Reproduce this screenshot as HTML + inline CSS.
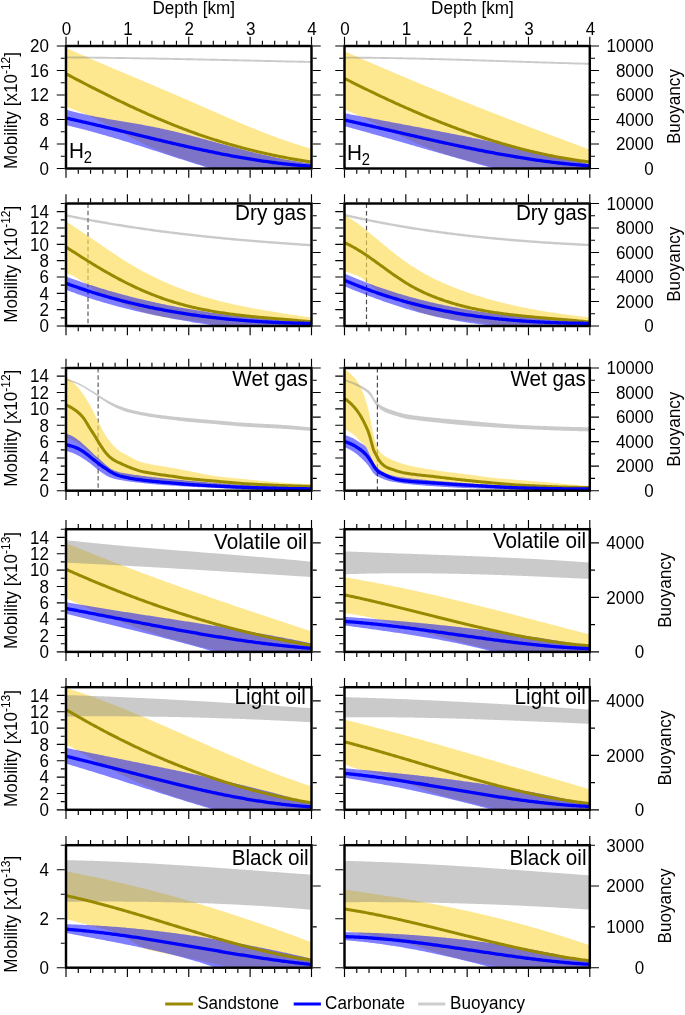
<!DOCTYPE html>
<html><head><meta charset="utf-8"><style>
html,body{margin:0;padding:0;background:#fff;width:685px;height:1015px;overflow:hidden}
svg text{font-family:"Liberation Sans", sans-serif}
svg{will-change:transform}
</style></head><body>
<svg width="685" height="1015" viewBox="0 0 685 1015" style="display:block"><rect width="685" height="1015" fill="#fff"/><defs><clipPath id="cR1L"><rect x="66.0" y="46.0" width="245.5" height="122.5"/></clipPath><clipPath id="cR1R"><rect x="344.5" y="46.0" width="245.29999999999995" height="122.5"/></clipPath><clipPath id="cR2L"><rect x="66.0" y="203.5" width="245.5" height="122.5"/></clipPath><clipPath id="cR2R"><rect x="344.5" y="203.5" width="245.29999999999995" height="122.5"/></clipPath><clipPath id="cR3L"><rect x="66.0" y="368.0" width="245.5" height="122.69999999999999"/></clipPath><clipPath id="cR3R"><rect x="344.5" y="368.0" width="245.29999999999995" height="122.69999999999999"/></clipPath><clipPath id="cR4L"><rect x="66.0" y="529.2" width="245.5" height="122.69999999999993"/></clipPath><clipPath id="cR4R"><rect x="344.5" y="529.2" width="245.29999999999995" height="122.69999999999993"/></clipPath><clipPath id="cR5L"><rect x="66.0" y="687.2" width="245.5" height="122.59999999999991"/></clipPath><clipPath id="cR5R"><rect x="344.5" y="687.2" width="245.29999999999995" height="122.59999999999991"/></clipPath><clipPath id="cR6L"><rect x="66.0" y="845.2" width="245.5" height="122.5"/></clipPath><clipPath id="cR6R"><rect x="344.5" y="845.2" width="245.29999999999995" height="122.5"/></clipPath></defs><g clip-path="url(#cR1L)"><polygon points="66.00,47.88 67.50,48.56 69.01,49.23 70.51,49.90 72.01,50.57 73.52,51.24 75.02,51.90 76.52,52.57 78.02,53.23 79.53,53.89 81.03,54.55 82.53,55.21 84.04,55.87 85.54,56.53 87.04,57.18 88.55,57.84 90.05,58.49 91.55,59.14 93.06,59.79 94.56,60.44 96.06,61.09 97.56,61.74 99.07,62.38 100.57,63.03 102.07,63.67 103.58,64.32 105.08,64.96 106.58,65.60 108.09,66.24 109.59,66.88 111.09,67.52 112.60,68.16 114.10,68.80 115.60,69.44 117.10,70.08 118.61,70.71 120.11,71.35 121.61,71.99 123.12,72.62 124.62,73.26 126.12,73.89 127.63,74.53 129.13,75.16 130.63,75.80 132.13,76.43 133.64,77.06 135.14,77.70 136.64,78.33 138.15,78.97 139.65,79.60 141.15,80.24 142.66,80.87 144.16,81.50 145.66,82.14 147.17,82.77 148.67,83.41 150.17,84.04 151.67,84.68 153.18,85.31 154.68,85.95 156.18,86.59 157.69,87.23 159.19,87.86 160.69,88.50 162.20,89.14 163.70,89.78 165.20,90.42 166.71,91.06 168.21,91.70 169.71,92.34 171.21,92.99 172.72,93.63 174.22,94.28 175.72,94.92 177.23,95.57 178.73,96.22 180.23,96.86 181.74,97.51 183.24,98.17 184.74,98.82 186.25,99.47 187.75,100.12 189.25,100.78 190.75,101.44 192.26,102.09 193.76,102.75 195.26,103.41 196.77,104.07 198.27,104.73 199.77,105.39 201.28,106.05 202.78,106.71 204.28,107.37 205.79,108.03 207.29,108.69 208.79,109.35 210.29,110.01 211.80,110.67 213.30,111.33 214.80,111.99 216.31,112.65 217.81,113.31 219.31,113.97 220.82,114.62 222.32,115.28 223.82,115.93 225.33,116.58 226.83,117.23 228.33,117.88 229.83,118.53 231.34,119.18 232.84,119.82 234.34,120.47 235.85,121.11 237.35,121.75 238.85,122.39 240.36,123.02 241.86,123.65 243.36,124.28 244.87,124.91 246.37,125.54 247.87,126.16 249.37,126.78 250.88,127.40 252.38,128.01 253.88,128.62 255.39,129.23 256.89,129.84 258.39,130.44 259.90,131.03 261.40,131.63 262.90,132.22 264.40,132.81 265.91,133.39 267.41,133.97 268.91,134.54 270.42,135.12 271.92,135.68 273.42,136.25 274.93,136.80 276.43,137.36 277.93,137.91 279.44,138.45 280.94,138.99 282.44,139.53 283.94,140.06 285.45,140.58 286.95,141.10 288.45,141.62 289.96,142.13 291.46,142.63 292.96,143.13 294.47,143.62 295.97,144.11 297.47,144.59 298.98,145.06 300.48,145.53 301.98,145.99 303.48,146.45 304.99,146.90 306.49,147.35 307.99,147.78 309.50,148.21 311.00,148.64 316.00,212.94 225.00,172.94 223.50,172.36 222.00,171.79 220.50,171.24 219.00,170.69 217.50,170.15 216.00,169.62 214.50,169.10 213.00,168.58 211.50,168.08 210.00,167.58 208.50,167.08 207.00,166.59 205.50,166.11 204.00,165.63 202.50,165.15 201.00,164.68 199.50,164.21 198.00,163.74 196.50,163.28 195.00,162.81 193.50,162.35 192.00,161.89 190.50,161.42 189.00,160.96 187.50,160.49 186.00,160.02 184.50,159.55 183.00,159.07 181.50,158.60 180.00,158.11 178.50,157.63 177.00,157.13 175.50,156.64 174.00,156.13 172.50,155.62 171.00,155.10 169.50,154.57 168.00,154.04 166.50,153.49 165.00,152.94 163.50,152.37 162.00,151.80 160.50,151.21 159.00,150.61 157.50,150.00 156.00,149.38 154.50,148.74 153.00,148.09 151.50,147.43 150.00,146.75 148.50,146.07 147.00,145.37 145.50,144.67 144.00,143.95 142.50,143.23 141.00,142.49 139.50,141.75 138.00,141.00 136.50,140.25 135.00,139.49 133.50,138.72 132.00,137.94 130.50,137.17 129.00,136.38 127.50,135.60 126.00,134.81 124.50,134.02 123.00,133.22 121.50,132.43 120.00,131.63 118.50,130.84 117.00,130.04 115.50,129.24 114.00,128.45 112.50,127.66 111.00,126.87 109.50,126.08 108.00,125.29 106.50,124.51 105.00,123.74 103.50,122.97 102.00,122.20 100.50,121.44 99.00,120.69 97.50,119.94 96.00,119.21 94.50,118.48 93.00,117.75 91.50,117.04 90.00,116.34 88.50,115.65 87.00,114.97 85.50,114.30 84.00,113.64 82.50,113.00 81.00,112.37 79.50,111.75 78.00,111.15 76.50,110.56 75.00,109.98 73.50,109.43 72.00,108.89 70.50,108.36 69.00,107.85 67.50,107.36 66.00,106.89" fill="rgba(251.9,219.6,82.7,0.65)"/><polygon points="66.00,56.43 67.50,56.44 69.01,56.45 70.51,56.46 72.01,56.48 73.52,56.49 75.02,56.50 76.52,56.52 78.02,56.53 79.53,56.55 81.03,56.56 82.53,56.58 84.04,56.59 85.54,56.61 87.04,56.62 88.55,56.64 90.05,56.66 91.55,56.67 93.06,56.69 94.56,56.71 96.06,56.73 97.56,56.74 99.07,56.76 100.57,56.78 102.07,56.80 103.58,56.82 105.08,56.84 106.58,56.86 108.09,56.88 109.59,56.90 111.09,56.92 112.60,56.94 114.10,56.96 115.60,56.98 117.10,57.00 118.61,57.03 120.11,57.05 121.61,57.07 123.12,57.09 124.62,57.12 126.12,57.14 127.63,57.16 129.13,57.19 130.63,57.21 132.13,57.23 133.64,57.26 135.14,57.28 136.64,57.31 138.15,57.33 139.65,57.36 141.15,57.38 142.66,57.41 144.16,57.43 145.66,57.46 147.17,57.49 148.67,57.51 150.17,57.54 151.67,57.57 153.18,57.59 154.68,57.62 156.18,57.65 157.69,57.67 159.19,57.70 160.69,57.73 162.20,57.76 163.70,57.79 165.20,57.82 166.71,57.84 168.21,57.87 169.71,57.90 171.21,57.93 172.72,57.96 174.22,57.99 175.72,58.02 177.23,58.05 178.73,58.08 180.23,58.11 181.74,58.14 183.24,58.17 184.74,58.20 186.25,58.23 187.75,58.26 189.25,58.29 190.75,58.32 192.26,58.36 193.76,58.39 195.26,58.42 196.77,58.45 198.27,58.48 199.77,58.51 201.28,58.55 202.78,58.58 204.28,58.61 205.79,58.64 207.29,58.67 208.79,58.71 210.29,58.74 211.80,58.77 213.30,58.81 214.80,58.84 216.31,58.87 217.81,58.90 219.31,58.94 220.82,58.97 222.32,59.00 223.82,59.04 225.33,59.07 226.83,59.10 228.33,59.14 229.83,59.17 231.34,59.21 232.84,59.24 234.34,59.27 235.85,59.31 237.35,59.34 238.85,59.38 240.36,59.41 241.86,59.44 243.36,59.48 244.87,59.51 246.37,59.55 247.87,59.58 249.37,59.62 250.88,59.65 252.38,59.68 253.88,59.72 255.39,59.75 256.89,59.79 258.39,59.82 259.90,59.86 261.40,59.89 262.90,59.93 264.40,59.96 265.91,60.00 267.41,60.03 268.91,60.07 270.42,60.10 271.92,60.14 273.42,60.17 274.93,60.20 276.43,60.24 277.93,60.27 279.44,60.31 280.94,60.34 282.44,60.38 283.94,60.41 285.45,60.45 286.95,60.48 288.45,60.52 289.96,60.55 291.46,60.59 292.96,60.62 294.47,60.65 295.97,60.69 297.47,60.72 298.98,60.76 300.48,60.79 301.98,60.83 303.48,60.86 304.99,60.89 306.49,60.93 307.99,60.96 309.50,61.00 311.00,61.03 311.00,62.93 309.50,62.90 307.99,62.86 306.49,62.83 304.99,62.79 303.48,62.76 301.98,62.73 300.48,62.69 298.98,62.66 297.47,62.62 295.97,62.59 294.47,62.55 292.96,62.52 291.46,62.49 289.96,62.45 288.45,62.42 286.95,62.38 285.45,62.35 283.94,62.31 282.44,62.28 280.94,62.24 279.44,62.21 277.93,62.17 276.43,62.14 274.93,62.10 273.42,62.07 271.92,62.04 270.42,62.00 268.91,61.97 267.41,61.93 265.91,61.90 264.40,61.86 262.90,61.83 261.40,61.79 259.90,61.76 258.39,61.72 256.89,61.69 255.39,61.65 253.88,61.62 252.38,61.58 250.88,61.55 249.37,61.52 247.87,61.48 246.37,61.45 244.87,61.41 243.36,61.38 241.86,61.34 240.36,61.31 238.85,61.28 237.35,61.24 235.85,61.21 234.34,61.17 232.84,61.14 231.34,61.11 229.83,61.07 228.33,61.04 226.83,61.00 225.33,60.97 223.82,60.94 222.32,60.90 220.82,60.87 219.31,60.84 217.81,60.80 216.31,60.77 214.80,60.74 213.30,60.71 211.80,60.67 210.29,60.64 208.79,60.61 207.29,60.57 205.79,60.54 204.28,60.51 202.78,60.48 201.28,60.45 199.77,60.41 198.27,60.38 196.77,60.35 195.26,60.32 193.76,60.29 192.26,60.26 190.75,60.22 189.25,60.19 187.75,60.16 186.25,60.13 184.74,60.10 183.24,60.07 181.74,60.04 180.23,60.01 178.73,59.98 177.23,59.95 175.72,59.92 174.22,59.89 172.72,59.86 171.21,59.83 169.71,59.80 168.21,59.77 166.71,59.74 165.20,59.72 163.70,59.69 162.20,59.66 160.69,59.63 159.19,59.60 157.69,59.57 156.18,59.55 154.68,59.52 153.18,59.49 151.67,59.47 150.17,59.44 148.67,59.41 147.17,59.39 145.66,59.36 144.16,59.33 142.66,59.31 141.15,59.28 139.65,59.26 138.15,59.23 136.64,59.21 135.14,59.18 133.64,59.16 132.13,59.13 130.63,59.11 129.13,59.09 127.63,59.06 126.12,59.04 124.62,59.02 123.12,58.99 121.61,58.97 120.11,58.95 118.61,58.93 117.10,58.90 115.60,58.88 114.10,58.86 112.60,58.84 111.09,58.82 109.59,58.80 108.09,58.78 106.58,58.76 105.08,58.74 103.58,58.72 102.07,58.70 100.57,58.68 99.07,58.66 97.56,58.64 96.06,58.63 94.56,58.61 93.06,58.59 91.55,58.57 90.05,58.56 88.55,58.54 87.04,58.52 85.54,58.51 84.04,58.49 82.53,58.48 81.03,58.46 79.53,58.45 78.02,58.43 76.52,58.42 75.02,58.40 73.52,58.39 72.01,58.38 70.51,58.36 69.01,58.35 67.50,58.34 66.00,58.33" fill="rgba(128,128,128,0.42)"/><polygon points="66.00,109.69 67.50,110.11 69.01,110.52 70.51,110.92 72.01,111.31 73.52,111.70 75.02,112.07 76.52,112.44 78.02,112.80 79.53,113.16 81.03,113.51 82.53,113.85 84.04,114.19 85.54,114.52 87.04,114.84 88.55,115.16 90.05,115.47 91.55,115.78 93.06,116.08 94.56,116.38 96.06,116.68 97.56,116.97 99.07,117.25 100.57,117.53 102.07,117.81 103.58,118.09 105.08,118.36 106.58,118.63 108.09,118.90 109.59,119.16 111.09,119.42 112.60,119.68 114.10,119.94 115.60,120.20 117.10,120.46 118.61,120.71 120.11,120.97 121.61,121.22 123.12,121.47 124.62,121.73 126.12,121.98 127.63,122.24 129.13,122.49 130.63,122.75 132.13,123.00 133.64,123.26 135.14,123.52 136.64,123.78 138.15,124.05 139.65,124.31 141.15,124.58 142.66,124.85 144.16,125.13 145.66,125.40 147.17,125.68 148.67,125.97 150.17,126.26 151.67,126.55 153.18,126.85 154.68,127.15 156.18,127.45 157.69,127.76 159.19,128.08 160.69,128.40 162.20,128.72 163.70,129.05 165.20,129.39 166.71,129.73 168.21,130.07 169.71,130.42 171.21,130.77 172.72,131.12 174.22,131.48 175.72,131.84 177.23,132.20 178.73,132.57 180.23,132.94 181.74,133.32 183.24,133.69 184.74,134.07 186.25,134.46 187.75,134.84 189.25,135.23 190.75,135.62 192.26,136.01 193.76,136.40 195.26,136.80 196.77,137.20 198.27,137.60 199.77,138.00 201.28,138.40 202.78,138.80 204.28,139.21 205.79,139.61 207.29,140.02 208.79,140.43 210.29,140.84 211.80,141.25 213.30,141.66 214.80,142.07 216.31,142.48 217.81,142.89 219.31,143.30 220.82,143.71 222.32,144.12 223.82,144.53 225.33,144.94 226.83,145.34 228.33,145.75 229.83,146.16 231.34,146.56 232.84,146.97 234.34,147.37 235.85,147.77 237.35,148.17 238.85,148.57 240.36,148.97 241.86,149.37 243.36,149.76 244.87,150.15 246.37,150.54 247.87,150.93 249.37,151.31 250.88,151.69 252.38,152.07 253.88,152.45 255.39,152.82 256.89,153.19 258.39,153.56 259.90,153.92 261.40,154.28 262.90,154.64 264.40,154.99 265.91,155.34 267.41,155.68 268.91,156.02 270.42,156.36 271.92,156.69 273.42,157.02 274.93,157.35 276.43,157.67 277.93,157.98 279.44,158.29 280.94,158.59 282.44,158.89 283.94,159.19 285.45,159.47 286.95,159.76 288.45,160.04 289.96,160.31 291.46,160.57 292.96,160.83 294.47,161.09 295.97,161.33 297.47,161.57 298.98,161.81 300.48,162.04 301.98,162.26 303.48,162.47 304.99,162.68 306.49,162.88 307.99,163.07 309.50,163.26 311.00,163.44 316.00,212.79 225.00,172.79 223.50,172.36 222.00,171.92 220.50,171.48 219.00,171.03 217.50,170.59 216.00,170.14 214.50,169.69 213.00,169.23 211.50,168.78 210.00,168.32 208.50,167.86 207.00,167.40 205.50,166.94 204.00,166.48 202.50,166.01 201.00,165.54 199.50,165.08 198.00,164.61 196.50,164.13 195.00,163.66 193.50,163.19 192.00,162.71 190.50,162.24 189.00,161.76 187.50,161.28 186.00,160.80 184.50,160.32 183.00,159.84 181.50,159.36 180.00,158.88 178.50,158.39 177.00,157.91 175.50,157.43 174.00,156.94 172.50,156.46 171.00,155.97 169.50,155.49 168.00,155.00 166.50,154.52 165.00,154.03 163.50,153.55 162.00,153.06 160.50,152.58 159.00,152.09 157.50,151.61 156.00,151.12 154.50,150.64 153.00,150.16 151.50,149.67 150.00,149.19 148.50,148.71 147.00,148.23 145.50,147.75 144.00,147.27 142.50,146.79 141.00,146.31 139.50,145.84 138.00,145.36 136.50,144.89 135.00,144.42 133.50,143.95 132.00,143.48 130.50,143.01 129.00,142.54 127.50,142.08 126.00,141.61 124.50,141.15 123.00,140.69 121.50,140.23 120.00,139.78 118.50,139.32 117.00,138.87 115.50,138.42 114.00,137.97 112.50,137.53 111.00,137.08 109.50,136.64 108.00,136.20 106.50,135.77 105.00,135.34 103.50,134.90 102.00,134.48 100.50,134.05 99.00,133.63 97.50,133.21 96.00,132.79 94.50,132.38 93.00,131.97 91.50,131.56 90.00,131.15 88.50,130.75 87.00,130.35 85.50,129.96 84.00,129.57 82.50,129.18 81.00,128.80 79.50,128.42 78.00,128.04 76.50,127.67 75.00,127.30 73.50,126.93 72.00,126.57 70.50,126.21 69.00,125.86 67.50,125.51 66.00,125.17" fill="rgba(0,0,255,0.5)"/><polyline points="66.00,73.83 67.50,74.62 69.01,75.41 70.51,76.20 72.01,76.99 73.52,77.77 75.02,78.55 76.52,79.34 78.02,80.12 79.53,80.90 81.03,81.68 82.53,82.45 84.04,83.23 85.54,84.00 87.04,84.78 88.55,85.55 90.05,86.32 91.55,87.08 93.06,87.85 94.56,88.61 96.06,89.37 97.56,90.13 99.07,90.89 100.57,91.65 102.07,92.40 103.58,93.15 105.08,93.90 106.58,94.65 108.09,95.40 109.59,96.14 111.09,96.88 112.60,97.62 114.10,98.35 115.60,99.09 117.10,99.82 118.61,100.55 120.11,101.27 121.61,102.00 123.12,102.72 124.62,103.43 126.12,104.15 127.63,104.86 129.13,105.57 130.63,106.28 132.13,106.98 133.64,107.68 135.14,108.38 136.64,109.07 138.15,109.76 139.65,110.45 141.15,111.13 142.66,111.81 144.16,112.49 145.66,113.17 147.17,113.84 148.67,114.51 150.17,115.17 151.67,115.83 153.18,116.49 154.68,117.14 156.18,117.79 157.69,118.44 159.19,119.08 160.69,119.72 162.20,120.35 163.70,120.98 165.20,121.61 166.71,122.23 168.21,122.85 169.71,123.46 171.21,124.07 172.72,124.68 174.22,125.28 175.72,125.88 177.23,126.47 178.73,127.06 180.23,127.64 181.74,128.22 183.24,128.79 184.74,129.37 186.25,129.93 187.75,130.49 189.25,131.05 190.75,131.60 192.26,132.15 193.76,132.69 195.26,133.23 196.77,133.76 198.27,134.29 199.77,134.81 201.28,135.33 202.78,135.85 204.28,136.36 205.79,136.87 207.29,137.37 208.79,137.87 210.29,138.36 211.80,138.85 213.30,139.33 214.80,139.81 216.31,140.28 217.81,140.76 219.31,141.22 220.82,141.68 222.32,142.14 223.82,142.59 225.33,143.04 226.83,143.49 228.33,143.93 229.83,144.36 231.34,144.79 232.84,145.22 234.34,145.64 235.85,146.06 237.35,146.48 238.85,146.89 240.36,147.29 241.86,147.70 243.36,148.09 244.87,148.49 246.37,148.88 247.87,149.26 249.37,149.64 250.88,150.02 252.38,150.39 253.88,150.76 255.39,151.13 256.89,151.49 258.39,151.84 259.90,152.19 261.40,152.54 262.90,152.89 264.40,153.23 265.91,153.56 267.41,153.90 268.91,154.22 270.42,154.55 271.92,154.87 273.42,155.19 274.93,155.50 276.43,155.81 277.93,156.11 279.44,156.41 280.94,156.71 282.44,157.00 283.94,157.29 285.45,157.58 286.95,157.86 288.45,158.14 289.96,158.41 291.46,158.68 292.96,158.95 294.47,159.21 295.97,159.47 297.47,159.73 298.98,159.98 300.48,160.23 301.98,160.47 303.48,160.71 304.99,160.95 306.49,161.18 307.99,161.41 309.50,161.64 311.00,161.86" fill="none" stroke="rgb(152,137,0)" stroke-width="3" stroke-linejoin="round"/><polyline points="66.00,118.06 67.50,118.39 69.01,118.72 70.51,119.05 72.01,119.39 73.52,119.72 75.02,120.06 76.52,120.40 78.02,120.74 79.53,121.08 81.03,121.42 82.53,121.77 84.04,122.11 85.54,122.46 87.04,122.81 88.55,123.16 90.05,123.51 91.55,123.86 93.06,124.21 94.56,124.56 96.06,124.92 97.56,125.27 99.07,125.63 100.57,125.98 102.07,126.34 103.58,126.70 105.08,127.06 106.58,127.42 108.09,127.77 109.59,128.14 111.09,128.50 112.60,128.86 114.10,129.22 115.60,129.58 117.10,129.94 118.61,130.31 120.11,130.67 121.61,131.03 123.12,131.40 124.62,131.76 126.12,132.13 127.63,132.49 129.13,132.86 130.63,133.22 132.13,133.58 133.64,133.95 135.14,134.31 136.64,134.68 138.15,135.04 139.65,135.41 141.15,135.77 142.66,136.13 144.16,136.50 145.66,136.86 147.17,137.22 148.67,137.58 150.17,137.95 151.67,138.31 153.18,138.67 154.68,139.03 156.18,139.39 157.69,139.75 159.19,140.11 160.69,140.46 162.20,140.82 163.70,141.18 165.20,141.53 166.71,141.89 168.21,142.24 169.71,142.59 171.21,142.94 172.72,143.29 174.22,143.64 175.72,143.99 177.23,144.34 178.73,144.69 180.23,145.03 181.74,145.37 183.24,145.72 184.74,146.06 186.25,146.40 187.75,146.74 189.25,147.07 190.75,147.41 192.26,147.74 193.76,148.08 195.26,148.41 196.77,148.74 198.27,149.06 199.77,149.39 201.28,149.71 202.78,150.04 204.28,150.36 205.79,150.68 207.29,150.99 208.79,151.31 210.29,151.62 211.80,151.93 213.30,152.24 214.80,152.55 216.31,152.85 217.81,153.16 219.31,153.46 220.82,153.76 222.32,154.05 223.82,154.35 225.33,154.64 226.83,154.93 228.33,155.21 229.83,155.50 231.34,155.78 232.84,156.06 234.34,156.34 235.85,156.61 237.35,156.88 238.85,157.15 240.36,157.42 241.86,157.68 243.36,157.94 244.87,158.20 246.37,158.45 247.87,158.71 249.37,158.96 250.88,159.20 252.38,159.45 253.88,159.69 255.39,159.92 256.89,160.16 258.39,160.39 259.90,160.62 261.40,160.84 262.90,161.06 264.40,161.28 265.91,161.49 267.41,161.70 268.91,161.91 270.42,162.12 271.92,162.32 273.42,162.51 274.93,162.71 276.43,162.90 277.93,163.08 279.44,163.27 280.94,163.45 282.44,163.62 283.94,163.79 285.45,163.96 286.95,164.12 288.45,164.28 289.96,164.44 291.46,164.59 292.96,164.74 294.47,164.88 295.97,165.02 297.47,165.16 298.98,165.29 300.48,165.42 301.98,165.54 303.48,165.66 304.99,165.77 306.49,165.88 307.99,165.99 309.50,166.09 311.00,166.18" fill="none" stroke="rgb(0,0,255)" stroke-width="3.3" stroke-linejoin="round"/></g><g clip-path="url(#cR1R)"><polygon points="344.60,51.28 346.11,51.95 347.62,52.62 349.13,53.28 350.63,53.95 352.14,54.62 353.65,55.28 355.16,55.95 356.67,56.61 358.18,57.28 359.69,57.94 361.20,58.60 362.70,59.26 364.21,59.92 365.72,60.57 367.23,61.23 368.74,61.89 370.25,62.54 371.76,63.20 373.26,63.85 374.77,64.50 376.28,65.15 377.79,65.80 379.30,66.45 380.81,67.10 382.32,67.75 383.82,68.39 385.33,69.04 386.84,69.69 388.35,70.33 389.86,70.97 391.37,71.61 392.88,72.26 394.39,72.90 395.89,73.53 397.40,74.17 398.91,74.81 400.42,75.45 401.93,76.08 403.44,76.72 404.95,77.35 406.45,77.99 407.96,78.62 409.47,79.25 410.98,79.88 412.49,80.51 414.00,81.14 415.51,81.77 417.01,82.39 418.52,83.02 420.03,83.65 421.54,84.27 423.05,84.89 424.56,85.52 426.07,86.14 427.58,86.76 429.08,87.38 430.59,88.00 432.10,88.62 433.61,89.24 435.12,89.86 436.63,90.47 438.14,91.09 439.64,91.70 441.15,92.32 442.66,92.93 444.17,93.55 445.68,94.16 447.19,94.77 448.70,95.38 450.20,95.99 451.71,96.60 453.22,97.21 454.73,97.81 456.24,98.42 457.75,99.03 459.26,99.63 460.77,100.23 462.27,100.84 463.78,101.44 465.29,102.04 466.80,102.65 468.31,103.25 469.82,103.85 471.33,104.45 472.83,105.04 474.34,105.64 475.85,106.24 477.36,106.84 478.87,107.43 480.38,108.03 481.89,108.62 483.40,109.22 484.90,109.81 486.41,110.40 487.92,110.99 489.43,111.58 490.94,112.17 492.45,112.76 493.96,113.35 495.46,113.94 496.97,114.53 498.48,115.12 499.99,115.70 501.50,116.29 503.01,116.87 504.52,117.46 506.02,118.04 507.53,118.63 509.04,119.21 510.55,119.79 512.06,120.37 513.57,120.95 515.08,121.53 516.59,122.11 518.09,122.69 519.60,123.27 521.11,123.85 522.62,124.43 524.13,125.00 525.64,125.58 527.15,126.16 528.65,126.73 530.16,127.30 531.67,127.88 533.18,128.45 534.69,129.02 536.20,129.60 537.71,130.17 539.21,130.74 540.72,131.31 542.23,131.88 543.74,132.45 545.25,133.02 546.76,133.59 548.27,134.15 549.78,134.72 551.28,135.29 552.79,135.86 554.30,136.42 555.81,136.99 557.32,137.55 558.83,138.12 560.34,138.68 561.84,139.24 563.35,139.81 564.86,140.37 566.37,140.93 567.88,141.49 569.39,142.05 570.90,142.61 572.40,143.17 573.91,143.73 575.42,144.29 576.93,144.85 578.44,145.41 579.95,145.96 581.46,146.52 582.97,147.08 584.47,147.63 585.98,148.19 587.49,148.75 589.00,149.30 594.00,212.10 510.00,172.10 508.50,171.61 506.99,171.13 505.49,170.65 503.99,170.19 502.48,169.73 500.98,169.28 499.47,168.84 497.97,168.41 496.47,167.98 494.96,167.56 493.46,167.14 491.96,166.73 490.45,166.32 488.95,165.92 487.45,165.52 485.94,165.13 484.44,164.74 482.93,164.35 481.43,163.96 479.93,163.58 478.42,163.19 476.92,162.81 475.42,162.43 473.91,162.05 472.41,161.66 470.91,161.28 469.40,160.89 467.90,160.51 466.39,160.12 464.89,159.73 463.39,159.33 461.88,158.93 460.38,158.53 458.88,158.12 457.37,157.71 455.87,157.30 454.37,156.87 452.86,156.45 451.36,156.01 449.85,155.57 448.35,155.12 446.85,154.66 445.34,154.20 443.84,153.72 442.34,153.24 440.83,152.75 439.33,152.24 437.83,151.73 436.32,151.21 434.82,150.67 433.31,150.12 431.81,149.56 430.31,149.00 428.80,148.41 427.30,147.82 425.80,147.22 424.29,146.61 422.79,145.99 421.29,145.37 419.78,144.73 418.28,144.08 416.77,143.43 415.27,142.77 413.77,142.10 412.26,141.43 410.76,140.75 409.26,140.06 407.75,139.37 406.25,138.67 404.75,137.96 403.24,137.26 401.74,136.54 400.23,135.82 398.73,135.10 397.23,134.38 395.72,133.65 394.22,132.92 392.72,132.19 391.21,131.45 389.71,130.72 388.21,129.98 386.70,129.24 385.20,128.50 383.69,127.76 382.19,127.02 380.69,126.28 379.18,125.54 377.68,124.81 376.18,124.07 374.67,123.33 373.17,122.60 371.67,121.87 370.16,121.14 368.66,120.42 367.15,119.70 365.65,118.98 364.15,118.27 362.64,117.56 361.14,116.86 359.64,116.16 358.13,115.46 356.63,114.78 355.13,114.10 353.62,113.42 352.12,112.75 350.61,112.09 349.11,111.44 347.61,110.80 346.10,110.16 344.60,109.53" fill="rgba(251.9,219.6,82.7,0.65)"/><polygon points="344.60,56.66 346.11,56.66 347.62,56.67 349.13,56.68 350.63,56.68 352.14,56.69 353.65,56.70 355.16,56.71 356.67,56.72 358.18,56.73 359.69,56.75 361.20,56.76 362.70,56.77 364.21,56.79 365.72,56.80 367.23,56.82 368.74,56.83 370.25,56.85 371.76,56.87 373.26,56.89 374.77,56.91 376.28,56.93 377.79,56.95 379.30,56.97 380.81,56.99 382.32,57.01 383.82,57.04 385.33,57.06 386.84,57.08 388.35,57.11 389.86,57.13 391.37,57.16 392.88,57.19 394.39,57.21 395.89,57.24 397.40,57.27 398.91,57.30 400.42,57.33 401.93,57.36 403.44,57.39 404.95,57.42 406.45,57.45 407.96,57.48 409.47,57.52 410.98,57.55 412.49,57.58 414.00,57.62 415.51,57.65 417.01,57.69 418.52,57.72 420.03,57.76 421.54,57.79 423.05,57.83 424.56,57.87 426.07,57.90 427.58,57.94 429.08,57.98 430.59,58.02 432.10,58.06 433.61,58.10 435.12,58.14 436.63,58.18 438.14,58.22 439.64,58.26 441.15,58.30 442.66,58.34 444.17,58.38 445.68,58.43 447.19,58.47 448.70,58.51 450.20,58.56 451.71,58.60 453.22,58.64 454.73,58.69 456.24,58.73 457.75,58.78 459.26,58.82 460.77,58.87 462.27,58.91 463.78,58.96 465.29,59.00 466.80,59.05 468.31,59.09 469.82,59.14 471.33,59.19 472.83,59.23 474.34,59.28 475.85,59.33 477.36,59.38 478.87,59.42 480.38,59.47 481.89,59.52 483.40,59.57 484.90,59.62 486.41,59.66 487.92,59.71 489.43,59.76 490.94,59.81 492.45,59.86 493.96,59.91 495.46,59.96 496.97,60.01 498.48,60.05 499.99,60.10 501.50,60.15 503.01,60.20 504.52,60.25 506.02,60.30 507.53,60.35 509.04,60.40 510.55,60.45 512.06,60.50 513.57,60.55 515.08,60.60 516.59,60.65 518.09,60.70 519.60,60.75 521.11,60.79 522.62,60.84 524.13,60.89 525.64,60.94 527.15,60.99 528.65,61.04 530.16,61.09 531.67,61.14 533.18,61.19 534.69,61.24 536.20,61.28 537.71,61.33 539.21,61.38 540.72,61.43 542.23,61.48 543.74,61.52 545.25,61.57 546.76,61.62 548.27,61.67 549.78,61.71 551.28,61.76 552.79,61.81 554.30,61.86 555.81,61.90 557.32,61.95 558.83,61.99 560.34,62.04 561.84,62.09 563.35,62.13 564.86,62.18 566.37,62.22 567.88,62.26 569.39,62.31 570.90,62.35 572.40,62.40 573.91,62.44 575.42,62.48 576.93,62.53 578.44,62.57 579.95,62.61 581.46,62.65 582.97,62.69 584.47,62.74 585.98,62.78 587.49,62.82 589.00,62.86 589.00,64.76 587.49,64.72 585.98,64.68 584.47,64.64 582.97,64.59 581.46,64.55 579.95,64.51 578.44,64.47 576.93,64.43 575.42,64.38 573.91,64.34 572.40,64.30 570.90,64.25 569.39,64.21 567.88,64.16 566.37,64.12 564.86,64.08 563.35,64.03 561.84,63.99 560.34,63.94 558.83,63.89 557.32,63.85 555.81,63.80 554.30,63.76 552.79,63.71 551.28,63.66 549.78,63.61 548.27,63.57 546.76,63.52 545.25,63.47 543.74,63.42 542.23,63.38 540.72,63.33 539.21,63.28 537.71,63.23 536.20,63.18 534.69,63.14 533.18,63.09 531.67,63.04 530.16,62.99 528.65,62.94 527.15,62.89 525.64,62.84 524.13,62.79 522.62,62.74 521.11,62.69 519.60,62.65 518.09,62.60 516.59,62.55 515.08,62.50 513.57,62.45 512.06,62.40 510.55,62.35 509.04,62.30 507.53,62.25 506.02,62.20 504.52,62.15 503.01,62.10 501.50,62.05 499.99,62.00 498.48,61.95 496.97,61.91 495.46,61.86 493.96,61.81 492.45,61.76 490.94,61.71 489.43,61.66 487.92,61.61 486.41,61.56 484.90,61.52 483.40,61.47 481.89,61.42 480.38,61.37 478.87,61.32 477.36,61.28 475.85,61.23 474.34,61.18 472.83,61.13 471.33,61.09 469.82,61.04 468.31,60.99 466.80,60.95 465.29,60.90 463.78,60.86 462.27,60.81 460.77,60.77 459.26,60.72 457.75,60.68 456.24,60.63 454.73,60.59 453.22,60.54 451.71,60.50 450.20,60.46 448.70,60.41 447.19,60.37 445.68,60.33 444.17,60.28 442.66,60.24 441.15,60.20 439.64,60.16 438.14,60.12 436.63,60.08 435.12,60.04 433.61,60.00 432.10,59.96 430.59,59.92 429.08,59.88 427.58,59.84 426.07,59.80 424.56,59.77 423.05,59.73 421.54,59.69 420.03,59.66 418.52,59.62 417.01,59.59 415.51,59.55 414.00,59.52 412.49,59.48 410.98,59.45 409.47,59.42 407.96,59.38 406.45,59.35 404.95,59.32 403.44,59.29 401.93,59.26 400.42,59.23 398.91,59.20 397.40,59.17 395.89,59.14 394.39,59.11 392.88,59.09 391.37,59.06 389.86,59.03 388.35,59.01 386.84,58.98 385.33,58.96 383.82,58.94 382.32,58.91 380.81,58.89 379.30,58.87 377.79,58.85 376.28,58.83 374.77,58.81 373.26,58.79 371.76,58.77 370.25,58.75 368.74,58.73 367.23,58.72 365.72,58.70 364.21,58.69 362.70,58.67 361.20,58.66 359.69,58.65 358.18,58.63 356.67,58.62 355.16,58.61 353.65,58.60 352.14,58.59 350.63,58.58 349.13,58.58 347.62,58.57 346.11,58.56 344.60,58.56" fill="rgba(128,128,128,0.42)"/><polygon points="344.60,113.22 346.11,113.51 347.62,113.80 349.13,114.09 350.63,114.38 352.14,114.67 353.65,114.96 355.16,115.25 356.67,115.53 358.18,115.82 359.69,116.11 361.20,116.40 362.70,116.69 364.21,116.98 365.72,117.26 367.23,117.55 368.74,117.84 370.25,118.12 371.76,118.41 373.26,118.70 374.77,118.98 376.28,119.27 377.79,119.56 379.30,119.84 380.81,120.13 382.32,120.41 383.82,120.70 385.33,120.99 386.84,121.27 388.35,121.56 389.86,121.84 391.37,122.13 392.88,122.42 394.39,122.70 395.89,122.99 397.40,123.27 398.91,123.56 400.42,123.85 401.93,124.13 403.44,124.42 404.95,124.70 406.45,124.99 407.96,125.28 409.47,125.56 410.98,125.85 412.49,126.14 414.00,126.42 415.51,126.71 417.01,127.00 418.52,127.29 420.03,127.58 421.54,127.86 423.05,128.15 424.56,128.44 426.07,128.73 427.58,129.02 429.08,129.31 430.59,129.60 432.10,129.89 433.61,130.18 435.12,130.47 436.63,130.76 438.14,131.05 439.64,131.34 441.15,131.64 442.66,131.93 444.17,132.22 445.68,132.52 447.19,132.81 448.70,133.10 450.20,133.40 451.71,133.69 453.22,133.99 454.73,134.29 456.24,134.58 457.75,134.88 459.26,135.18 460.77,135.48 462.27,135.77 463.78,136.07 465.29,136.37 466.80,136.67 468.31,136.98 469.82,137.28 471.33,137.58 472.83,137.88 474.34,138.19 475.85,138.49 477.36,138.80 478.87,139.10 480.38,139.41 481.89,139.71 483.40,140.02 484.90,140.33 486.41,140.64 487.92,140.95 489.43,141.26 490.94,141.57 492.45,141.88 493.96,142.20 495.46,142.51 496.97,142.83 498.48,143.14 499.99,143.46 501.50,143.77 503.01,144.09 504.52,144.41 506.02,144.73 507.53,145.05 509.04,145.37 510.55,145.69 512.06,146.02 513.57,146.34 515.08,146.67 516.59,146.99 518.09,147.32 519.60,147.65 521.11,147.98 522.62,148.31 524.13,148.64 525.64,148.97 527.15,149.30 528.65,149.64 530.16,149.97 531.67,150.31 533.18,150.65 534.69,150.99 536.20,151.33 537.71,151.67 539.21,152.01 540.72,152.35 542.23,152.70 543.74,153.04 545.25,153.39 546.76,153.74 548.27,154.09 549.78,154.44 551.28,154.79 552.79,155.14 554.30,155.49 555.81,155.85 557.32,156.21 558.83,156.56 560.34,156.92 561.84,157.28 563.35,157.64 564.86,158.01 566.37,158.37 567.88,158.74 569.39,159.10 570.90,159.47 572.40,159.84 573.91,160.21 575.42,160.59 576.93,160.96 578.44,161.34 579.95,161.71 581.46,162.09 582.97,162.47 584.47,162.85 585.98,163.24 587.49,163.62 589.00,164.01 594.00,211.56 505.00,171.56 503.49,171.14 501.97,170.73 500.46,170.31 498.95,169.89 497.43,169.48 495.92,169.06 494.41,168.64 492.89,168.22 491.38,167.80 489.87,167.37 488.35,166.95 486.84,166.53 485.33,166.11 483.82,165.68 482.30,165.26 480.79,164.83 479.28,164.40 477.76,163.98 476.25,163.55 474.74,163.12 473.22,162.69 471.71,162.27 470.20,161.84 468.68,161.41 467.17,160.98 465.66,160.55 464.14,160.12 462.63,159.68 461.12,159.25 459.60,158.82 458.09,158.39 456.58,157.95 455.06,157.52 453.55,157.09 452.04,156.65 450.52,156.22 449.01,155.79 447.50,155.35 445.98,154.92 444.47,154.48 442.96,154.05 441.45,153.61 439.93,153.18 438.42,152.74 436.91,152.31 435.39,151.87 433.88,151.44 432.37,151.00 430.85,150.56 429.34,150.13 427.83,149.69 426.31,149.26 424.80,148.82 423.29,148.38 421.77,147.95 420.26,147.51 418.75,147.08 417.23,146.64 415.72,146.21 414.21,145.77 412.69,145.34 411.18,144.90 409.67,144.47 408.15,144.03 406.64,143.60 405.13,143.17 403.62,142.73 402.10,142.30 400.59,141.87 399.08,141.43 397.56,141.00 396.05,140.57 394.54,140.14 393.02,139.70 391.51,139.27 390.00,138.84 388.48,138.41 386.97,137.98 385.46,137.55 383.94,137.13 382.43,136.70 380.92,136.27 379.40,135.84 377.89,135.42 376.38,134.99 374.86,134.56 373.35,134.14 371.84,133.71 370.32,133.29 368.81,132.87 367.30,132.45 365.78,132.02 364.27,131.60 362.76,131.18 361.25,130.76 359.73,130.34 358.22,129.93 356.71,129.51 355.19,129.09 353.68,128.68 352.17,128.26 350.65,127.85 349.14,127.44 347.63,127.02 346.11,126.61 344.60,126.20" fill="rgba(0,0,255,0.5)"/><polyline points="344.60,78.46 346.11,79.23 347.62,80.00 349.13,80.76 350.63,81.52 352.14,82.29 353.65,83.04 355.16,83.80 356.67,84.55 358.18,85.30 359.69,86.05 361.20,86.80 362.70,87.54 364.21,88.29 365.72,89.03 367.23,89.76 368.74,90.50 370.25,91.23 371.76,91.96 373.26,92.69 374.77,93.41 376.28,94.13 377.79,94.85 379.30,95.57 380.81,96.28 382.32,96.99 383.82,97.70 385.33,98.41 386.84,99.11 388.35,99.81 389.86,100.51 391.37,101.21 392.88,101.90 394.39,102.59 395.89,103.28 397.40,103.96 398.91,104.64 400.42,105.32 401.93,106.00 403.44,106.67 404.95,107.34 406.45,108.00 407.96,108.67 409.47,109.33 410.98,109.99 412.49,110.64 414.00,111.30 415.51,111.94 417.01,112.59 418.52,113.23 420.03,113.87 421.54,114.51 423.05,115.15 424.56,115.78 426.07,116.40 427.58,117.03 429.08,117.65 430.59,118.27 432.10,118.88 433.61,119.49 435.12,120.10 436.63,120.71 438.14,121.31 439.64,121.91 441.15,122.50 442.66,123.09 444.17,123.68 445.68,124.27 447.19,124.85 448.70,125.43 450.20,126.00 451.71,126.57 453.22,127.14 454.73,127.71 456.24,128.27 457.75,128.83 459.26,129.38 460.77,129.93 462.27,130.48 463.78,131.02 465.29,131.56 466.80,132.10 468.31,132.63 469.82,133.16 471.33,133.68 472.83,134.20 474.34,134.72 475.85,135.24 477.36,135.75 478.87,136.25 480.38,136.75 481.89,137.25 483.40,137.75 484.90,138.24 486.41,138.73 487.92,139.21 489.43,139.69 490.94,140.17 492.45,140.64 493.96,141.11 495.46,141.57 496.97,142.03 498.48,142.48 499.99,142.94 501.50,143.38 503.01,143.83 504.52,144.27 506.02,144.70 507.53,145.14 509.04,145.56 510.55,145.99 512.06,146.41 513.57,146.82 515.08,147.23 516.59,147.64 518.09,148.04 519.60,148.44 521.11,148.83 522.62,149.22 524.13,149.61 525.64,149.99 527.15,150.36 528.65,150.74 530.16,151.11 531.67,151.47 533.18,151.83 534.69,152.18 536.20,152.53 537.71,152.88 539.21,153.22 540.72,153.56 542.23,153.89 543.74,154.22 545.25,154.54 546.76,154.86 548.27,155.17 549.78,155.48 551.28,155.79 552.79,156.09 554.30,156.38 555.81,156.67 557.32,156.96 558.83,157.24 560.34,157.52 561.84,157.79 563.35,158.06 564.86,158.32 566.37,158.58 567.88,158.83 569.39,159.08 570.90,159.32 572.40,159.56 573.91,159.80 575.42,160.02 576.93,160.25 578.44,160.47 579.95,160.68 581.46,160.89 582.97,161.09 584.47,161.29 585.98,161.49 587.49,161.67 589.00,161.86" fill="none" stroke="rgb(152,137,0)" stroke-width="3" stroke-linejoin="round"/><polyline points="344.60,120.03 346.11,120.36 347.62,120.70 349.13,121.04 350.63,121.38 352.14,121.72 353.65,122.06 355.16,122.41 356.67,122.75 358.18,123.09 359.69,123.44 361.20,123.78 362.70,124.13 364.21,124.47 365.72,124.82 367.23,125.16 368.74,125.51 370.25,125.86 371.76,126.21 373.26,126.55 374.77,126.90 376.28,127.25 377.79,127.60 379.30,127.95 380.81,128.30 382.32,128.65 383.82,129.00 385.33,129.35 386.84,129.70 388.35,130.05 389.86,130.40 391.37,130.75 392.88,131.09 394.39,131.44 395.89,131.79 397.40,132.14 398.91,132.49 400.42,132.84 401.93,133.19 403.44,133.54 404.95,133.89 406.45,134.24 407.96,134.58 409.47,134.93 410.98,135.28 412.49,135.63 414.00,135.97 415.51,136.32 417.01,136.66 418.52,137.01 420.03,137.35 421.54,137.70 423.05,138.04 424.56,138.38 426.07,138.72 427.58,139.07 429.08,139.41 430.59,139.75 432.10,140.08 433.61,140.42 435.12,140.76 436.63,141.10 438.14,141.43 439.64,141.77 441.15,142.10 442.66,142.43 444.17,142.77 445.68,143.10 447.19,143.43 448.70,143.76 450.20,144.08 451.71,144.41 453.22,144.74 454.73,145.06 456.24,145.38 457.75,145.70 459.26,146.03 460.77,146.34 462.27,146.66 463.78,146.98 465.29,147.29 466.80,147.61 468.31,147.92 469.82,148.23 471.33,148.54 472.83,148.85 474.34,149.16 475.85,149.46 477.36,149.76 478.87,150.07 480.38,150.37 481.89,150.66 483.40,150.96 484.90,151.26 486.41,151.55 487.92,151.84 489.43,152.13 490.94,152.42 492.45,152.70 493.96,152.99 495.46,153.27 496.97,153.55 498.48,153.83 499.99,154.10 501.50,154.38 503.01,154.65 504.52,154.92 506.02,155.18 507.53,155.45 509.04,155.71 510.55,155.97 512.06,156.23 513.57,156.49 515.08,156.74 516.59,157.00 518.09,157.24 519.60,157.49 521.11,157.74 522.62,157.98 524.13,158.22 525.64,158.46 527.15,158.69 528.65,158.92 530.16,159.15 531.67,159.38 533.18,159.60 534.69,159.83 536.20,160.04 537.71,160.26 539.21,160.47 540.72,160.69 542.23,160.89 543.74,161.10 545.25,161.30 546.76,161.50 548.27,161.70 549.78,161.89 551.28,162.08 552.79,162.27 554.30,162.45 555.81,162.64 557.32,162.81 558.83,162.99 560.34,163.16 561.84,163.33 563.35,163.50 564.86,163.66 566.37,163.82 567.88,163.97 569.39,164.13 570.90,164.28 572.40,164.42 573.91,164.56 575.42,164.70 576.93,164.84 578.44,164.97 579.95,165.10 581.46,165.23 582.97,165.35 584.47,165.47 585.98,165.58 587.49,165.69 589.00,165.80" fill="none" stroke="rgb(0,0,255)" stroke-width="3.3" stroke-linejoin="round"/></g><g clip-path="url(#cR2L)"><line x1="88.0" y1="203.5" x2="88.0" y2="326.0" stroke="rgba(0,0,0,0.45)" stroke-width="1.7" stroke-dasharray="4.6 2.6"/><polygon points="66.00,221.37 67.50,222.31 69.01,223.26 70.51,224.22 72.01,225.19 73.52,226.17 75.02,227.15 76.52,228.14 78.02,229.14 79.53,230.15 81.03,231.16 82.53,232.18 84.04,233.20 85.54,234.23 87.04,235.26 88.55,236.29 90.05,237.33 91.55,238.37 93.06,239.41 94.56,240.45 96.06,241.49 97.56,242.53 99.07,243.57 100.57,244.61 102.07,245.65 103.58,246.68 105.08,247.71 106.58,248.74 108.09,249.77 109.59,250.79 111.09,251.81 112.60,252.82 114.10,253.82 115.60,254.82 117.10,255.81 118.61,256.79 120.11,257.77 121.61,258.73 123.12,259.69 124.62,260.63 126.12,261.57 127.63,262.49 129.13,263.41 130.63,264.31 132.13,265.20 133.64,266.08 135.14,266.95 136.64,267.81 138.15,268.66 139.65,269.50 141.15,270.33 142.66,271.15 144.16,271.96 145.66,272.75 147.17,273.54 148.67,274.32 150.17,275.09 151.67,275.84 153.18,276.59 154.68,277.33 156.18,278.06 157.69,278.78 159.19,279.49 160.69,280.19 162.20,280.88 163.70,281.56 165.20,282.23 166.71,282.89 168.21,283.55 169.71,284.19 171.21,284.83 172.72,285.45 174.22,286.07 175.72,286.68 177.23,287.28 178.73,287.87 180.23,288.46 181.74,289.03 183.24,289.60 184.74,290.15 186.25,290.70 187.75,291.24 189.25,291.78 190.75,292.30 192.26,292.82 193.76,293.33 195.26,293.83 196.77,294.32 198.27,294.81 199.77,295.29 201.28,295.76 202.78,296.22 204.28,296.68 205.79,297.13 207.29,297.57 208.79,298.01 210.29,298.44 211.80,298.86 213.30,299.28 214.80,299.69 216.31,300.10 217.81,300.49 219.31,300.89 220.82,301.27 222.32,301.65 223.82,302.03 225.33,302.40 226.83,302.76 228.33,303.12 229.83,303.47 231.34,303.82 232.84,304.16 234.34,304.50 235.85,304.83 237.35,305.16 238.85,305.48 240.36,305.80 241.86,306.12 243.36,306.42 244.87,306.73 246.37,307.03 247.87,307.33 249.37,307.62 250.88,307.91 252.38,308.20 253.88,308.48 255.39,308.76 256.89,309.03 258.39,309.30 259.90,309.57 261.40,309.84 262.90,310.10 264.40,310.36 265.91,310.62 267.41,310.87 268.91,311.12 270.42,311.37 271.92,311.62 273.42,311.86 274.93,312.10 276.43,312.34 277.93,312.58 279.44,312.82 280.94,313.05 282.44,313.28 283.94,313.52 285.45,313.75 286.95,313.97 288.45,314.20 289.96,314.43 291.46,314.65 292.96,314.88 294.47,315.10 295.97,315.32 297.47,315.54 298.98,315.77 300.48,315.99 301.98,316.21 303.48,316.43 304.99,316.65 306.49,316.87 307.99,317.09 309.50,317.31 311.00,317.53 316.00,368.04 225.00,328.04 223.50,327.53 222.00,327.05 220.50,326.59 219.00,326.15 217.50,325.74 216.00,325.34 214.50,324.96 213.00,324.59 211.50,324.24 210.00,323.91 208.50,323.60 207.00,323.30 205.50,323.01 204.00,322.73 202.50,322.47 201.00,322.21 199.50,321.97 198.00,321.73 196.50,321.51 195.00,321.29 193.50,321.08 192.00,320.87 190.50,320.67 189.00,320.47 187.50,320.28 186.00,320.09 184.50,319.90 183.00,319.71 181.50,319.52 180.00,319.33 178.50,319.14 177.00,318.95 175.50,318.75 174.00,318.55 172.50,318.34 171.00,318.13 169.50,317.91 168.00,317.69 166.50,317.45 165.00,317.21 163.50,316.96 162.00,316.69 160.50,316.42 159.00,316.13 157.50,315.83 156.00,315.51 154.50,315.18 153.00,314.83 151.50,314.47 150.00,314.09 148.50,313.69 147.00,313.27 145.50,312.84 144.00,312.38 142.50,311.90 141.00,311.39 139.50,310.87 138.00,310.32 136.50,309.75 135.00,309.16 133.50,308.56 132.00,307.94 130.50,307.31 129.00,306.66 127.50,306.00 126.00,305.34 124.50,304.66 123.00,303.98 121.50,303.29 120.00,302.60 118.50,301.91 117.00,301.21 115.50,300.52 114.00,299.83 112.50,299.15 111.00,298.47 109.50,297.79 108.00,297.12 106.50,296.44 105.00,295.75 103.50,295.05 102.00,294.32 100.50,293.56 99.00,292.77 97.50,291.94 96.00,291.06 94.50,290.14 93.00,289.16 91.50,288.16 90.00,287.12 88.50,286.06 87.00,284.99 85.50,283.91 84.00,282.83 82.50,281.76 81.00,280.70 79.50,279.68 78.00,278.68 76.50,277.74 75.00,276.85 73.50,276.04 72.00,275.31 70.50,274.67 69.00,274.14 67.50,273.73 66.00,273.45" fill="rgba(251.9,219.6,82.7,0.65)"/><polygon points="66.00,214.17 67.50,214.48 69.01,214.79 70.51,215.10 72.01,215.41 73.52,215.71 75.02,216.01 76.52,216.31 78.02,216.61 79.53,216.90 81.03,217.19 82.53,217.48 84.04,217.77 85.54,218.06 87.04,218.34 88.55,218.63 90.05,218.91 91.55,219.19 93.06,219.46 94.56,219.74 96.06,220.01 97.56,220.28 99.07,220.55 100.57,220.82 102.07,221.08 103.58,221.34 105.08,221.61 106.58,221.87 108.09,222.12 109.59,222.38 111.09,222.63 112.60,222.88 114.10,223.13 115.60,223.38 117.10,223.63 118.61,223.87 120.11,224.12 121.61,224.36 123.12,224.60 124.62,224.83 126.12,225.07 127.63,225.30 129.13,225.54 130.63,225.77 132.13,226.00 133.64,226.22 135.14,226.45 136.64,226.67 138.15,226.90 139.65,227.12 141.15,227.34 142.66,227.55 144.16,227.77 145.66,227.98 147.17,228.19 148.67,228.41 150.17,228.61 151.67,228.82 153.18,229.03 154.68,229.23 156.18,229.44 157.69,229.64 159.19,229.84 160.69,230.04 162.20,230.23 163.70,230.43 165.20,230.62 166.71,230.81 168.21,231.01 169.71,231.19 171.21,231.38 172.72,231.57 174.22,231.75 175.72,231.94 177.23,232.12 178.73,232.30 180.23,232.48 181.74,232.66 183.24,232.84 184.74,233.01 186.25,233.19 187.75,233.36 189.25,233.53 190.75,233.70 192.26,233.87 193.76,234.04 195.26,234.20 196.77,234.37 198.27,234.53 199.77,234.70 201.28,234.86 202.78,235.02 204.28,235.18 205.79,235.33 207.29,235.49 208.79,235.65 210.29,235.80 211.80,235.95 213.30,236.11 214.80,236.26 216.31,236.41 217.81,236.55 219.31,236.70 220.82,236.85 222.32,236.99 223.82,237.14 225.33,237.28 226.83,237.42 228.33,237.56 229.83,237.70 231.34,237.84 232.84,237.98 234.34,238.12 235.85,238.25 237.35,238.39 238.85,238.52 240.36,238.65 241.86,238.78 243.36,238.91 244.87,239.04 246.37,239.17 247.87,239.30 249.37,239.43 250.88,239.55 252.38,239.68 253.88,239.80 255.39,239.93 256.89,240.05 258.39,240.17 259.90,240.29 261.40,240.41 262.90,240.53 264.40,240.65 265.91,240.77 267.41,240.89 268.91,241.00 270.42,241.12 271.92,241.23 273.42,241.35 274.93,241.46 276.43,241.57 277.93,241.68 279.44,241.80 280.94,241.91 282.44,242.02 283.94,242.12 285.45,242.23 286.95,242.34 288.45,242.45 289.96,242.55 291.46,242.66 292.96,242.76 294.47,242.87 295.97,242.97 297.47,243.08 298.98,243.18 300.48,243.28 301.98,243.38 303.48,243.48 304.99,243.58 306.49,243.68 307.99,243.78 309.50,243.88 311.00,243.98 311.00,246.38 309.50,246.28 307.99,246.18 306.49,246.08 304.99,245.98 303.48,245.88 301.98,245.78 300.48,245.68 298.98,245.58 297.47,245.48 295.97,245.37 294.47,245.27 292.96,245.16 291.46,245.06 289.96,244.95 288.45,244.85 286.95,244.74 285.45,244.63 283.94,244.52 282.44,244.42 280.94,244.31 279.44,244.20 277.93,244.08 276.43,243.97 274.93,243.86 273.42,243.75 271.92,243.63 270.42,243.52 268.91,243.40 267.41,243.29 265.91,243.17 264.40,243.05 262.90,242.93 261.40,242.81 259.90,242.69 258.39,242.57 256.89,242.45 255.39,242.33 253.88,242.20 252.38,242.08 250.88,241.95 249.37,241.83 247.87,241.70 246.37,241.57 244.87,241.44 243.36,241.31 241.86,241.18 240.36,241.05 238.85,240.92 237.35,240.79 235.85,240.65 234.34,240.52 232.84,240.38 231.34,240.24 229.83,240.10 228.33,239.96 226.83,239.82 225.33,239.68 223.82,239.54 222.32,239.39 220.82,239.25 219.31,239.10 217.81,238.95 216.31,238.81 214.80,238.66 213.30,238.51 211.80,238.35 210.29,238.20 208.79,238.05 207.29,237.89 205.79,237.73 204.28,237.58 202.78,237.42 201.28,237.26 199.77,237.10 198.27,236.93 196.77,236.77 195.26,236.60 193.76,236.44 192.26,236.27 190.75,236.10 189.25,235.93 187.75,235.76 186.25,235.59 184.74,235.41 183.24,235.24 181.74,235.06 180.23,234.88 178.73,234.70 177.23,234.52 175.72,234.34 174.22,234.15 172.72,233.97 171.21,233.78 169.71,233.59 168.21,233.41 166.71,233.21 165.20,233.02 163.70,232.83 162.20,232.63 160.69,232.44 159.19,232.24 157.69,232.04 156.18,231.84 154.68,231.63 153.18,231.43 151.67,231.22 150.17,231.01 148.67,230.81 147.17,230.59 145.66,230.38 144.16,230.17 142.66,229.95 141.15,229.74 139.65,229.52 138.15,229.30 136.64,229.07 135.14,228.85 133.64,228.62 132.13,228.40 130.63,228.17 129.13,227.94 127.63,227.70 126.12,227.47 124.62,227.23 123.12,227.00 121.61,226.76 120.11,226.52 118.61,226.27 117.10,226.03 115.60,225.78 114.10,225.53 112.60,225.28 111.09,225.03 109.59,224.78 108.09,224.52 106.58,224.27 105.08,224.01 103.58,223.74 102.07,223.48 100.57,223.22 99.07,222.95 97.56,222.68 96.06,222.41 94.56,222.14 93.06,221.86 91.55,221.59 90.05,221.31 88.55,221.03 87.04,220.74 85.54,220.46 84.04,220.17 82.53,219.88 81.03,219.59 79.53,219.30 78.02,219.01 76.52,218.71 75.02,218.41 73.52,218.11 72.01,217.81 70.51,217.50 69.01,217.19 67.50,216.88 66.00,216.57" fill="rgba(128,128,128,0.42)"/><polygon points="66.00,276.54 67.50,277.09 69.01,277.64 70.51,278.19 72.01,278.73 73.52,279.26 75.02,279.79 76.52,280.32 78.02,280.85 79.53,281.37 81.03,281.88 82.53,282.39 84.04,282.90 85.54,283.40 87.04,283.90 88.55,284.40 90.05,284.89 91.55,285.37 93.06,285.85 94.56,286.33 96.06,286.81 97.56,287.28 99.07,287.74 100.57,288.21 102.07,288.66 103.58,289.12 105.08,289.57 106.58,290.02 108.09,290.46 109.59,290.90 111.09,291.33 112.60,291.76 114.10,292.19 115.60,292.61 117.10,293.03 118.61,293.45 120.11,293.86 121.61,294.27 123.12,294.68 124.62,295.08 126.12,295.48 127.63,295.87 129.13,296.26 130.63,296.65 132.13,297.03 133.64,297.41 135.14,297.78 136.64,298.16 138.15,298.53 139.65,298.89 141.15,299.25 142.66,299.61 144.16,299.97 145.66,300.32 147.17,300.67 148.67,301.01 150.17,301.35 151.67,301.69 153.18,302.02 154.68,302.35 156.18,302.68 157.69,303.01 159.19,303.33 160.69,303.65 162.20,303.96 163.70,304.27 165.20,304.58 166.71,304.89 168.21,305.19 169.71,305.49 171.21,305.78 172.72,306.08 174.22,306.36 175.72,306.65 177.23,306.93 178.73,307.21 180.23,307.49 181.74,307.77 183.24,308.04 184.74,308.31 186.25,308.57 187.75,308.83 189.25,309.09 190.75,309.35 192.26,309.60 193.76,309.85 195.26,310.10 196.77,310.35 198.27,310.59 199.77,310.83 201.28,311.06 202.78,311.30 204.28,311.53 205.79,311.76 207.29,311.98 208.79,312.21 210.29,312.43 211.80,312.64 213.30,312.86 214.80,313.07 216.31,313.28 217.81,313.49 219.31,313.69 220.82,313.89 222.32,314.09 223.82,314.29 225.33,314.48 226.83,314.68 228.33,314.87 229.83,315.05 231.34,315.24 232.84,315.42 234.34,315.60 235.85,315.78 237.35,315.95 238.85,316.12 240.36,316.29 241.86,316.46 243.36,316.63 244.87,316.79 246.37,316.95 247.87,317.11 249.37,317.27 250.88,317.42 252.38,317.57 253.88,317.73 255.39,317.87 256.89,318.02 258.39,318.16 259.90,318.30 261.40,318.44 262.90,318.58 264.40,318.72 265.91,318.85 267.41,318.98 268.91,319.11 270.42,319.24 271.92,319.36 273.42,319.49 274.93,319.61 276.43,319.73 277.93,319.85 279.44,319.96 280.94,320.08 282.44,320.19 283.94,320.30 285.45,320.41 286.95,320.51 288.45,320.62 289.96,320.72 291.46,320.82 292.96,320.92 294.47,321.02 295.97,321.12 297.47,321.21 298.98,321.31 300.48,321.40 301.98,321.49 303.48,321.58 304.99,321.66 306.49,321.75 307.99,321.83 309.50,321.91 311.00,322.00 316.00,367.33 225.00,327.33 223.50,327.11 222.00,326.88 220.50,326.66 219.00,326.43 217.50,326.20 216.00,325.97 214.50,325.74 213.00,325.51 211.50,325.27 210.00,325.04 208.50,324.81 207.00,324.57 205.50,324.33 204.00,324.09 202.50,323.85 201.00,323.61 199.50,323.37 198.00,323.12 196.50,322.88 195.00,322.63 193.50,322.38 192.00,322.13 190.50,321.87 189.00,321.62 187.50,321.36 186.00,321.10 184.50,320.84 183.00,320.58 181.50,320.31 180.00,320.05 178.50,319.78 177.00,319.50 175.50,319.23 174.00,318.95 172.50,318.68 171.00,318.39 169.50,318.11 168.00,317.82 166.50,317.54 165.00,317.24 163.50,316.95 162.00,316.65 160.50,316.35 159.00,316.05 157.50,315.75 156.00,315.44 154.50,315.13 153.00,314.81 151.50,314.50 150.00,314.18 148.50,313.85 147.00,313.53 145.50,313.20 144.00,312.86 142.50,312.53 141.00,312.19 139.50,311.84 138.00,311.50 136.50,311.15 135.00,310.79 133.50,310.43 132.00,310.07 130.50,309.71 129.00,309.34 127.50,308.97 126.00,308.59 124.50,308.21 123.00,307.82 121.50,307.43 120.00,307.04 118.50,306.65 117.00,306.24 115.50,305.84 114.00,305.43 112.50,305.01 111.00,304.60 109.50,304.17 108.00,303.75 106.50,303.31 105.00,302.88 103.50,302.44 102.00,301.99 100.50,301.54 99.00,301.09 97.50,300.63 96.00,300.16 94.50,299.69 93.00,299.22 91.50,298.74 90.00,298.25 88.50,297.76 87.00,297.27 85.50,296.76 84.00,296.26 82.50,295.75 81.00,295.23 79.50,294.71 78.00,294.18 76.50,293.65 75.00,293.11 73.50,292.57 72.00,292.02 70.50,291.46 69.00,290.90 67.50,290.33 66.00,289.76" fill="rgba(0,0,255,0.5)"/><polyline points="66.00,246.95 67.50,247.94 69.01,248.93 70.51,249.91 72.01,250.89 73.52,251.87 75.02,252.84 76.52,253.81 78.02,254.78 79.53,255.74 81.03,256.70 82.53,257.65 84.04,258.60 85.54,259.54 87.04,260.48 88.55,261.42 90.05,262.35 91.55,263.27 93.06,264.19 94.56,265.11 96.06,266.01 97.56,266.92 99.07,267.81 100.57,268.70 102.07,269.59 103.58,270.46 105.08,271.33 106.58,272.20 108.09,273.06 109.59,273.91 111.09,274.75 112.60,275.58 114.10,276.41 115.60,277.23 117.10,278.04 118.61,278.85 120.11,279.64 121.61,280.43 123.12,281.21 124.62,281.98 126.12,282.74 127.63,283.49 129.13,284.23 130.63,284.97 132.13,285.69 133.64,286.41 135.14,287.11 136.64,287.81 138.15,288.50 139.65,289.18 141.15,289.85 142.66,290.51 144.16,291.16 145.66,291.81 147.17,292.44 148.67,293.06 150.17,293.68 151.67,294.28 153.18,294.88 154.68,295.46 156.18,296.04 157.69,296.61 159.19,297.17 160.69,297.72 162.20,298.26 163.70,298.79 165.20,299.31 166.71,299.82 168.21,300.32 169.71,300.81 171.21,301.29 172.72,301.77 174.22,302.23 175.72,302.68 177.23,303.13 178.73,303.56 180.23,303.99 181.74,304.41 183.24,304.82 184.74,305.22 186.25,305.61 187.75,306.00 189.25,306.37 190.75,306.74 192.26,307.10 193.76,307.45 195.26,307.80 196.77,308.14 198.27,308.47 199.77,308.79 201.28,309.10 202.78,309.41 204.28,309.72 205.79,310.01 207.29,310.30 208.79,310.58 210.29,310.86 211.80,311.13 213.30,311.39 214.80,311.65 216.31,311.90 217.81,312.15 219.31,312.39 220.82,312.62 222.32,312.85 223.82,313.08 225.33,313.30 226.83,313.51 228.33,313.72 229.83,313.93 231.34,314.13 232.84,314.33 234.34,314.52 235.85,314.71 237.35,314.89 238.85,315.07 240.36,315.25 241.86,315.42 243.36,315.59 244.87,315.76 246.37,315.92 247.87,316.08 249.37,316.24 250.88,316.39 252.38,316.54 253.88,316.69 255.39,316.84 256.89,316.98 258.39,317.13 259.90,317.27 261.40,317.40 262.90,317.54 264.40,317.67 265.91,317.81 267.41,317.94 268.91,318.07 270.42,318.20 271.92,318.33 273.42,318.46 274.93,318.58 276.43,318.71 277.93,318.83 279.44,318.96 280.94,319.09 282.44,319.21 283.94,319.34 285.45,319.46 286.95,319.59 288.45,319.71 289.96,319.84 291.46,319.97 292.96,320.09 294.47,320.22 295.97,320.35 297.47,320.48 298.98,320.62 300.48,320.75 301.98,320.89 303.48,321.02 304.99,321.16 306.49,321.30 307.99,321.45 309.50,321.59 311.00,321.74" fill="none" stroke="rgb(152,137,0)" stroke-width="3" stroke-linejoin="round"/><polyline points="66.00,283.30 67.50,283.85 69.01,284.39 70.51,284.93 72.01,285.47 73.52,286.00 75.02,286.53 76.52,287.05 78.02,287.56 79.53,288.08 81.03,288.58 82.53,289.09 84.04,289.59 85.54,290.08 87.04,290.57 88.55,291.06 90.05,291.54 91.55,292.01 93.06,292.48 94.56,292.95 96.06,293.42 97.56,293.87 99.07,294.33 100.57,294.78 102.07,295.23 103.58,295.67 105.08,296.10 106.58,296.54 108.09,296.97 109.59,297.39 111.09,297.81 112.60,298.23 114.10,298.64 115.60,299.05 117.10,299.45 118.61,299.85 120.11,300.25 121.61,300.64 123.12,301.03 124.62,301.41 126.12,301.79 127.63,302.17 129.13,302.54 130.63,302.91 132.13,303.27 133.64,303.63 135.14,303.99 136.64,304.34 138.15,304.69 139.65,305.03 141.15,305.37 142.66,305.71 144.16,306.04 145.66,306.37 147.17,306.70 148.67,307.02 150.17,307.33 151.67,307.65 153.18,307.96 154.68,308.27 156.18,308.57 157.69,308.87 159.19,309.16 160.69,309.46 162.20,309.74 163.70,310.03 165.20,310.31 166.71,310.59 168.21,310.86 169.71,311.13 171.21,311.40 172.72,311.66 174.22,311.92 175.72,312.18 177.23,312.43 178.73,312.68 180.23,312.93 181.74,313.17 183.24,313.41 184.74,313.65 186.25,313.88 187.75,314.11 189.25,314.34 190.75,314.56 192.26,314.78 193.76,315.00 195.26,315.21 196.77,315.43 198.27,315.63 199.77,315.84 201.28,316.04 202.78,316.24 204.28,316.43 205.79,316.62 207.29,316.81 208.79,317.00 210.29,317.18 211.80,317.36 213.30,317.53 214.80,317.71 216.31,317.88 217.81,318.05 219.31,318.21 220.82,318.37 222.32,318.53 223.82,318.69 225.33,318.84 226.83,318.99 228.33,319.14 229.83,319.28 231.34,319.42 232.84,319.56 234.34,319.70 235.85,319.83 237.35,319.96 238.85,320.09 240.36,320.21 241.86,320.34 243.36,320.46 244.87,320.57 246.37,320.69 247.87,320.80 249.37,320.91 250.88,321.02 252.38,321.12 253.88,321.22 255.39,321.32 256.89,321.42 258.39,321.51 259.90,321.60 261.40,321.69 262.90,321.78 264.40,321.86 265.91,321.94 267.41,322.02 268.91,322.10 270.42,322.18 271.92,322.25 273.42,322.32 274.93,322.39 276.43,322.45 277.93,322.52 279.44,322.58 280.94,322.64 282.44,322.69 283.94,322.75 285.45,322.80 286.95,322.85 288.45,322.90 289.96,322.94 291.46,322.99 292.96,323.03 294.47,323.07 295.97,323.11 297.47,323.14 298.98,323.17 300.48,323.21 301.98,323.23 303.48,323.26 304.99,323.29 306.49,323.31 307.99,323.33 309.50,323.35 311.00,323.37" fill="none" stroke="rgb(0,0,255)" stroke-width="3.3" stroke-linejoin="round"/></g><g clip-path="url(#cR2R)"><line x1="366.5" y1="203.5" x2="366.5" y2="326.0" stroke="rgba(0,0,0,0.7)" stroke-width="1.2" stroke-dasharray="4.6 2.8"/><polygon points="344.60,215.36 346.11,216.14 347.62,216.96 349.13,217.83 350.63,218.74 352.14,219.70 353.65,220.69 355.16,221.72 356.67,222.77 358.18,223.87 359.69,224.98 361.20,226.13 362.70,227.29 364.21,228.48 365.72,229.69 367.23,230.91 368.74,232.15 370.25,233.39 371.76,234.65 373.26,235.91 374.77,237.17 376.28,238.44 377.79,239.70 379.30,240.97 380.81,242.23 382.32,243.49 383.82,244.74 385.33,245.99 386.84,247.23 388.35,248.47 389.86,249.70 391.37,250.91 392.88,252.12 394.39,253.31 395.89,254.50 397.40,255.67 398.91,256.82 400.42,257.96 401.93,259.08 403.44,260.18 404.95,261.27 406.45,262.33 407.96,263.37 409.47,264.40 410.98,265.41 412.49,266.39 414.00,267.36 415.51,268.31 417.01,269.25 418.52,270.16 420.03,271.06 421.54,271.94 423.05,272.81 424.56,273.66 426.07,274.49 427.58,275.31 429.08,276.11 430.59,276.90 432.10,277.67 433.61,278.43 435.12,279.17 436.63,279.90 438.14,280.62 439.64,281.33 441.15,282.02 442.66,282.70 444.17,283.37 445.68,284.02 447.19,284.67 448.70,285.30 450.20,285.93 451.71,286.54 453.22,287.14 454.73,287.74 456.24,288.32 457.75,288.89 459.26,289.46 460.77,290.02 462.27,290.57 463.78,291.11 465.29,291.64 466.80,292.17 468.31,292.69 469.82,293.21 471.33,293.71 472.83,294.21 474.34,294.70 475.85,295.19 477.36,295.67 478.87,296.14 480.38,296.61 481.89,297.06 483.40,297.52 484.90,297.96 486.41,298.40 487.92,298.84 489.43,299.27 490.94,299.69 492.45,300.10 493.96,300.51 495.46,300.92 496.97,301.32 498.48,301.71 499.99,302.10 501.50,302.48 503.01,302.85 504.52,303.22 506.02,303.59 507.53,303.95 509.04,304.30 510.55,304.65 512.06,305.00 513.57,305.33 515.08,305.67 516.59,306.00 518.09,306.32 519.60,306.64 521.11,306.96 522.62,307.27 524.13,307.57 525.64,307.87 527.15,308.17 528.65,308.46 530.16,308.75 531.67,309.04 533.18,309.32 534.69,309.59 536.20,309.86 537.71,310.13 539.21,310.40 540.72,310.66 542.23,310.91 543.74,311.17 545.25,311.41 546.76,311.66 548.27,311.90 549.78,312.14 551.28,312.38 552.79,312.61 554.30,312.84 555.81,313.07 557.32,313.29 558.83,313.51 560.34,313.73 561.84,313.94 563.35,314.15 564.86,314.36 566.37,314.57 567.88,314.77 569.39,314.97 570.90,315.17 572.40,315.37 573.91,315.56 575.42,315.75 576.93,315.94 578.44,316.13 579.95,316.32 581.46,316.50 582.97,316.69 584.47,316.87 585.98,317.04 587.49,317.22 589.00,317.40 594.00,368.02 505.00,328.02 503.49,327.52 501.97,327.05 500.46,326.61 498.95,326.18 497.43,325.78 495.92,325.40 494.41,325.04 492.89,324.70 491.38,324.37 489.87,324.06 488.35,323.77 486.84,323.50 485.33,323.23 483.82,322.98 482.30,322.75 480.79,322.52 479.28,322.31 477.76,322.10 476.25,321.91 474.74,321.72 473.22,321.53 471.71,321.36 470.20,321.19 468.68,321.02 467.17,320.85 465.66,320.69 464.14,320.53 462.63,320.37 461.12,320.21 459.60,320.05 458.09,319.88 456.58,319.71 455.06,319.54 453.55,319.36 452.04,319.18 450.52,318.99 449.01,318.79 447.50,318.58 445.98,318.36 444.47,318.13 442.96,317.89 441.45,317.64 439.93,317.37 438.42,317.09 436.91,316.79 435.39,316.48 433.88,316.15 432.37,315.80 430.85,315.43 429.34,315.04 427.83,314.64 426.31,314.21 424.80,313.75 423.29,313.27 421.77,312.77 420.26,312.25 418.75,311.69 417.23,311.10 415.72,310.45 414.21,309.73 412.69,308.93 411.18,308.03 409.67,307.06 408.15,306.05 406.64,305.02 405.13,304.02 403.62,303.06 402.10,302.17 400.59,301.36 399.08,300.60 397.56,299.89 396.05,299.23 394.54,298.60 393.02,298.00 391.51,297.43 390.00,296.86 388.48,296.30 386.97,295.73 385.46,295.14 383.94,294.51 382.43,293.83 380.92,293.08 379.40,292.25 377.89,291.32 376.38,290.29 374.86,289.13 373.35,287.85 371.84,286.48 370.32,285.08 368.81,283.68 367.30,282.33 365.78,281.07 364.27,279.89 362.76,278.80 361.25,277.80 359.73,276.90 358.22,276.10 356.71,275.40 355.19,274.79 353.68,274.24 352.17,273.74 350.65,273.26 349.14,272.78 347.63,272.29 346.11,271.75 344.60,271.16" fill="rgba(251.9,219.6,82.7,0.65)"/><polygon points="345.00,213.95 346.51,214.30 348.01,214.64 349.52,214.97 351.02,215.31 352.53,215.64 354.04,215.97 355.54,216.30 357.05,216.62 358.56,216.94 360.06,217.26 361.57,217.58 363.07,217.90 364.58,218.21 366.09,218.52 367.59,218.83 369.10,219.13 370.60,219.44 372.11,219.74 373.62,220.03 375.12,220.33 376.63,220.62 378.14,220.92 379.64,221.21 381.15,221.49 382.65,221.78 384.16,222.06 385.67,222.34 387.17,222.62 388.68,222.89 390.19,223.17 391.69,223.44 393.20,223.70 394.70,223.97 396.21,224.24 397.72,224.50 399.22,224.76 400.73,225.02 402.23,225.27 403.74,225.53 405.25,225.78 406.75,226.03 408.26,226.27 409.77,226.52 411.27,226.76 412.78,227.00 414.28,227.24 415.79,227.48 417.30,227.71 418.80,227.95 420.31,228.18 421.81,228.41 423.32,228.63 424.83,228.86 426.33,229.08 427.84,229.30 429.35,229.52 430.85,229.74 432.36,229.95 433.86,230.17 435.37,230.38 436.88,230.59 438.38,230.79 439.89,231.00 441.40,231.20 442.90,231.40 444.41,231.60 445.91,231.80 447.42,232.00 448.93,232.19 450.43,232.39 451.94,232.58 453.44,232.76 454.95,232.95 456.46,233.14 457.96,233.32 459.47,233.50 460.98,233.68 462.48,233.86 463.99,234.04 465.49,234.21 467.00,234.39 468.51,234.56 470.01,234.73 471.52,234.90 473.02,235.06 474.53,235.23 476.04,235.39 477.54,235.55 479.05,235.71 480.56,235.87 482.06,236.03 483.57,236.19 485.07,236.34 486.58,236.49 488.09,236.64 489.59,236.79 491.10,236.94 492.60,237.09 494.11,237.23 495.62,237.37 497.12,237.52 498.63,237.66 500.14,237.79 501.64,237.93 503.15,238.07 504.65,238.20 506.16,238.34 507.67,238.47 509.17,238.60 510.68,238.73 512.19,238.85 513.69,238.98 515.20,239.10 516.70,239.23 518.21,239.35 519.72,239.47 521.22,239.59 522.73,239.71 524.23,239.83 525.74,239.94 527.25,240.05 528.75,240.17 530.26,240.28 531.77,240.39 533.27,240.50 534.78,240.61 536.28,240.71 537.79,240.82 539.30,240.92 540.80,241.03 542.31,241.13 543.81,241.23 545.32,241.33 546.83,241.43 548.33,241.53 549.84,241.62 551.35,241.72 552.85,241.81 554.36,241.91 555.86,242.00 557.37,242.09 558.88,242.18 560.38,242.27 561.89,242.36 563.40,242.44 564.90,242.53 566.41,242.61 567.91,242.70 569.42,242.78 570.93,242.86 572.43,242.94 573.94,243.02 575.44,243.10 576.95,243.18 578.46,243.26 579.96,243.34 581.47,243.41 582.98,243.49 584.48,243.56 585.99,243.63 587.49,243.70 589.00,243.78 589.00,246.18 587.49,246.10 585.99,246.03 584.48,245.96 582.98,245.89 581.47,245.81 579.96,245.74 578.46,245.66 576.95,245.58 575.44,245.50 573.94,245.42 572.43,245.34 570.93,245.26 569.42,245.18 567.91,245.10 566.41,245.01 564.90,244.93 563.40,244.84 561.89,244.76 560.38,244.67 558.88,244.58 557.37,244.49 555.86,244.40 554.36,244.31 552.85,244.21 551.35,244.12 549.84,244.02 548.33,243.93 546.83,243.83 545.32,243.73 543.81,243.63 542.31,243.53 540.80,243.43 539.30,243.32 537.79,243.22 536.28,243.11 534.78,243.01 533.27,242.90 531.77,242.79 530.26,242.68 528.75,242.57 527.25,242.45 525.74,242.34 524.23,242.23 522.73,242.11 521.22,241.99 519.72,241.87 518.21,241.75 516.70,241.63 515.20,241.50 513.69,241.38 512.19,241.25 510.68,241.13 509.17,241.00 507.67,240.87 506.16,240.74 504.65,240.60 503.15,240.47 501.64,240.33 500.14,240.19 498.63,240.06 497.12,239.92 495.62,239.77 494.11,239.63 492.60,239.49 491.10,239.34 489.59,239.19 488.09,239.04 486.58,238.89 485.07,238.74 483.57,238.59 482.06,238.43 480.56,238.27 479.05,238.11 477.54,237.95 476.04,237.79 474.53,237.63 473.02,237.46 471.52,237.30 470.01,237.13 468.51,236.96 467.00,236.79 465.49,236.61 463.99,236.44 462.48,236.26 460.98,236.08 459.47,235.90 457.96,235.72 456.46,235.54 454.95,235.35 453.44,235.16 451.94,234.98 450.43,234.79 448.93,234.59 447.42,234.40 445.91,234.20 444.41,234.00 442.90,233.80 441.40,233.60 439.89,233.40 438.38,233.19 436.88,232.99 435.37,232.78 433.86,232.57 432.36,232.35 430.85,232.14 429.35,231.92 427.84,231.70 426.33,231.48 424.83,231.26 423.32,231.03 421.81,230.81 420.31,230.58 418.80,230.35 417.30,230.11 415.79,229.88 414.28,229.64 412.78,229.40 411.27,229.16 409.77,228.92 408.26,228.67 406.75,228.43 405.25,228.18 403.74,227.93 402.23,227.67 400.73,227.42 399.22,227.16 397.72,226.90 396.21,226.64 394.70,226.37 393.20,226.10 391.69,225.84 390.19,225.57 388.68,225.29 387.17,225.02 385.67,224.74 384.16,224.46 382.65,224.18 381.15,223.89 379.64,223.61 378.14,223.32 376.63,223.02 375.12,222.73 373.62,222.43 372.11,222.14 370.60,221.84 369.10,221.53 367.59,221.23 366.09,220.92 364.58,220.61 363.07,220.30 361.57,219.98 360.06,219.66 358.56,219.34 357.05,219.02 355.54,218.70 354.04,218.37 352.53,218.04 351.02,217.71 349.52,217.37 348.01,217.04 346.51,216.70 345.00,216.35" fill="rgba(128,128,128,0.42)"/><polygon points="344.60,273.65 346.11,274.30 347.62,274.95 349.13,275.59 350.63,276.23 352.14,276.86 353.65,277.48 355.16,278.10 356.67,278.71 358.18,279.32 359.69,279.92 361.20,280.52 362.70,281.11 364.21,281.69 365.72,282.27 367.23,282.84 368.74,283.41 370.25,283.97 371.76,284.53 373.26,285.08 374.77,285.63 376.28,286.17 377.79,286.70 379.30,287.23 380.81,287.75 382.32,288.27 383.82,288.79 385.33,289.29 386.84,289.80 388.35,290.29 389.86,290.79 391.37,291.27 392.88,291.76 394.39,292.23 395.89,292.70 397.40,293.17 398.91,293.63 400.42,294.09 401.93,294.54 403.44,294.98 404.95,295.42 406.45,295.86 407.96,296.29 409.47,296.72 410.98,297.14 412.49,297.55 414.00,297.97 415.51,298.37 417.01,298.77 418.52,299.17 420.03,299.56 421.54,299.95 423.05,300.33 424.56,300.71 426.07,301.08 427.58,301.45 429.08,301.81 430.59,302.17 432.10,302.52 433.61,302.87 435.12,303.22 436.63,303.56 438.14,303.89 439.64,304.22 441.15,304.55 442.66,304.87 444.17,305.19 445.68,305.50 447.19,305.81 448.70,306.12 450.20,306.42 451.71,306.72 453.22,307.01 454.73,307.30 456.24,307.58 457.75,307.86 459.26,308.14 460.77,308.41 462.27,308.68 463.78,308.94 465.29,309.20 466.80,309.46 468.31,309.71 469.82,309.96 471.33,310.21 472.83,310.45 474.34,310.69 475.85,310.93 477.36,311.16 478.87,311.39 480.38,311.61 481.89,311.84 483.40,312.05 484.90,312.27 486.41,312.48 487.92,312.69 489.43,312.90 490.94,313.10 492.45,313.30 493.96,313.50 495.46,313.69 496.97,313.88 498.48,314.07 499.99,314.25 501.50,314.44 503.01,314.62 504.52,314.79 506.02,314.97 507.53,315.14 509.04,315.31 510.55,315.47 512.06,315.64 513.57,315.80 515.08,315.96 516.59,316.12 518.09,316.27 519.60,316.42 521.11,316.57 522.62,316.72 524.13,316.87 525.64,317.01 527.15,317.15 528.65,317.29 530.16,317.43 531.67,317.56 533.18,317.70 534.69,317.83 536.20,317.96 537.71,318.09 539.21,318.21 540.72,318.34 542.23,318.46 543.74,318.58 545.25,318.70 546.76,318.82 548.27,318.93 549.78,319.05 551.28,319.16 552.79,319.28 554.30,319.39 555.81,319.50 557.32,319.61 558.83,319.71 560.34,319.82 561.84,319.92 563.35,320.03 564.86,320.13 566.37,320.23 567.88,320.33 569.39,320.43 570.90,320.53 572.40,320.63 573.91,320.73 575.42,320.83 576.93,320.92 578.44,321.02 579.95,321.11 581.46,321.21 582.97,321.30 584.47,321.39 585.98,321.49 587.49,321.58 589.00,321.67 594.00,367.20 505.00,327.20 503.49,327.04 501.97,326.88 500.46,326.71 498.95,326.54 497.43,326.37 495.92,326.20 494.41,326.03 492.89,325.85 491.38,325.67 489.87,325.50 488.35,325.31 486.84,325.13 485.33,324.94 483.82,324.75 482.30,324.56 480.79,324.37 479.28,324.17 477.76,323.97 476.25,323.76 474.74,323.56 473.22,323.34 471.71,323.13 470.20,322.91 468.68,322.69 467.17,322.46 465.66,322.23 464.14,322.00 462.63,321.76 461.12,321.51 459.60,321.26 458.09,321.01 456.58,320.75 455.06,320.49 453.55,320.22 452.04,319.95 450.52,319.67 449.01,319.38 447.50,319.09 445.98,318.80 444.47,318.49 442.96,318.19 441.45,317.87 439.93,317.55 438.42,317.22 436.91,316.89 435.39,316.55 433.88,316.20 432.37,315.85 430.85,315.49 429.34,315.12 427.83,314.75 426.31,314.37 424.80,313.99 423.29,313.59 421.77,313.20 420.26,312.79 418.75,312.38 417.23,311.96 415.72,311.54 414.21,311.11 412.69,310.68 411.18,310.24 409.67,309.79 408.15,309.34 406.64,308.89 405.13,308.42 403.62,307.96 402.10,307.49 400.59,307.01 399.08,306.53 397.56,306.04 396.05,305.54 394.54,305.05 393.02,304.54 391.51,304.04 390.00,303.53 388.48,303.01 386.97,302.49 385.46,301.96 383.94,301.43 382.43,300.90 380.92,300.36 379.40,299.82 377.89,299.27 376.38,298.72 374.86,298.17 373.35,297.61 371.84,297.05 370.32,296.48 368.81,295.91 367.30,295.34 365.78,294.77 364.27,294.19 362.76,293.60 361.25,293.02 359.73,292.43 358.22,291.84 356.71,291.24 355.19,290.64 353.68,290.04 352.17,289.44 350.65,288.83 349.14,288.22 347.63,287.61 346.11,286.99 344.60,286.38" fill="rgba(0,0,255,0.5)"/><polyline points="344.60,242.79 346.11,243.46 347.62,244.17 349.13,244.91 350.63,245.67 352.14,246.47 353.65,247.30 355.16,248.15 356.67,249.04 358.18,249.94 359.69,250.87 361.20,251.82 362.70,252.78 364.21,253.77 365.72,254.78 367.23,255.80 368.74,256.83 370.25,257.88 371.76,258.94 373.26,260.01 374.77,261.09 376.28,262.17 377.79,263.26 379.30,264.36 380.81,265.46 382.32,266.55 383.82,267.65 385.33,268.75 386.84,269.85 388.35,270.94 389.86,272.02 391.37,273.10 392.88,274.17 394.39,275.23 395.89,276.28 397.40,277.32 398.91,278.34 400.42,279.34 401.93,280.33 403.44,281.30 404.95,282.25 406.45,283.18 407.96,284.09 409.47,284.98 410.98,285.85 412.49,286.69 414.00,287.52 415.51,288.33 417.01,289.12 418.52,289.89 420.03,290.64 421.54,291.38 423.05,292.10 424.56,292.80 426.07,293.49 427.58,294.15 429.08,294.81 430.59,295.45 432.10,296.07 433.61,296.68 435.12,297.27 436.63,297.85 438.14,298.42 439.64,298.97 441.15,299.51 442.66,300.04 444.17,300.55 445.68,301.06 447.19,301.55 448.70,302.03 450.20,302.51 451.71,302.97 453.22,303.42 454.73,303.86 456.24,304.29 457.75,304.71 459.26,305.13 460.77,305.53 462.27,305.93 463.78,306.31 465.29,306.69 466.80,307.06 468.31,307.42 469.82,307.77 471.33,308.11 472.83,308.45 474.34,308.78 475.85,309.09 477.36,309.41 478.87,309.71 480.38,310.01 481.89,310.30 483.40,310.58 484.90,310.86 486.41,311.13 487.92,311.39 489.43,311.65 490.94,311.90 492.45,312.14 493.96,312.38 495.46,312.61 496.97,312.84 498.48,313.06 499.99,313.28 501.50,313.49 503.01,313.69 504.52,313.89 506.02,314.09 507.53,314.28 509.04,314.47 510.55,314.65 512.06,314.83 513.57,315.01 515.08,315.18 516.59,315.34 518.09,315.51 519.60,315.67 521.11,315.82 522.62,315.98 524.13,316.13 525.64,316.28 527.15,316.42 528.65,316.57 530.16,316.71 531.67,316.84 533.18,316.98 534.69,317.12 536.20,317.25 537.71,317.38 539.21,317.51 540.72,317.64 542.23,317.76 543.74,317.89 545.25,318.02 546.76,318.14 548.27,318.27 549.78,318.39 551.28,318.51 552.79,318.64 554.30,318.76 555.81,318.88 557.32,319.01 558.83,319.13 560.34,319.26 561.84,319.38 563.35,319.51 564.86,319.64 566.37,319.77 567.88,319.90 569.39,320.03 570.90,320.17 572.40,320.30 573.91,320.44 575.42,320.58 576.93,320.72 578.44,320.87 579.95,321.01 581.46,321.16 582.97,321.32 584.47,321.47 585.98,321.63 587.49,321.80 589.00,321.96" fill="none" stroke="rgb(152,137,0)" stroke-width="3" stroke-linejoin="round"/><polyline points="344.60,280.27 346.11,280.92 347.62,281.56 349.13,282.19 350.63,282.82 352.14,283.44 353.65,284.05 355.16,284.66 356.67,285.27 358.18,285.86 359.69,286.45 361.20,287.04 362.70,287.61 364.21,288.19 365.72,288.75 367.23,289.31 368.74,289.87 370.25,290.42 371.76,290.96 373.26,291.50 374.77,292.03 376.28,292.56 377.79,293.08 379.30,293.59 380.81,294.10 382.32,294.61 383.82,295.10 385.33,295.60 386.84,296.08 388.35,296.57 389.86,297.04 391.37,297.51 392.88,297.98 394.39,298.44 395.89,298.89 397.40,299.34 398.91,299.79 400.42,300.22 401.93,300.66 403.44,301.09 404.95,301.51 406.45,301.93 407.96,302.34 409.47,302.75 410.98,303.15 412.49,303.55 414.00,303.94 415.51,304.33 417.01,304.71 418.52,305.09 420.03,305.47 421.54,305.83 423.05,306.20 424.56,306.56 426.07,306.91 427.58,307.26 429.08,307.61 430.59,307.95 432.10,308.28 433.61,308.61 435.12,308.94 436.63,309.26 438.14,309.58 439.64,309.89 441.15,310.20 442.66,310.50 444.17,310.80 445.68,311.09 447.19,311.39 448.70,311.67 450.20,311.95 451.71,312.23 453.22,312.50 454.73,312.77 456.24,313.04 457.75,313.30 459.26,313.56 460.77,313.81 462.27,314.06 463.78,314.30 465.29,314.54 466.80,314.78 468.31,315.01 469.82,315.24 471.33,315.46 472.83,315.68 474.34,315.90 475.85,316.11 477.36,316.32 478.87,316.53 480.38,316.73 481.89,316.93 483.40,317.12 484.90,317.32 486.41,317.50 487.92,317.69 489.43,317.87 490.94,318.04 492.45,318.22 493.96,318.39 495.46,318.55 496.97,318.71 498.48,318.87 499.99,319.03 501.50,319.18 503.01,319.33 504.52,319.48 506.02,319.62 507.53,319.76 509.04,319.90 510.55,320.03 512.06,320.16 513.57,320.29 515.08,320.41 516.59,320.53 518.09,320.65 519.60,320.76 521.11,320.88 522.62,320.98 524.13,321.09 525.64,321.19 527.15,321.29 528.65,321.39 530.16,321.49 531.67,321.58 533.18,321.67 534.69,321.75 536.20,321.84 537.71,321.92 539.21,322.00 540.72,322.07 542.23,322.15 543.74,322.22 545.25,322.29 546.76,322.35 548.27,322.42 549.78,322.48 551.28,322.54 552.79,322.59 554.30,322.65 555.81,322.70 557.32,322.75 558.83,322.79 560.34,322.84 561.84,322.88 563.35,322.92 564.86,322.96 566.37,323.00 567.88,323.03 569.39,323.06 570.90,323.09 572.40,323.12 573.91,323.15 575.42,323.17 576.93,323.19 578.44,323.21 579.95,323.23 581.46,323.25 582.97,323.26 584.47,323.28 585.98,323.29 587.49,323.30 589.00,323.31" fill="none" stroke="rgb(0,0,255)" stroke-width="3.3" stroke-linejoin="round"/></g><g clip-path="url(#cR3L)"><line x1="98.2" y1="368.0" x2="98.2" y2="490.7" stroke="rgba(0,0,0,0.45)" stroke-width="1.7" stroke-dasharray="4.6 2.6"/><polygon points="66.00,376.50 67.50,377.62 69.01,378.82 70.51,380.07 72.01,381.39 73.52,382.75 75.02,384.19 76.52,385.72 78.02,387.37 79.53,389.18 81.03,391.14 82.53,393.21 84.04,395.39 85.54,397.71 87.04,400.16 88.55,402.71 90.05,405.35 91.55,408.13 93.06,411.02 94.56,413.95 96.06,416.90 97.56,419.93 99.07,422.99 100.57,425.97 102.07,428.88 103.58,431.78 105.08,434.50 106.58,436.89 108.09,439.05 109.59,441.05 111.09,442.90 112.60,444.63 114.10,446.28 115.60,447.82 117.10,449.20 118.61,450.37 120.11,451.39 121.61,452.31 123.12,453.15 124.62,453.96 126.12,454.77 127.63,455.59 129.13,456.43 130.63,457.26 132.13,458.08 133.64,458.88 135.14,459.64 136.64,460.35 138.15,460.99 139.65,461.56 141.15,462.05 142.66,462.47 144.16,462.85 145.66,463.21 147.17,463.53 148.67,463.84 150.17,464.13 151.67,464.41 153.18,464.68 154.68,464.96 156.18,465.23 157.69,465.51 159.19,465.77 160.69,466.02 162.20,466.26 163.70,466.50 165.20,466.74 166.71,466.98 168.21,467.23 169.71,467.48 171.21,467.74 172.72,468.01 174.22,468.28 175.72,468.56 177.23,468.84 178.73,469.12 180.23,469.41 181.74,469.69 183.24,469.98 184.74,470.26 186.25,470.55 187.75,470.83 189.25,471.12 190.75,471.42 192.26,471.72 193.76,472.02 195.26,472.33 196.77,472.64 198.27,472.94 199.77,473.25 201.28,473.55 202.78,473.84 204.28,474.13 205.79,474.42 207.29,474.70 208.79,474.97 210.29,475.23 211.80,475.47 213.30,475.71 214.80,475.93 216.31,476.14 217.81,476.34 219.31,476.53 220.82,476.72 222.32,476.90 223.82,477.07 225.33,477.24 226.83,477.40 228.33,477.56 229.83,477.72 231.34,477.87 232.84,478.02 234.34,478.17 235.85,478.32 237.35,478.46 238.85,478.61 240.36,478.75 241.86,478.90 243.36,479.04 244.87,479.19 246.37,479.34 247.87,479.48 249.37,479.63 250.88,479.78 252.38,479.93 253.88,480.08 255.39,480.23 256.89,480.37 258.39,480.52 259.90,480.66 261.40,480.81 262.90,480.95 264.40,481.09 265.91,481.23 267.41,481.37 268.91,481.50 270.42,481.64 271.92,481.77 273.42,481.90 274.93,482.02 276.43,482.14 277.93,482.26 279.44,482.38 280.94,482.50 282.44,482.61 283.94,482.72 285.45,482.82 286.95,482.93 288.45,483.04 289.96,483.14 291.46,483.24 292.96,483.34 294.47,483.44 295.97,483.54 297.47,483.63 298.98,483.73 300.48,483.82 301.98,483.91 303.48,483.99 304.99,484.08 306.49,484.16 307.99,484.24 309.50,484.32 311.00,484.40 311.00,488.00 309.50,487.99 307.99,487.97 306.49,487.95 304.99,487.93 303.48,487.92 301.98,487.89 300.48,487.87 298.98,487.85 297.47,487.83 295.97,487.80 294.47,487.77 292.96,487.75 291.46,487.72 289.96,487.69 288.45,487.66 286.95,487.63 285.45,487.59 283.94,487.56 282.44,487.53 280.94,487.49 279.44,487.46 277.93,487.42 276.43,487.38 274.93,487.34 273.42,487.31 271.92,487.27 270.42,487.23 268.91,487.19 267.41,487.14 265.91,487.10 264.40,487.06 262.90,487.02 261.40,486.97 259.90,486.93 258.39,486.88 256.89,486.84 255.39,486.79 253.88,486.75 252.38,486.70 250.88,486.65 249.37,486.61 247.87,486.56 246.37,486.51 244.87,486.46 243.36,486.41 241.86,486.36 240.36,486.31 238.85,486.25 237.35,486.20 235.85,486.14 234.34,486.08 232.84,486.02 231.34,485.96 229.83,485.89 228.33,485.83 226.83,485.76 225.33,485.70 223.82,485.63 222.32,485.56 220.82,485.48 219.31,485.41 217.81,485.34 216.31,485.26 214.80,485.18 213.30,485.10 211.80,485.03 210.29,484.94 208.79,484.86 207.29,484.78 205.79,484.70 204.28,484.61 202.78,484.53 201.28,484.44 199.77,484.35 198.27,484.26 196.77,484.17 195.26,484.08 193.76,483.99 192.26,483.90 190.75,483.80 189.25,483.71 187.75,483.61 186.25,483.52 184.74,483.42 183.24,483.32 181.74,483.22 180.23,483.11 178.73,483.01 177.23,482.90 175.72,482.78 174.22,482.67 172.72,482.55 171.21,482.43 169.71,482.30 168.21,482.18 166.71,482.04 165.20,481.91 163.70,481.77 162.20,481.63 160.69,481.48 159.19,481.33 157.69,481.18 156.18,481.02 154.68,480.86 153.18,480.70 151.67,480.53 150.17,480.36 148.67,480.19 147.17,480.01 145.66,479.83 144.16,479.64 142.66,479.44 141.15,479.23 139.65,479.02 138.15,478.79 136.64,478.55 135.14,478.31 133.64,478.05 132.13,477.77 130.63,477.48 129.13,477.18 127.63,476.86 126.12,476.53 124.62,476.16 123.12,475.73 121.61,475.24 120.11,474.70 118.61,474.11 117.10,473.48 115.60,472.80 114.10,472.08 112.60,471.33 111.09,470.55 109.59,469.68 108.09,468.67 106.58,467.56 105.08,466.37 103.58,465.14 102.07,463.89 100.57,462.65 99.07,461.35 97.56,460.00 96.06,458.61 94.56,457.20 93.06,455.79 91.55,454.41 90.05,453.06 88.55,451.76 87.04,450.44 85.54,449.10 84.04,447.78 82.53,446.50 81.03,445.29 79.53,444.18 78.02,443.19 76.52,442.32 75.02,441.48 73.52,440.68 72.01,439.94 70.51,439.25 69.01,438.62 67.50,438.07 66.00,437.60" fill="rgba(251.9,219.6,82.7,0.65)"/><polygon points="66.00,378.90 67.50,379.22 69.01,379.59 70.51,380.01 72.01,380.47 73.52,380.98 75.02,381.56 76.52,382.19 78.02,382.84 79.53,383.54 81.03,384.29 82.53,385.08 84.04,385.90 85.54,386.80 87.04,387.74 88.55,388.68 90.05,389.58 91.55,390.45 93.06,391.31 94.56,392.20 96.06,393.16 97.56,394.21 99.07,395.29 100.57,396.32 102.07,397.28 103.58,398.19 105.08,399.07 106.58,399.93 108.09,400.77 109.59,401.58 111.09,402.34 112.60,403.06 114.10,403.75 115.60,404.41 117.10,405.04 118.61,405.64 120.11,406.23 121.61,406.81 123.12,407.36 124.62,407.87 126.12,408.34 127.63,408.77 129.13,409.18 130.63,409.58 132.13,409.95 133.64,410.32 135.14,410.66 136.64,411.00 138.15,411.32 139.65,411.63 141.15,411.93 142.66,412.22 144.16,412.50 145.66,412.77 147.17,413.03 148.67,413.28 150.17,413.52 151.67,413.76 153.18,413.98 154.68,414.21 156.18,414.43 157.69,414.64 159.19,414.85 160.69,415.05 162.20,415.24 163.70,415.44 165.20,415.62 166.71,415.80 168.21,415.98 169.71,416.15 171.21,416.32 172.72,416.49 174.22,416.65 175.72,416.80 177.23,416.96 178.73,417.11 180.23,417.25 181.74,417.40 183.24,417.54 184.74,417.68 186.25,417.82 187.75,417.96 189.25,418.10 190.75,418.24 192.26,418.37 193.76,418.50 195.26,418.64 196.77,418.77 198.27,418.90 199.77,419.03 201.28,419.16 202.78,419.28 204.28,419.41 205.79,419.54 207.29,419.66 208.79,419.79 210.29,419.92 211.80,420.04 213.30,420.17 214.80,420.30 216.31,420.43 217.81,420.56 219.31,420.69 220.82,420.82 222.32,420.95 223.82,421.08 225.33,421.22 226.83,421.35 228.33,421.49 229.83,421.62 231.34,421.75 232.84,421.88 234.34,422.01 235.85,422.13 237.35,422.26 238.85,422.38 240.36,422.50 241.86,422.61 243.36,422.72 244.87,422.82 246.37,422.92 247.87,423.02 249.37,423.11 250.88,423.20 252.38,423.28 253.88,423.37 255.39,423.45 256.89,423.52 258.39,423.60 259.90,423.67 261.40,423.74 262.90,423.82 264.40,423.89 265.91,423.96 267.41,424.04 268.91,424.11 270.42,424.19 271.92,424.26 273.42,424.34 274.93,424.43 276.43,424.51 277.93,424.60 279.44,424.70 280.94,424.80 282.44,424.90 283.94,425.00 285.45,425.11 286.95,425.23 288.45,425.34 289.96,425.46 291.46,425.58 292.96,425.71 294.47,425.84 295.97,425.97 297.47,426.10 298.98,426.24 300.48,426.38 301.98,426.52 303.48,426.66 304.99,426.80 306.49,426.95 307.99,427.10 309.50,427.25 311.00,427.40 311.00,430.90 309.50,430.78 307.99,430.66 306.49,430.53 304.99,430.41 303.48,430.30 301.98,430.18 300.48,430.06 298.98,429.95 297.47,429.84 295.97,429.72 294.47,429.61 292.96,429.51 291.46,429.40 289.96,429.29 288.45,429.19 286.95,429.09 285.45,428.99 283.94,428.89 282.44,428.79 280.94,428.70 279.44,428.60 277.93,428.52 276.43,428.43 274.93,428.35 273.42,428.27 271.92,428.19 270.42,428.11 268.91,428.04 267.41,427.96 265.91,427.89 264.40,427.81 262.90,427.74 261.40,427.67 259.90,427.59 258.39,427.52 256.89,427.44 255.39,427.36 253.88,427.28 252.38,427.19 250.88,427.11 249.37,427.02 247.87,426.92 246.37,426.82 244.87,426.72 243.36,426.61 241.86,426.50 240.36,426.38 238.85,426.26 237.35,426.14 235.85,426.01 234.34,425.87 232.84,425.74 231.34,425.60 229.83,425.47 228.33,425.33 226.83,425.19 225.33,425.05 223.82,424.91 222.32,424.77 220.82,424.63 219.31,424.49 217.81,424.36 216.31,424.23 214.80,424.10 213.30,423.97 211.80,423.85 210.29,423.72 208.79,423.60 207.29,423.48 205.79,423.36 204.28,423.24 202.78,423.11 201.28,422.99 199.77,422.87 198.27,422.74 196.77,422.61 195.26,422.48 193.76,422.35 192.26,422.21 190.75,422.07 189.25,421.93 187.75,421.78 186.25,421.63 184.74,421.46 183.24,421.29 181.74,421.11 180.23,420.92 178.73,420.72 177.23,420.52 175.72,420.32 174.22,420.12 172.72,419.92 171.21,419.73 169.71,419.54 168.21,419.35 166.71,419.17 165.20,418.99 163.70,418.81 162.20,418.63 160.69,418.44 159.19,418.24 157.69,418.04 156.18,417.83 154.68,417.60 153.18,417.37 151.67,417.13 150.17,416.88 148.67,416.63 147.17,416.36 145.66,416.09 144.16,415.81 142.66,415.53 141.15,415.23 139.65,414.93 138.15,414.63 136.64,414.32 135.14,414.00 133.64,413.67 132.13,413.32 130.63,412.96 129.13,412.58 127.63,412.17 126.12,411.74 124.62,411.26 123.12,410.71 121.61,410.12 120.11,409.49 118.61,408.85 117.10,408.18 115.60,407.46 114.10,406.72 112.60,405.95 111.09,405.15 109.59,404.33 108.09,403.46 106.58,402.56 105.08,401.61 103.58,400.60 102.07,399.55 100.57,398.50 99.07,397.40 97.56,396.28 96.06,395.19 94.56,394.18 93.06,393.23 91.55,392.31 90.05,391.40 88.55,390.46 87.04,389.48 85.54,388.52 84.04,387.61 82.53,386.77 81.03,385.99 79.53,385.25 78.02,384.55 76.52,383.87 75.02,383.22 73.52,382.60 72.01,382.07 70.51,381.60 69.01,381.18 67.50,380.81 66.00,380.50" fill="rgba(128,128,128,0.42)"/><polygon points="66.00,433.60 67.50,434.07 69.01,434.64 70.51,435.29 72.01,436.01 73.52,436.84 75.02,437.81 76.52,438.85 78.02,439.94 79.53,441.11 81.03,442.37 82.53,443.66 84.04,444.96 85.54,446.28 87.04,447.63 88.55,449.00 90.05,450.42 91.55,451.91 93.06,453.42 94.56,454.90 96.06,456.28 97.56,457.57 99.07,458.84 100.57,460.12 102.07,461.46 103.58,462.84 105.08,464.20 106.58,465.50 108.09,466.83 109.59,468.07 111.09,469.05 112.60,469.82 114.10,470.49 115.60,471.09 117.10,471.60 118.61,472.03 120.11,472.40 121.61,472.72 123.12,473.01 124.62,473.27 126.12,473.52 127.63,473.77 129.13,474.01 130.63,474.24 132.13,474.47 133.64,474.69 135.14,474.90 136.64,475.11 138.15,475.32 139.65,475.52 141.15,475.72 142.66,475.91 144.16,476.10 145.66,476.28 147.17,476.47 148.67,476.65 150.17,476.83 151.67,477.00 153.18,477.18 154.68,477.35 156.18,477.52 157.69,477.69 159.19,477.86 160.69,478.03 162.20,478.19 163.70,478.35 165.20,478.51 166.71,478.67 168.21,478.82 169.71,478.97 171.21,479.12 172.72,479.27 174.22,479.42 175.72,479.56 177.23,479.71 178.73,479.85 180.23,479.98 181.74,480.12 183.24,480.26 184.74,480.39 186.25,480.52 187.75,480.65 189.25,480.78 190.75,480.91 192.26,481.04 193.76,481.17 195.26,481.30 196.77,481.43 198.27,481.56 199.77,481.69 201.28,481.82 202.78,481.94 204.28,482.07 205.79,482.20 207.29,482.32 208.79,482.44 210.29,482.57 211.80,482.69 213.30,482.81 214.80,482.93 216.31,483.04 217.81,483.16 219.31,483.28 220.82,483.39 222.32,483.50 223.82,483.61 225.33,483.72 226.83,483.83 228.33,483.93 229.83,484.03 231.34,484.13 232.84,484.23 234.34,484.33 235.85,484.42 237.35,484.52 238.85,484.61 240.36,484.69 241.86,484.78 243.36,484.86 244.87,484.94 246.37,485.02 247.87,485.10 249.37,485.17 250.88,485.25 252.38,485.32 253.88,485.40 255.39,485.47 256.89,485.54 258.39,485.62 259.90,485.69 261.40,485.76 262.90,485.83 264.40,485.90 265.91,485.97 267.41,486.03 268.91,486.10 270.42,486.17 271.92,486.23 273.42,486.30 274.93,486.36 276.43,486.42 277.93,486.48 279.44,486.54 280.94,486.60 282.44,486.66 283.94,486.72 285.45,486.77 286.95,486.83 288.45,486.88 289.96,486.93 291.46,486.98 292.96,487.03 294.47,487.08 295.97,487.12 297.47,487.17 298.98,487.21 300.48,487.25 301.98,487.29 303.48,487.33 304.99,487.37 306.49,487.40 307.99,487.44 309.50,487.47 311.00,487.50 311.00,490.50 309.50,490.50 307.99,490.50 306.49,490.49 304.99,490.49 303.48,490.48 301.98,490.47 300.48,490.47 298.98,490.46 297.47,490.44 295.97,490.43 294.47,490.42 292.96,490.40 291.46,490.39 289.96,490.37 288.45,490.35 286.95,490.33 285.45,490.31 283.94,490.29 282.44,490.27 280.94,490.24 279.44,490.22 277.93,490.19 276.43,490.17 274.93,490.14 273.42,490.11 271.92,490.09 270.42,490.06 268.91,490.03 267.41,490.00 265.91,489.97 264.40,489.93 262.90,489.90 261.40,489.87 259.90,489.83 258.39,489.80 256.89,489.76 255.39,489.73 253.88,489.69 252.38,489.66 250.88,489.62 249.37,489.58 247.87,489.55 246.37,489.51 244.87,489.47 243.36,489.42 241.86,489.37 240.36,489.31 238.85,489.25 237.35,489.18 235.85,489.10 234.34,489.03 232.84,488.95 231.34,488.86 229.83,488.78 228.33,488.69 226.83,488.60 225.33,488.52 223.82,488.43 222.32,488.34 220.82,488.26 219.31,488.17 217.81,488.09 216.31,488.02 214.80,487.94 213.30,487.87 211.80,487.79 210.29,487.72 208.79,487.65 207.29,487.58 205.79,487.51 204.28,487.44 202.78,487.37 201.28,487.29 199.77,487.22 198.27,487.15 196.77,487.08 195.26,487.00 193.76,486.92 192.26,486.85 190.75,486.77 189.25,486.68 187.75,486.60 186.25,486.51 184.74,486.43 183.24,486.34 181.74,486.25 180.23,486.16 178.73,486.06 177.23,485.97 175.72,485.87 174.22,485.77 172.72,485.67 171.21,485.57 169.71,485.47 168.21,485.36 166.71,485.25 165.20,485.14 163.70,485.03 162.20,484.91 160.69,484.79 159.19,484.67 157.69,484.54 156.18,484.42 154.68,484.28 153.18,484.15 151.67,484.01 150.17,483.87 148.67,483.72 147.17,483.57 145.66,483.42 144.16,483.26 142.66,483.10 141.15,482.93 139.65,482.76 138.15,482.58 136.64,482.40 135.14,482.22 133.64,482.03 132.13,481.84 130.63,481.64 129.13,481.44 127.63,481.23 126.12,481.02 124.62,480.80 123.12,480.56 121.61,480.30 120.11,480.02 118.61,479.72 117.10,479.41 115.60,479.08 114.10,478.72 112.60,478.31 111.09,477.83 109.59,477.23 108.09,476.47 106.58,475.63 105.08,474.76 103.58,473.79 102.07,472.76 100.57,471.69 99.07,470.56 97.56,469.39 96.06,468.19 94.56,466.98 93.06,465.74 91.55,464.49 90.05,463.29 88.55,462.18 87.04,461.13 85.54,460.12 84.04,459.14 82.53,458.18 81.03,457.23 79.53,456.32 78.02,455.47 76.52,454.70 75.02,453.96 73.52,453.29 72.01,452.68 70.51,452.14 69.01,451.64 67.50,451.19 66.00,450.80" fill="rgba(0,0,255,0.5)"/><polyline points="66.00,405.00 67.50,405.64 69.01,406.36 70.51,407.15 72.01,408.01 73.52,408.93 75.02,409.94 76.52,411.05 78.02,412.27 79.53,413.63 81.03,415.14 82.53,416.82 84.04,418.71 85.54,420.99 87.04,423.53 88.55,426.11 90.05,428.52 91.55,430.84 93.06,433.15 94.56,435.48 96.06,437.90 97.56,440.41 99.07,442.93 100.57,445.34 102.07,447.62 103.58,449.82 105.08,451.87 106.58,453.67 108.09,455.32 109.59,456.80 111.09,458.07 112.60,459.16 114.10,460.11 115.60,460.98 117.10,461.78 118.61,462.51 120.11,463.20 121.61,463.88 123.12,464.57 124.62,465.25 126.12,465.91 127.63,466.55 129.13,467.16 130.63,467.74 132.13,468.31 133.64,468.87 135.14,469.41 136.64,469.93 138.15,470.41 139.65,470.85 141.15,471.24 142.66,471.59 144.16,471.92 145.66,472.22 147.17,472.51 148.67,472.79 150.17,473.05 151.67,473.30 153.18,473.55 154.68,473.79 156.18,474.03 157.69,474.26 159.19,474.48 160.69,474.70 162.20,474.91 163.70,475.11 165.20,475.31 166.71,475.51 168.21,475.71 169.71,475.92 171.21,476.13 172.72,476.35 174.22,476.58 175.72,476.81 177.23,477.05 178.73,477.28 180.23,477.51 181.74,477.73 183.24,477.94 184.74,478.14 186.25,478.33 187.75,478.50 189.25,478.67 190.75,478.84 192.26,479.00 193.76,479.16 195.26,479.31 196.77,479.46 198.27,479.60 199.77,479.75 201.28,479.89 202.78,480.03 204.28,480.16 205.79,480.30 207.29,480.43 208.79,480.56 210.29,480.70 211.80,480.83 213.30,480.96 214.80,481.09 216.31,481.23 217.81,481.36 219.31,481.50 220.82,481.64 222.32,481.78 223.82,481.92 225.33,482.06 226.83,482.20 228.33,482.33 229.83,482.47 231.34,482.60 232.84,482.73 234.34,482.86 235.85,482.99 237.35,483.11 238.85,483.22 240.36,483.33 241.86,483.44 243.36,483.54 244.87,483.63 246.37,483.72 247.87,483.81 249.37,483.89 250.88,483.97 252.38,484.06 253.88,484.14 255.39,484.22 256.89,484.31 258.39,484.39 259.90,484.47 261.40,484.55 262.90,484.63 264.40,484.70 265.91,484.78 267.41,484.86 268.91,484.93 270.42,485.00 271.92,485.08 273.42,485.15 274.93,485.22 276.43,485.28 277.93,485.35 279.44,485.42 280.94,485.48 282.44,485.54 283.94,485.60 285.45,485.66 286.95,485.71 288.45,485.77 289.96,485.82 291.46,485.87 292.96,485.92 294.47,485.96 295.97,486.01 297.47,486.05 298.98,486.09 300.48,486.12 301.98,486.16 303.48,486.19 304.99,486.21 306.49,486.24 307.99,486.26 309.50,486.28 311.00,486.30" fill="none" stroke="rgb(152,137,0)" stroke-width="3" stroke-linejoin="round"/><polyline points="66.00,444.70 67.50,445.03 69.01,445.40 70.51,445.82 72.01,446.27 73.52,446.75 75.02,447.29 76.52,447.88 78.02,448.55 79.53,449.33 81.03,450.22 82.53,451.17 84.04,452.16 85.54,453.23 87.04,454.37 88.55,455.53 90.05,456.71 91.55,457.93 93.06,459.17 94.56,460.39 96.06,461.57 97.56,462.75 99.07,463.89 100.57,464.99 102.07,466.04 103.58,467.02 105.08,467.99 106.58,469.00 108.09,470.07 109.59,471.12 111.09,472.05 112.60,472.87 114.10,473.65 115.60,474.36 117.10,475.00 118.61,475.54 120.11,476.00 121.61,476.40 123.12,476.77 124.62,477.11 126.12,477.43 127.63,477.73 129.13,478.01 130.63,478.29 132.13,478.55 133.64,478.81 135.14,479.05 136.64,479.28 138.15,479.50 139.65,479.71 141.15,479.92 142.66,480.12 144.16,480.31 145.66,480.49 147.17,480.67 148.67,480.84 150.17,481.00 151.67,481.16 153.18,481.32 154.68,481.47 156.18,481.62 157.69,481.76 159.19,481.90 160.69,482.03 162.20,482.16 163.70,482.29 165.20,482.41 166.71,482.54 168.21,482.66 169.71,482.79 171.21,482.92 172.72,483.05 174.22,483.19 175.72,483.32 177.23,483.46 178.73,483.60 180.23,483.73 181.74,483.86 183.24,483.99 184.74,484.11 186.25,484.22 187.75,484.32 189.25,484.43 190.75,484.53 192.26,484.63 193.76,484.73 195.26,484.83 196.77,484.92 198.27,485.01 199.77,485.10 201.28,485.19 202.78,485.28 204.28,485.36 205.79,485.45 207.29,485.53 208.79,485.61 210.29,485.70 211.80,485.78 213.30,485.86 214.80,485.94 216.31,486.02 217.81,486.10 219.31,486.18 220.82,486.25 222.32,486.33 223.82,486.41 225.33,486.49 226.83,486.57 228.33,486.65 229.83,486.72 231.34,486.80 232.84,486.87 234.34,486.94 235.85,487.01 237.35,487.08 238.85,487.14 240.36,487.20 241.86,487.26 243.36,487.31 244.87,487.36 246.37,487.41 247.87,487.46 249.37,487.50 250.88,487.55 252.38,487.60 253.88,487.64 255.39,487.69 256.89,487.73 258.39,487.78 259.90,487.82 261.40,487.86 262.90,487.91 264.40,487.95 265.91,487.99 267.41,488.03 268.91,488.07 270.42,488.11 271.92,488.15 273.42,488.19 274.93,488.23 276.43,488.27 277.93,488.30 279.44,488.34 280.94,488.37 282.44,488.40 283.94,488.44 285.45,488.47 286.95,488.50 288.45,488.53 289.96,488.56 291.46,488.58 292.96,488.61 294.47,488.63 295.97,488.65 297.47,488.68 298.98,488.70 300.48,488.71 301.98,488.73 303.48,488.75 304.99,488.76 306.49,488.77 307.99,488.78 309.50,488.79 311.00,488.80" fill="none" stroke="rgb(0,0,255)" stroke-width="3.3" stroke-linejoin="round"/></g><g clip-path="url(#cR3R)"><line x1="377.4" y1="368.0" x2="377.4" y2="490.7" stroke="rgba(0,0,0,0.7)" stroke-width="1.2" stroke-dasharray="4.6 2.8"/><polygon points="344.60,369.80 346.11,370.51 347.62,371.43 349.13,372.54 350.63,373.79 352.14,375.16 353.65,376.66 355.16,378.41 356.67,380.41 358.18,382.68 359.69,385.23 361.20,388.19 362.70,391.76 364.21,395.86 365.72,400.43 367.23,405.38 368.74,411.19 370.25,418.41 371.76,426.20 373.26,433.69 374.77,440.00 376.28,444.99 377.79,448.66 379.30,450.96 380.81,452.74 382.32,454.15 383.82,455.31 385.33,456.31 386.84,457.18 388.35,457.97 389.86,458.73 391.37,459.46 392.88,460.14 394.39,460.78 395.89,461.39 397.40,461.96 398.91,462.52 400.42,463.07 401.93,463.59 403.44,464.06 404.95,464.49 406.45,464.87 407.96,465.24 409.47,465.60 410.98,465.94 412.49,466.28 414.00,466.60 415.51,466.92 417.01,467.22 418.52,467.52 420.03,467.80 421.54,468.08 423.05,468.35 424.56,468.61 426.07,468.87 427.58,469.12 429.08,469.37 430.59,469.61 432.10,469.85 433.61,470.09 435.12,470.32 436.63,470.54 438.14,470.76 439.64,470.97 441.15,471.18 442.66,471.38 444.17,471.58 445.68,471.77 447.19,471.95 448.70,472.14 450.20,472.32 451.71,472.50 453.22,472.68 454.73,472.85 456.24,473.03 457.75,473.21 459.26,473.39 460.77,473.57 462.27,473.76 463.78,473.95 465.29,474.14 466.80,474.33 468.31,474.53 469.82,474.74 471.33,474.95 472.83,475.15 474.34,475.36 475.85,475.57 477.36,475.78 478.87,475.99 480.38,476.20 481.89,476.41 483.40,476.61 484.90,476.81 486.41,477.01 487.92,477.20 489.43,477.38 490.94,477.56 492.45,477.73 493.96,477.89 495.46,478.05 496.97,478.20 498.48,478.34 499.99,478.48 501.50,478.61 503.01,478.74 504.52,478.87 506.02,479.00 507.53,479.12 509.04,479.24 510.55,479.36 512.06,479.47 513.57,479.59 515.08,479.71 516.59,479.82 518.09,479.94 519.60,480.06 521.11,480.18 522.62,480.30 524.13,480.43 525.64,480.55 527.15,480.68 528.65,480.81 530.16,480.94 531.67,481.06 533.18,481.19 534.69,481.32 536.20,481.45 537.71,481.58 539.21,481.70 540.72,481.83 542.23,481.96 543.74,482.09 545.25,482.22 546.76,482.35 548.27,482.48 549.78,482.60 551.28,482.73 552.79,482.86 554.30,482.99 555.81,483.12 557.32,483.25 558.83,483.38 560.34,483.51 561.84,483.64 563.35,483.77 564.86,483.90 566.37,484.03 567.88,484.16 569.39,484.29 570.90,484.42 572.40,484.55 573.91,484.68 575.42,484.81 576.93,484.95 578.44,485.08 579.95,485.21 581.46,485.34 582.97,485.47 584.47,485.60 585.98,485.74 587.49,485.87 589.00,486.00 589.00,489.00 587.49,489.00 585.98,489.00 584.47,488.99 582.97,488.99 581.46,488.98 579.95,488.97 578.44,488.96 576.93,488.95 575.42,488.94 573.91,488.92 572.40,488.91 570.90,488.89 569.39,488.88 567.88,488.86 566.37,488.84 564.86,488.82 563.35,488.79 561.84,488.77 560.34,488.75 558.83,488.72 557.32,488.70 555.81,488.67 554.30,488.64 552.79,488.61 551.28,488.59 549.78,488.56 548.27,488.53 546.76,488.50 545.25,488.46 543.74,488.43 542.23,488.40 540.72,488.37 539.21,488.33 537.71,488.30 536.20,488.26 534.69,488.23 533.18,488.19 531.67,488.16 530.16,488.12 528.65,488.09 527.15,488.05 525.64,488.02 524.13,487.98 522.62,487.94 521.11,487.90 519.60,487.85 518.09,487.80 516.59,487.75 515.08,487.69 513.57,487.64 512.06,487.57 510.55,487.51 509.04,487.45 507.53,487.38 506.02,487.31 504.52,487.24 503.01,487.16 501.50,487.09 499.99,487.01 498.48,486.93 496.97,486.85 495.46,486.77 493.96,486.69 492.45,486.60 490.94,486.52 489.43,486.43 487.92,486.35 486.41,486.26 484.90,486.17 483.40,486.08 481.89,485.99 480.38,485.90 478.87,485.81 477.36,485.72 475.85,485.63 474.34,485.54 472.83,485.45 471.33,485.37 469.82,485.28 468.31,485.19 466.80,485.10 465.29,485.02 463.78,484.93 462.27,484.84 460.77,484.76 459.26,484.67 457.75,484.58 456.24,484.49 454.73,484.40 453.22,484.31 451.71,484.22 450.20,484.12 448.70,484.03 447.19,483.93 445.68,483.84 444.17,483.74 442.66,483.64 441.15,483.53 439.64,483.43 438.14,483.33 436.63,483.22 435.12,483.11 433.61,483.00 432.10,482.89 430.59,482.78 429.08,482.67 427.58,482.56 426.07,482.44 424.56,482.33 423.05,482.21 421.54,482.09 420.03,481.97 418.52,481.85 417.01,481.72 415.51,481.58 414.00,481.44 412.49,481.30 410.98,481.15 409.47,481.00 407.96,480.84 406.45,480.67 404.95,480.49 403.44,480.31 401.93,480.12 400.42,479.91 398.91,479.69 397.40,479.45 395.89,479.20 394.39,478.92 392.88,478.63 391.37,478.31 389.86,477.97 388.35,477.57 386.84,477.11 385.33,476.58 383.82,475.98 382.32,475.32 380.81,474.60 379.30,473.80 377.79,472.83 376.28,471.60 374.77,470.01 373.26,466.68 371.76,461.78 370.25,456.59 368.74,452.36 367.23,449.12 365.72,446.59 364.21,444.85 362.70,443.45 361.20,442.15 359.69,440.67 358.18,438.96 356.67,437.37 355.16,436.01 353.65,434.74 352.14,433.60 350.63,432.60 349.13,431.69 347.62,430.86 346.11,430.12 344.60,429.50" fill="rgba(251.9,219.6,82.7,0.65)"/><polygon points="344.60,379.40 346.11,379.81 347.62,380.26 349.13,380.73 350.63,381.24 352.14,381.77 353.65,382.33 355.16,382.92 356.67,383.55 358.18,384.23 359.69,384.94 361.20,385.71 362.70,386.51 364.21,387.38 365.72,388.33 367.23,389.40 368.74,390.62 370.25,392.12 371.76,394.12 373.26,397.00 374.77,399.61 376.28,401.34 377.79,402.83 379.30,404.13 380.81,405.24 382.32,406.19 383.82,407.00 385.33,407.70 386.84,408.32 388.35,408.89 389.86,409.45 391.37,410.00 392.88,410.53 394.39,411.03 395.89,411.51 397.40,411.97 398.91,412.42 400.42,412.87 401.93,413.29 403.44,413.67 404.95,413.99 406.45,414.26 407.96,414.52 409.47,414.77 410.98,415.00 412.49,415.23 414.00,415.44 415.51,415.65 417.01,415.84 418.52,416.03 420.03,416.21 421.54,416.39 423.05,416.56 424.56,416.72 426.07,416.88 427.58,417.04 429.08,417.20 430.59,417.35 432.10,417.50 433.61,417.66 435.12,417.81 436.63,417.96 438.14,418.11 439.64,418.25 441.15,418.39 442.66,418.53 444.17,418.66 445.68,418.79 447.19,418.92 448.70,419.04 450.20,419.17 451.71,419.29 453.22,419.41 454.73,419.53 456.24,419.66 457.75,419.78 459.26,419.90 460.77,420.03 462.27,420.16 463.78,420.29 465.29,420.43 466.80,420.56 468.31,420.70 469.82,420.85 471.33,420.99 472.83,421.14 474.34,421.29 475.85,421.44 477.36,421.59 478.87,421.73 480.38,421.88 481.89,422.03 483.40,422.18 484.90,422.32 486.41,422.46 487.92,422.60 489.43,422.73 490.94,422.87 492.45,422.99 493.96,423.12 495.46,423.24 496.97,423.35 498.48,423.47 499.99,423.59 501.50,423.70 503.01,423.82 504.52,423.93 506.02,424.04 507.53,424.15 509.04,424.26 510.55,424.36 512.06,424.47 513.57,424.56 515.08,424.66 516.59,424.75 518.09,424.84 519.60,424.93 521.11,425.01 522.62,425.09 524.13,425.16 525.64,425.23 527.15,425.30 528.65,425.36 530.16,425.43 531.67,425.49 533.18,425.56 534.69,425.63 536.20,425.69 537.71,425.75 539.21,425.82 540.72,425.88 542.23,425.94 543.74,426.00 545.25,426.06 546.76,426.12 548.27,426.18 549.78,426.24 551.28,426.30 552.79,426.35 554.30,426.41 555.81,426.46 557.32,426.51 558.83,426.56 560.34,426.61 561.84,426.66 563.35,426.70 564.86,426.75 566.37,426.79 567.88,426.83 569.39,426.87 570.90,426.91 572.40,426.94 573.91,426.98 575.42,427.01 576.93,427.04 578.44,427.07 579.95,427.09 581.46,427.12 582.97,427.14 584.47,427.16 585.98,427.17 587.49,427.19 589.00,427.20 589.00,431.40 587.49,431.37 585.98,431.33 584.47,431.30 582.97,431.26 581.46,431.22 579.95,431.18 578.44,431.14 576.93,431.10 575.42,431.05 573.91,431.01 572.40,430.96 570.90,430.91 569.39,430.87 567.88,430.82 566.37,430.77 564.86,430.72 563.35,430.67 561.84,430.61 560.34,430.56 558.83,430.50 557.32,430.45 555.81,430.39 554.30,430.34 552.79,430.28 551.28,430.22 549.78,430.16 548.27,430.10 546.76,430.04 545.25,429.98 543.74,429.92 542.23,429.85 540.72,429.79 539.21,429.73 537.71,429.66 536.20,429.60 534.69,429.53 533.18,429.46 531.67,429.40 530.16,429.33 528.65,429.26 527.15,429.20 525.64,429.13 524.13,429.06 522.62,428.99 521.11,428.92 519.60,428.84 518.09,428.76 516.59,428.68 515.08,428.60 513.57,428.52 512.06,428.43 510.55,428.35 509.04,428.26 507.53,428.17 506.02,428.08 504.52,427.99 503.01,427.90 501.50,427.80 499.99,427.71 498.48,427.62 496.97,427.52 495.46,427.43 493.96,427.33 492.45,427.24 490.94,427.14 489.43,427.05 487.92,426.95 486.41,426.85 484.90,426.75 483.40,426.65 481.89,426.55 480.38,426.45 478.87,426.35 477.36,426.24 475.85,426.13 474.34,426.02 472.83,425.91 471.33,425.80 469.82,425.68 468.31,425.57 466.80,425.45 465.29,425.32 463.78,425.20 462.27,425.07 460.77,424.94 459.26,424.80 457.75,424.67 456.24,424.53 454.73,424.38 453.22,424.24 451.71,424.09 450.20,423.94 448.70,423.78 447.19,423.63 445.68,423.47 444.17,423.31 442.66,423.15 441.15,422.98 439.64,422.82 438.14,422.65 436.63,422.48 435.12,422.31 433.61,422.14 432.10,421.98 430.59,421.82 429.08,421.65 427.58,421.49 426.07,421.33 424.56,421.16 423.05,421.00 421.54,420.82 420.03,420.65 418.52,420.47 417.01,420.28 415.51,420.08 414.00,419.87 412.49,419.66 410.98,419.43 409.47,419.19 407.96,418.94 406.45,418.67 404.95,418.39 403.44,418.05 401.93,417.64 400.42,417.19 398.91,416.73 397.40,416.27 395.89,415.84 394.39,415.40 392.88,414.95 391.37,414.47 389.86,413.95 388.35,413.40 386.84,412.82 385.33,412.17 383.82,411.44 382.32,410.59 380.81,409.55 379.30,408.30 377.79,406.85 376.28,405.22 374.77,403.41 373.26,400.92 371.76,398.18 370.25,395.97 368.74,394.08 367.23,392.56 365.72,391.32 364.21,390.22 362.70,389.24 361.20,388.35 359.69,387.53 358.18,386.75 356.67,385.98 355.16,385.24 353.65,384.54 352.14,383.87 350.63,383.25 349.13,382.67 347.62,382.15 346.11,381.69 344.60,381.30" fill="rgba(128,128,128,0.42)"/><polygon points="344.60,435.10 346.11,435.51 347.62,436.00 349.13,436.55 350.63,437.17 352.14,437.84 353.65,438.57 355.16,439.43 356.67,440.38 358.18,441.38 359.69,442.39 361.20,443.33 362.70,444.22 364.21,445.24 365.72,446.61 367.23,449.12 368.74,452.38 370.25,455.62 371.76,459.11 373.26,462.37 374.77,464.91 376.28,466.67 377.79,468.17 379.30,469.46 380.81,470.55 382.32,471.49 383.82,472.31 385.33,473.04 386.84,473.68 388.35,474.25 389.86,474.76 391.37,475.22 392.88,475.65 394.39,476.03 395.89,476.38 397.40,476.68 398.91,476.95 400.42,477.19 401.93,477.41 403.44,477.61 404.95,477.79 406.45,477.97 407.96,478.14 409.47,478.31 410.98,478.47 412.49,478.64 414.00,478.79 415.51,478.95 417.01,479.10 418.52,479.26 420.03,479.40 421.54,479.55 423.05,479.69 424.56,479.83 426.07,479.97 427.58,480.11 429.08,480.24 430.59,480.38 432.10,480.51 433.61,480.64 435.12,480.76 436.63,480.89 438.14,481.01 439.64,481.13 441.15,481.25 442.66,481.37 444.17,481.49 445.68,481.60 447.19,481.72 448.70,481.83 450.20,481.94 451.71,482.05 453.22,482.16 454.73,482.27 456.24,482.38 457.75,482.49 459.26,482.60 460.77,482.70 462.27,482.81 463.78,482.92 465.29,483.02 466.80,483.13 468.31,483.23 469.82,483.33 471.33,483.44 472.83,483.54 474.34,483.64 475.85,483.74 477.36,483.85 478.87,483.95 480.38,484.05 481.89,484.14 483.40,484.24 484.90,484.34 486.41,484.44 487.92,484.53 489.43,484.63 490.94,484.72 492.45,484.81 493.96,484.90 495.46,484.99 496.97,485.08 498.48,485.17 499.99,485.26 501.50,485.35 503.01,485.43 504.52,485.51 506.02,485.60 507.53,485.68 509.04,485.76 510.55,485.83 512.06,485.91 513.57,485.98 515.08,486.06 516.59,486.13 518.09,486.20 519.60,486.27 521.11,486.34 522.62,486.40 524.13,486.46 525.64,486.53 527.15,486.59 528.65,486.65 530.16,486.71 531.67,486.77 533.18,486.83 534.69,486.89 536.20,486.95 537.71,487.00 539.21,487.06 540.72,487.12 542.23,487.17 543.74,487.23 545.25,487.28 546.76,487.34 548.27,487.39 549.78,487.45 551.28,487.50 552.79,487.55 554.30,487.60 555.81,487.65 557.32,487.70 558.83,487.75 560.34,487.79 561.84,487.84 563.35,487.89 564.86,487.93 566.37,487.97 567.88,488.02 569.39,488.06 570.90,488.10 572.40,488.14 573.91,488.18 575.42,488.22 576.93,488.25 578.44,488.29 579.95,488.32 581.46,488.35 582.97,488.39 584.47,488.42 585.98,488.45 587.49,488.47 589.00,488.50 589.00,490.50 587.49,490.48 585.98,490.47 584.47,490.45 582.97,490.43 581.46,490.41 579.95,490.39 578.44,490.38 576.93,490.36 575.42,490.34 573.91,490.32 572.40,490.30 570.90,490.28 569.39,490.25 567.88,490.23 566.37,490.21 564.86,490.19 563.35,490.17 561.84,490.14 560.34,490.12 558.83,490.10 557.32,490.07 555.81,490.05 554.30,490.02 552.79,490.00 551.28,489.97 549.78,489.95 548.27,489.92 546.76,489.90 545.25,489.87 543.74,489.85 542.23,489.82 540.72,489.79 539.21,489.77 537.71,489.74 536.20,489.71 534.69,489.68 533.18,489.65 531.67,489.63 530.16,489.60 528.65,489.57 527.15,489.54 525.64,489.51 524.13,489.48 522.62,489.45 521.11,489.42 519.60,489.40 518.09,489.37 516.59,489.34 515.08,489.31 513.57,489.28 512.06,489.25 510.55,489.22 509.04,489.19 507.53,489.15 506.02,489.12 504.52,489.09 503.01,489.06 501.50,489.03 499.99,488.99 498.48,488.96 496.97,488.92 495.46,488.89 493.96,488.85 492.45,488.82 490.94,488.78 489.43,488.74 487.92,488.70 486.41,488.66 484.90,488.62 483.40,488.58 481.89,488.54 480.38,488.50 478.87,488.45 477.36,488.41 475.85,488.36 474.34,488.32 472.83,488.27 471.33,488.22 469.82,488.17 468.31,488.12 466.80,488.06 465.29,488.01 463.78,487.95 462.27,487.89 460.77,487.83 459.26,487.76 457.75,487.69 456.24,487.61 454.73,487.54 453.22,487.45 451.71,487.37 450.20,487.28 448.70,487.19 447.19,487.10 445.68,487.01 444.17,486.91 442.66,486.81 441.15,486.72 439.64,486.61 438.14,486.51 436.63,486.41 435.12,486.31 433.61,486.20 432.10,486.10 430.59,485.99 429.08,485.89 427.58,485.78 426.07,485.67 424.56,485.55 423.05,485.44 421.54,485.32 420.03,485.19 418.52,485.07 417.01,484.94 415.51,484.80 414.00,484.66 412.49,484.51 410.98,484.36 409.47,484.20 407.96,484.04 406.45,483.87 404.95,483.69 403.44,483.49 401.93,483.26 400.42,483.00 398.91,482.74 397.40,482.48 395.89,482.24 394.39,482.01 392.88,481.77 391.37,481.49 389.86,481.17 388.35,480.76 386.84,480.28 385.33,479.73 383.82,479.14 382.32,478.52 380.81,477.91 379.30,477.26 377.79,476.53 376.28,475.67 374.77,474.62 373.26,473.00 371.76,470.84 370.25,468.45 368.74,466.13 367.23,464.19 365.72,462.50 364.21,460.90 362.70,459.39 361.20,457.97 359.69,456.63 358.18,455.33 356.67,454.08 355.16,452.91 353.65,451.84 352.14,450.89 350.63,450.01 349.13,449.19 347.62,448.45 346.11,447.78 344.60,447.20" fill="rgba(0,0,255,0.5)"/><polyline points="344.60,398.60 346.11,399.64 347.62,400.81 349.13,402.08 350.63,403.45 352.14,404.91 353.65,406.52 355.16,408.27 356.67,410.16 358.18,412.24 359.69,414.54 361.20,417.03 362.70,419.67 364.21,422.60 365.72,425.78 367.23,429.08 368.74,432.96 370.25,437.92 371.76,443.64 373.26,449.23 374.77,452.55 376.28,455.19 377.79,458.01 379.30,460.68 380.81,462.66 382.32,464.19 383.82,465.48 385.33,466.54 386.84,467.37 388.35,468.00 389.86,468.55 391.37,469.11 392.88,469.67 394.39,470.21 395.89,470.71 397.40,471.17 398.91,471.59 400.42,471.99 401.93,472.37 403.44,472.70 404.95,472.99 406.45,473.25 407.96,473.49 409.47,473.72 410.98,473.94 412.49,474.14 414.00,474.34 415.51,474.53 417.01,474.71 418.52,474.89 420.03,475.06 421.54,475.22 423.05,475.39 424.56,475.55 426.07,475.71 427.58,475.87 429.08,476.03 430.59,476.20 432.10,476.36 433.61,476.54 435.12,476.71 436.63,476.90 438.14,477.08 439.64,477.26 441.15,477.44 442.66,477.62 444.17,477.81 445.68,477.99 447.19,478.17 448.70,478.35 450.20,478.53 451.71,478.71 453.22,478.88 454.73,479.06 456.24,479.23 457.75,479.40 459.26,479.57 460.77,479.74 462.27,479.91 463.78,480.07 465.29,480.23 466.80,480.39 468.31,480.55 469.82,480.70 471.33,480.86 472.83,481.01 474.34,481.17 475.85,481.32 477.36,481.47 478.87,481.62 480.38,481.76 481.89,481.91 483.40,482.05 484.90,482.19 486.41,482.33 487.92,482.47 489.43,482.61 490.94,482.75 492.45,482.88 493.96,483.01 495.46,483.14 496.97,483.27 498.48,483.40 499.99,483.53 501.50,483.66 503.01,483.80 504.52,483.93 506.02,484.06 507.53,484.18 509.04,484.31 510.55,484.43 512.06,484.55 513.57,484.67 515.08,484.78 516.59,484.89 518.09,485.00 519.60,485.10 521.11,485.19 522.62,485.28 524.13,485.36 525.64,485.43 527.15,485.50 528.65,485.58 530.16,485.65 531.67,485.72 533.18,485.79 534.69,485.86 536.20,485.93 537.71,486.00 539.21,486.07 540.72,486.14 542.23,486.21 543.74,486.28 545.25,486.34 546.76,486.41 548.27,486.47 549.78,486.53 551.28,486.59 552.79,486.65 554.30,486.71 555.81,486.77 557.32,486.82 558.83,486.88 560.34,486.93 561.84,486.98 563.35,487.03 564.86,487.08 566.37,487.12 567.88,487.16 569.39,487.20 570.90,487.24 572.40,487.28 573.91,487.31 575.42,487.34 576.93,487.37 578.44,487.40 579.95,487.42 581.46,487.44 582.97,487.46 584.47,487.47 585.98,487.48 587.49,487.49 589.00,487.50" fill="none" stroke="rgb(152,137,0)" stroke-width="3" stroke-linejoin="round"/><polyline points="344.60,441.50 346.11,441.99 347.62,442.54 349.13,443.15 350.63,443.82 352.14,444.53 353.65,445.29 355.16,446.13 356.67,447.04 358.18,448.03 359.69,449.07 361.20,450.19 362.70,451.39 364.21,452.72 365.72,454.22 367.23,455.97 368.74,458.01 370.25,460.21 371.76,462.48 373.26,465.03 374.77,467.52 376.28,469.39 377.79,470.97 379.30,472.20 380.81,473.08 382.32,473.80 383.82,474.51 385.33,475.24 386.84,475.96 388.35,476.64 389.86,477.25 391.37,477.80 392.88,478.31 394.39,478.79 395.89,479.22 397.40,479.58 398.91,479.88 400.42,480.16 401.93,480.40 403.44,480.61 404.95,480.79 406.45,480.96 407.96,481.11 409.47,481.26 410.98,481.40 412.49,481.53 414.00,481.66 415.51,481.78 417.01,481.89 418.52,482.00 420.03,482.11 421.54,482.21 423.05,482.32 424.56,482.41 426.07,482.51 427.58,482.61 429.08,482.71 430.59,482.80 432.10,482.90 433.61,483.00 435.12,483.11 436.63,483.21 438.14,483.32 439.64,483.42 441.15,483.52 442.66,483.62 444.17,483.72 445.68,483.82 447.19,483.92 448.70,484.01 450.20,484.11 451.71,484.21 453.22,484.30 454.73,484.39 456.24,484.49 457.75,484.58 459.26,484.67 460.77,484.76 462.27,484.84 463.78,484.93 465.29,485.02 466.80,485.10 468.31,485.19 469.82,485.28 471.33,485.37 472.83,485.45 474.34,485.54 475.85,485.63 477.36,485.72 478.87,485.81 480.38,485.90 481.89,485.99 483.40,486.08 484.90,486.17 486.41,486.26 487.92,486.35 489.43,486.43 490.94,486.52 492.45,486.60 493.96,486.69 495.46,486.77 496.97,486.85 498.48,486.93 499.99,487.01 501.50,487.09 503.01,487.16 504.52,487.24 506.02,487.31 507.53,487.38 509.04,487.45 510.55,487.51 512.06,487.57 513.57,487.64 515.08,487.69 516.59,487.75 518.09,487.80 519.60,487.85 521.11,487.90 522.62,487.94 524.13,487.98 525.64,488.02 527.15,488.05 528.65,488.09 530.16,488.12 531.67,488.16 533.18,488.19 534.69,488.23 536.20,488.26 537.71,488.30 539.21,488.33 540.72,488.37 542.23,488.40 543.74,488.43 545.25,488.46 546.76,488.50 548.27,488.53 549.78,488.56 551.28,488.59 552.79,488.61 554.30,488.64 555.81,488.67 557.32,488.70 558.83,488.72 560.34,488.75 561.84,488.77 563.35,488.79 564.86,488.82 566.37,488.84 567.88,488.86 569.39,488.88 570.90,488.89 572.40,488.91 573.91,488.92 575.42,488.94 576.93,488.95 578.44,488.96 579.95,488.97 581.46,488.98 582.97,488.99 584.47,488.99 585.98,489.00 587.49,489.00 589.00,489.00" fill="none" stroke="rgb(0,0,255)" stroke-width="3.3" stroke-linejoin="round"/></g><g clip-path="url(#cR4L)"><polygon points="66.00,543.02 67.50,543.65 69.01,544.27 70.51,544.89 72.01,545.51 73.52,546.13 75.02,546.74 76.52,547.36 78.02,547.97 79.53,548.58 81.03,549.20 82.53,549.80 84.04,550.41 85.54,551.02 87.04,551.62 88.55,552.23 90.05,552.83 91.55,553.43 93.06,554.03 94.56,554.63 96.06,555.23 97.56,555.82 99.07,556.42 100.57,557.01 102.07,557.61 103.58,558.20 105.08,558.79 106.58,559.37 108.09,559.96 109.59,560.55 111.09,561.13 112.60,561.72 114.10,562.30 115.60,562.88 117.10,563.46 118.61,564.04 120.11,564.61 121.61,565.19 123.12,565.77 124.62,566.34 126.12,566.91 127.63,567.49 129.13,568.06 130.63,568.63 132.13,569.19 133.64,569.76 135.14,570.33 136.64,570.89 138.15,571.46 139.65,572.02 141.15,572.58 142.66,573.14 144.16,573.70 145.66,574.26 147.17,574.82 148.67,575.37 150.17,575.93 151.67,576.48 153.18,577.04 154.68,577.59 156.18,578.14 157.69,578.69 159.19,579.24 160.69,579.79 162.20,580.34 163.70,580.89 165.20,581.43 166.71,581.98 168.21,582.52 169.71,583.06 171.21,583.61 172.72,584.15 174.22,584.69 175.72,585.23 177.23,585.76 178.73,586.30 180.23,586.84 181.74,587.38 183.24,587.91 184.74,588.44 186.25,588.98 187.75,589.51 189.25,590.04 190.75,590.57 192.26,591.10 193.76,591.63 195.26,592.16 196.77,592.69 198.27,593.22 199.77,593.74 201.28,594.27 202.78,594.79 204.28,595.32 205.79,595.84 207.29,596.36 208.79,596.89 210.29,597.41 211.80,597.93 213.30,598.45 214.80,598.97 216.31,599.48 217.81,600.00 219.31,600.52 220.82,601.04 222.32,601.55 223.82,602.07 225.33,602.58 226.83,603.10 228.33,603.61 229.83,604.12 231.34,604.63 232.84,605.15 234.34,605.66 235.85,606.17 237.35,606.68 238.85,607.19 240.36,607.70 241.86,608.20 243.36,608.71 244.87,609.22 246.37,609.73 247.87,610.23 249.37,610.74 250.88,611.24 252.38,611.75 253.88,612.25 255.39,612.76 256.89,613.26 258.39,613.76 259.90,614.26 261.40,614.77 262.90,615.27 264.40,615.77 265.91,616.27 267.41,616.77 268.91,617.27 270.42,617.77 271.92,618.27 273.42,618.77 274.93,619.27 276.43,619.76 277.93,620.26 279.44,620.76 280.94,621.26 282.44,621.75 283.94,622.25 285.45,622.75 286.95,623.24 288.45,623.74 289.96,624.23 291.46,624.73 292.96,625.22 294.47,625.72 295.97,626.21 297.47,626.70 298.98,627.20 300.48,627.69 301.98,628.18 303.48,628.68 304.99,629.17 306.49,629.66 307.99,630.16 309.50,630.65 311.00,631.14 316.00,695.67 246.00,655.67 244.50,655.43 243.00,655.20 241.50,654.96 240.00,654.71 238.50,654.46 237.00,654.21 235.50,653.95 234.00,653.69 232.50,653.42 231.00,653.15 229.50,652.88 228.00,652.60 226.50,652.32 225.00,652.03 223.50,651.74 222.00,651.44 220.50,651.14 219.00,650.84 217.50,650.53 216.00,650.22 214.50,649.90 213.00,649.58 211.50,649.26 210.00,648.93 208.50,648.59 207.00,648.25 205.50,647.91 204.00,647.57 202.50,647.22 201.00,646.86 199.50,646.50 198.00,646.14 196.50,645.77 195.00,645.40 193.50,645.03 192.00,644.65 190.50,644.26 189.00,643.87 187.50,643.48 186.00,643.09 184.50,642.68 183.00,642.28 181.50,641.87 180.00,641.46 178.50,641.04 177.00,640.62 175.50,640.19 174.00,639.76 172.50,639.33 171.00,638.89 169.50,638.45 168.00,638.00 166.50,637.55 165.00,637.10 163.50,636.64 162.00,636.18 160.50,635.71 159.00,635.24 157.50,634.76 156.00,634.29 154.50,633.80 153.00,633.31 151.50,632.82 150.00,632.33 148.50,631.83 147.00,631.32 145.50,630.81 144.00,630.30 142.50,629.79 141.00,629.27 139.50,628.74 138.00,628.21 136.50,627.68 135.00,627.14 133.50,626.60 132.00,626.06 130.50,625.51 129.00,624.96 127.50,624.40 126.00,623.84 124.50,623.27 123.00,622.70 121.50,622.13 120.00,621.55 118.50,620.97 117.00,620.38 115.50,619.79 114.00,619.20 112.50,618.60 111.00,618.00 109.50,617.39 108.00,616.78 106.50,616.17 105.00,615.55 103.50,614.93 102.00,614.30 100.50,613.67 99.00,613.04 97.50,612.40 96.00,611.76 94.50,611.11 93.00,610.46 91.50,609.81 90.00,609.15 88.50,608.49 87.00,607.82 85.50,607.15 84.00,606.47 82.50,605.79 81.00,605.11 79.50,604.43 78.00,603.74 76.50,603.04 75.00,602.34 73.50,601.64 72.00,600.93 70.50,600.22 69.00,599.51 67.50,598.79 66.00,598.07" fill="rgba(251.9,219.6,82.7,0.65)"/><polygon points="66.00,540.13 67.50,540.30 69.01,540.46 70.51,540.63 72.01,540.80 73.52,540.96 75.02,541.12 76.52,541.29 78.02,541.45 79.53,541.61 81.03,541.77 82.53,541.93 84.04,542.08 85.54,542.24 87.04,542.39 88.55,542.55 90.05,542.70 91.55,542.85 93.06,543.01 94.56,543.16 96.06,543.31 97.56,543.46 99.07,543.60 100.57,543.75 102.07,543.90 103.58,544.04 105.08,544.19 106.58,544.33 108.09,544.47 109.59,544.62 111.09,544.76 112.60,544.90 114.10,545.04 115.60,545.18 117.10,545.32 118.61,545.45 120.11,545.59 121.61,545.73 123.12,545.86 124.62,546.00 126.12,546.13 127.63,546.27 129.13,546.40 130.63,546.53 132.13,546.66 133.64,546.80 135.14,546.93 136.64,547.06 138.15,547.19 139.65,547.32 141.15,547.44 142.66,547.57 144.16,547.70 145.66,547.83 147.17,547.95 148.67,548.08 150.17,548.21 151.67,548.33 153.18,548.46 154.68,548.58 156.18,548.71 157.69,548.83 159.19,548.95 160.69,549.08 162.20,549.20 163.70,549.32 165.20,549.44 166.71,549.56 168.21,549.69 169.71,549.81 171.21,549.93 172.72,550.05 174.22,550.17 175.72,550.29 177.23,550.41 178.73,550.53 180.23,550.65 181.74,550.77 183.24,550.89 184.74,551.00 186.25,551.12 187.75,551.24 189.25,551.36 190.75,551.48 192.26,551.60 193.76,551.72 195.26,551.83 196.77,551.95 198.27,552.07 199.77,552.19 201.28,552.31 202.78,552.42 204.28,552.54 205.79,552.66 207.29,552.78 208.79,552.90 210.29,553.01 211.80,553.13 213.30,553.25 214.80,553.37 216.31,553.49 217.81,553.60 219.31,553.72 220.82,553.84 222.32,553.96 223.82,554.08 225.33,554.20 226.83,554.32 228.33,554.44 229.83,554.56 231.34,554.68 232.84,554.80 234.34,554.92 235.85,555.04 237.35,555.16 238.85,555.28 240.36,555.40 241.86,555.53 243.36,555.65 244.87,555.77 246.37,555.89 247.87,556.02 249.37,556.14 250.88,556.26 252.38,556.39 253.88,556.51 255.39,556.64 256.89,556.76 258.39,556.89 259.90,557.02 261.40,557.14 262.90,557.27 264.40,557.40 265.91,557.53 267.41,557.66 268.91,557.79 270.42,557.92 271.92,558.05 273.42,558.18 274.93,558.31 276.43,558.44 277.93,558.58 279.44,558.71 280.94,558.84 282.44,558.98 283.94,559.11 285.45,559.25 286.95,559.39 288.45,559.53 289.96,559.66 291.46,559.80 292.96,559.94 294.47,560.08 295.97,560.22 297.47,560.37 298.98,560.51 300.48,560.65 301.98,560.80 303.48,560.94 304.99,561.09 306.49,561.23 307.99,561.38 309.50,561.53 311.00,561.68 311.00,576.98 309.50,576.88 307.99,576.79 306.49,576.69 304.99,576.60 303.48,576.51 301.98,576.41 300.48,576.32 298.98,576.22 297.47,576.13 295.97,576.03 294.47,575.94 292.96,575.84 291.46,575.75 289.96,575.65 288.45,575.55 286.95,575.46 285.45,575.36 283.94,575.27 282.44,575.17 280.94,575.08 279.44,574.98 277.93,574.89 276.43,574.79 274.93,574.70 273.42,574.60 271.92,574.51 270.42,574.41 268.91,574.32 267.41,574.22 265.91,574.13 264.40,574.03 262.90,573.94 261.40,573.84 259.90,573.74 258.39,573.65 256.89,573.55 255.39,573.46 253.88,573.36 252.38,573.27 250.88,573.17 249.37,573.08 247.87,572.98 246.37,572.89 244.87,572.80 243.36,572.70 241.86,572.61 240.36,572.51 238.85,572.42 237.35,572.32 235.85,572.23 234.34,572.13 232.84,572.04 231.34,571.95 229.83,571.85 228.33,571.76 226.83,571.66 225.33,571.57 223.82,571.48 222.32,571.38 220.82,571.29 219.31,571.20 217.81,571.10 216.31,571.01 214.80,570.92 213.30,570.82 211.80,570.73 210.29,570.64 208.79,570.54 207.29,570.45 205.79,570.36 204.28,570.27 202.78,570.17 201.28,570.08 199.77,569.99 198.27,569.90 196.77,569.81 195.26,569.72 193.76,569.62 192.26,569.53 190.75,569.44 189.25,569.35 187.75,569.26 186.25,569.17 184.74,569.08 183.24,568.99 181.74,568.90 180.23,568.81 178.73,568.72 177.23,568.63 175.72,568.54 174.22,568.45 172.72,568.36 171.21,568.27 169.71,568.19 168.21,568.10 166.71,568.01 165.20,567.92 163.70,567.83 162.20,567.75 160.69,567.66 159.19,567.57 157.69,567.48 156.18,567.40 154.68,567.31 153.18,567.23 151.67,567.14 150.17,567.05 148.67,566.97 147.17,566.88 145.66,566.80 144.16,566.71 142.66,566.63 141.15,566.54 139.65,566.46 138.15,566.38 136.64,566.29 135.14,566.21 133.64,566.13 132.13,566.04 130.63,565.96 129.13,565.88 127.63,565.80 126.12,565.71 124.62,565.63 123.12,565.55 121.61,565.47 120.11,565.39 118.61,565.31 117.10,565.23 115.60,565.15 114.10,565.07 112.60,564.99 111.09,564.91 109.59,564.83 108.09,564.75 106.58,564.68 105.08,564.60 103.58,564.52 102.07,564.44 100.57,564.37 99.07,564.29 97.56,564.21 96.06,564.14 94.56,564.06 93.06,563.99 91.55,563.91 90.05,563.84 88.55,563.77 87.04,563.69 85.54,563.62 84.04,563.54 82.53,563.47 81.03,563.40 79.53,563.33 78.02,563.26 76.52,563.19 75.02,563.11 73.52,563.04 72.01,562.97 70.51,562.90 69.01,562.83 67.50,562.77 66.00,562.70" fill="rgba(128,128,128,0.42)"/><polygon points="66.00,602.13 67.50,602.40 69.01,602.67 70.51,602.93 72.01,603.20 73.52,603.46 75.02,603.72 76.52,603.98 78.02,604.24 79.53,604.50 81.03,604.76 82.53,605.02 84.04,605.27 85.54,605.53 87.04,605.78 88.55,606.04 90.05,606.29 91.55,606.54 93.06,606.79 94.56,607.04 96.06,607.29 97.56,607.54 99.07,607.78 100.57,608.03 102.07,608.28 103.58,608.52 105.08,608.77 106.58,609.01 108.09,609.25 109.59,609.50 111.09,609.74 112.60,609.98 114.10,610.22 115.60,610.46 117.10,610.70 118.61,610.94 120.11,611.17 121.61,611.41 123.12,611.65 124.62,611.89 126.12,612.12 127.63,612.36 129.13,612.59 130.63,612.83 132.13,613.06 133.64,613.30 135.14,613.53 136.64,613.76 138.15,614.00 139.65,614.23 141.15,614.46 142.66,614.69 144.16,614.93 145.66,615.16 147.17,615.39 148.67,615.62 150.17,615.85 151.67,616.08 153.18,616.31 154.68,616.54 156.18,616.77 157.69,617.00 159.19,617.24 160.69,617.47 162.20,617.70 163.70,617.93 165.20,618.16 166.71,618.39 168.21,618.62 169.71,618.85 171.21,619.08 172.72,619.31 174.22,619.54 175.72,619.77 177.23,620.00 178.73,620.23 180.23,620.46 181.74,620.69 183.24,620.92 184.74,621.16 186.25,621.39 187.75,621.62 189.25,621.85 190.75,622.09 192.26,622.32 193.76,622.55 195.26,622.79 196.77,623.02 198.27,623.26 199.77,623.49 201.28,623.73 202.78,623.96 204.28,624.20 205.79,624.44 207.29,624.67 208.79,624.91 210.29,625.15 211.80,625.39 213.30,625.63 214.80,625.87 216.31,626.11 217.81,626.35 219.31,626.59 220.82,626.83 222.32,627.08 223.82,627.32 225.33,627.57 226.83,627.81 228.33,628.06 229.83,628.30 231.34,628.55 232.84,628.80 234.34,629.05 235.85,629.30 237.35,629.55 238.85,629.80 240.36,630.05 241.86,630.31 243.36,630.56 244.87,630.82 246.37,631.07 247.87,631.33 249.37,631.59 250.88,631.85 252.38,632.11 253.88,632.37 255.39,632.63 256.89,632.90 258.39,633.16 259.90,633.43 261.40,633.69 262.90,633.96 264.40,634.23 265.91,634.50 267.41,634.77 268.91,635.05 270.42,635.32 271.92,635.60 273.42,635.87 274.93,636.15 276.43,636.43 277.93,636.71 279.44,636.99 280.94,637.28 282.44,637.56 283.94,637.85 285.45,638.13 286.95,638.42 288.45,638.71 289.96,639.00 291.46,639.30 292.96,639.59 294.47,639.89 295.97,640.19 297.47,640.49 298.98,640.79 300.48,641.09 301.98,641.39 303.48,641.70 304.99,642.01 306.49,642.32 307.99,642.63 309.50,642.94 311.00,643.26 316.00,694.98 225.00,654.98 223.50,654.53 222.00,654.07 220.50,653.62 219.00,653.17 217.50,652.72 216.00,652.27 214.50,651.83 213.00,651.39 211.50,650.95 210.00,650.51 208.50,650.08 207.00,649.65 205.50,649.22 204.00,648.79 202.50,648.36 201.00,647.94 199.50,647.51 198.00,647.09 196.50,646.68 195.00,646.26 193.50,645.84 192.00,645.43 190.50,645.02 189.00,644.61 187.50,644.20 186.00,643.80 184.50,643.39 183.00,642.99 181.50,642.59 180.00,642.19 178.50,641.79 177.00,641.39 175.50,640.99 174.00,640.60 172.50,640.21 171.00,639.82 169.50,639.43 168.00,639.04 166.50,638.65 165.00,638.26 163.50,637.88 162.00,637.49 160.50,637.11 159.00,636.73 157.50,636.34 156.00,635.96 154.50,635.58 153.00,635.21 151.50,634.83 150.00,634.45 148.50,634.08 147.00,633.70 145.50,633.33 144.00,632.95 142.50,632.58 141.00,632.21 139.50,631.83 138.00,631.46 136.50,631.09 135.00,630.72 133.50,630.35 132.00,629.98 130.50,629.61 129.00,629.24 127.50,628.88 126.00,628.51 124.50,628.14 123.00,627.77 121.50,627.41 120.00,627.04 118.50,626.67 117.00,626.31 115.50,625.94 114.00,625.57 112.50,625.20 111.00,624.84 109.50,624.47 108.00,624.10 106.50,623.74 105.00,623.37 103.50,623.00 102.00,622.63 100.50,622.27 99.00,621.90 97.50,621.53 96.00,621.16 94.50,620.79 93.00,620.42 91.50,620.05 90.00,619.68 88.50,619.31 87.00,618.94 85.50,618.56 84.00,618.19 82.50,617.82 81.00,617.44 79.50,617.07 78.00,616.69 76.50,616.31 75.00,615.93 73.50,615.56 72.00,615.18 70.50,614.79 69.00,614.41 67.50,614.03 66.00,613.65" fill="rgba(0,0,255,0.5)"/><polyline points="66.00,569.30 67.50,569.97 69.01,570.64 70.51,571.30 72.01,571.97 73.52,572.63 75.02,573.29 76.52,573.95 78.02,574.60 79.53,575.26 81.03,575.91 82.53,576.55 84.04,577.20 85.54,577.84 87.04,578.48 88.55,579.12 90.05,579.76 91.55,580.39 93.06,581.02 94.56,581.65 96.06,582.28 97.56,582.90 99.07,583.52 100.57,584.14 102.07,584.76 103.58,585.37 105.08,585.98 106.58,586.59 108.09,587.20 109.59,587.80 111.09,588.40 112.60,589.00 114.10,589.60 115.60,590.19 117.10,590.78 118.61,591.37 120.11,591.96 121.61,592.54 123.12,593.12 124.62,593.70 126.12,594.28 127.63,594.85 129.13,595.42 130.63,595.99 132.13,596.56 133.64,597.12 135.14,597.68 136.64,598.24 138.15,598.80 139.65,599.35 141.15,599.90 142.66,600.45 144.16,601.00 145.66,601.54 147.17,602.08 148.67,602.62 150.17,603.16 151.67,603.69 153.18,604.22 154.68,604.75 156.18,605.28 157.69,605.80 159.19,606.32 160.69,606.84 162.20,607.36 163.70,607.87 165.20,608.38 166.71,608.89 168.21,609.39 169.71,609.90 171.21,610.40 172.72,610.89 174.22,611.39 175.72,611.88 177.23,612.37 178.73,612.86 180.23,613.34 181.74,613.82 183.24,614.30 184.74,614.78 186.25,615.25 187.75,615.73 189.25,616.19 190.75,616.66 192.26,617.12 193.76,617.58 195.26,618.04 196.77,618.50 198.27,618.95 199.77,619.40 201.28,619.85 202.78,620.30 204.28,620.74 205.79,621.18 207.29,621.61 208.79,622.05 210.29,622.48 211.80,622.91 213.30,623.34 214.80,623.76 216.31,624.18 217.81,624.60 219.31,625.02 220.82,625.43 222.32,625.84 223.82,626.25 225.33,626.65 226.83,627.06 228.33,627.45 229.83,627.85 231.34,628.25 232.84,628.64 234.34,629.03 235.85,629.41 237.35,629.80 238.85,630.18 240.36,630.55 241.86,630.93 243.36,631.30 244.87,631.67 246.37,632.04 247.87,632.40 249.37,632.77 250.88,633.12 252.38,633.48 253.88,633.83 255.39,634.19 256.89,634.53 258.39,634.88 259.90,635.22 261.40,635.56 262.90,635.90 264.40,636.23 265.91,636.56 267.41,636.89 268.91,637.22 270.42,637.54 271.92,637.86 273.42,638.18 274.93,638.49 276.43,638.80 277.93,639.11 279.44,639.42 280.94,639.72 282.44,640.02 283.94,640.32 285.45,640.62 286.95,640.91 288.45,641.20 289.96,641.49 291.46,641.77 292.96,642.05 294.47,642.33 295.97,642.60 297.47,642.88 298.98,643.15 300.48,643.41 301.98,643.68 303.48,643.94 304.99,644.20 306.49,644.45 307.99,644.71 309.50,644.96 311.00,645.20" fill="none" stroke="rgb(152,137,0)" stroke-width="3" stroke-linejoin="round"/><polyline points="66.00,608.45 67.50,608.74 69.01,609.02 70.51,609.31 72.01,609.60 73.52,609.88 75.02,610.17 76.52,610.46 78.02,610.75 79.53,611.04 81.03,611.33 82.53,611.62 84.04,611.91 85.54,612.20 87.04,612.49 88.55,612.78 90.05,613.07 91.55,613.37 93.06,613.66 94.56,613.95 96.06,614.24 97.56,614.53 99.07,614.83 100.57,615.12 102.07,615.41 103.58,615.71 105.08,616.00 106.58,616.29 108.09,616.59 109.59,616.88 111.09,617.17 112.60,617.47 114.10,617.76 115.60,618.05 117.10,618.34 118.61,618.64 120.11,618.93 121.61,619.22 123.12,619.52 124.62,619.81 126.12,620.10 127.63,620.39 129.13,620.68 130.63,620.97 132.13,621.27 133.64,621.56 135.14,621.85 136.64,622.14 138.15,622.43 139.65,622.72 141.15,623.00 142.66,623.29 144.16,623.58 145.66,623.87 147.17,624.16 148.67,624.44 150.17,624.73 151.67,625.01 153.18,625.30 154.68,625.58 156.18,625.87 157.69,626.15 159.19,626.43 160.69,626.72 162.20,627.00 163.70,627.28 165.20,627.56 166.71,627.84 168.21,628.12 169.71,628.39 171.21,628.67 172.72,628.95 174.22,629.22 175.72,629.50 177.23,629.77 178.73,630.04 180.23,630.32 181.74,630.59 183.24,630.86 184.74,631.13 186.25,631.39 187.75,631.66 189.25,631.93 190.75,632.19 192.26,632.46 193.76,632.72 195.26,632.98 196.77,633.24 198.27,633.50 199.77,633.76 201.28,634.02 202.78,634.27 204.28,634.53 205.79,634.78 207.29,635.03 208.79,635.28 210.29,635.53 211.80,635.78 213.30,636.03 214.80,636.27 216.31,636.52 217.81,636.76 219.31,637.00 220.82,637.24 222.32,637.48 223.82,637.72 225.33,637.96 226.83,638.19 228.33,638.42 229.83,638.65 231.34,638.88 232.84,639.11 234.34,639.34 235.85,639.56 237.35,639.79 238.85,640.01 240.36,640.23 241.86,640.44 243.36,640.66 244.87,640.88 246.37,641.09 247.87,641.30 249.37,641.51 250.88,641.72 252.38,641.92 253.88,642.13 255.39,642.33 256.89,642.53 258.39,642.73 259.90,642.92 261.40,643.12 262.90,643.31 264.40,643.50 265.91,643.69 267.41,643.87 268.91,644.06 270.42,644.24 271.92,644.42 273.42,644.60 274.93,644.78 276.43,644.95 277.93,645.12 279.44,645.29 280.94,645.46 282.44,645.62 283.94,645.78 285.45,645.94 286.95,646.10 288.45,646.26 289.96,646.41 291.46,646.56 292.96,646.71 294.47,646.86 295.97,647.00 297.47,647.14 298.98,647.28 300.48,647.42 301.98,647.55 303.48,647.69 304.99,647.82 306.49,647.94 307.99,648.07 309.50,648.19 311.00,648.31" fill="none" stroke="rgb(0,0,255)" stroke-width="3.3" stroke-linejoin="round"/></g><g clip-path="url(#cR4R)"><polygon points="344.60,577.34 346.11,577.58 347.62,577.83 349.13,578.08 350.63,578.33 352.14,578.58 353.65,578.83 355.16,579.09 356.67,579.34 358.18,579.60 359.69,579.87 361.20,580.13 362.70,580.40 364.21,580.67 365.72,580.94 367.23,581.21 368.74,581.48 370.25,581.76 371.76,582.04 373.26,582.32 374.77,582.60 376.28,582.88 377.79,583.17 379.30,583.46 380.81,583.75 382.32,584.04 383.82,584.33 385.33,584.63 386.84,584.93 388.35,585.22 389.86,585.52 391.37,585.83 392.88,586.13 394.39,586.44 395.89,586.74 397.40,587.05 398.91,587.36 400.42,587.68 401.93,587.99 403.44,588.31 404.95,588.62 406.45,588.94 407.96,589.26 409.47,589.58 410.98,589.91 412.49,590.23 414.00,590.56 415.51,590.89 417.01,591.22 418.52,591.55 420.03,591.88 421.54,592.21 423.05,592.55 424.56,592.88 426.07,593.22 427.58,593.56 429.08,593.90 430.59,594.24 432.10,594.59 433.61,594.93 435.12,595.28 436.63,595.62 438.14,595.97 439.64,596.32 441.15,596.67 442.66,597.03 444.17,597.38 445.68,597.73 447.19,598.09 448.70,598.44 450.20,598.80 451.71,599.16 453.22,599.52 454.73,599.88 456.24,600.24 457.75,600.61 459.26,600.97 460.77,601.33 462.27,601.70 463.78,602.07 465.29,602.43 466.80,602.80 468.31,603.17 469.82,603.54 471.33,603.92 472.83,604.29 474.34,604.66 475.85,605.03 477.36,605.41 478.87,605.78 480.38,606.16 481.89,606.54 483.40,606.92 484.90,607.29 486.41,607.67 487.92,608.05 489.43,608.43 490.94,608.82 492.45,609.20 493.96,609.58 495.46,609.96 496.97,610.35 498.48,610.73 499.99,611.12 501.50,611.50 503.01,611.89 504.52,612.28 506.02,612.66 507.53,613.05 509.04,613.44 510.55,613.83 512.06,614.22 513.57,614.61 515.08,615.00 516.59,615.39 518.09,615.78 519.60,616.17 521.11,616.56 522.62,616.95 524.13,617.34 525.64,617.74 527.15,618.13 528.65,618.52 530.16,618.91 531.67,619.31 533.18,619.70 534.69,620.09 536.20,620.49 537.71,620.88 539.21,621.28 540.72,621.67 542.23,622.07 543.74,622.46 545.25,622.85 546.76,623.25 548.27,623.64 549.78,624.04 551.28,624.43 552.79,624.83 554.30,625.22 555.81,625.62 557.32,626.01 558.83,626.41 560.34,626.80 561.84,627.20 563.35,627.59 564.86,627.99 566.37,628.38 567.88,628.77 569.39,629.17 570.90,629.56 572.40,629.95 573.91,630.35 575.42,630.74 576.93,631.13 578.44,631.53 579.95,631.92 581.46,632.31 582.97,632.70 584.47,633.09 585.98,633.48 587.49,633.87 589.00,634.26 594.00,693.47 510.00,653.47 508.50,653.18 506.99,652.89 505.49,652.59 503.99,652.29 502.48,651.99 500.98,651.69 499.47,651.38 497.97,651.07 496.47,650.76 494.96,650.44 493.46,650.12 491.96,649.80 490.45,649.47 488.95,649.14 487.45,648.81 485.94,648.47 484.44,648.14 482.93,647.79 481.43,647.45 479.93,647.10 478.42,646.75 476.92,646.40 475.42,646.04 473.91,645.68 472.41,645.32 470.91,644.95 469.40,644.59 467.90,644.22 466.39,643.84 464.89,643.47 463.39,643.09 461.88,642.70 460.38,642.32 458.88,641.93 457.37,641.54 455.87,641.15 454.37,640.75 452.86,640.36 451.36,639.95 449.85,639.55 448.35,639.14 446.85,638.74 445.34,638.32 443.84,637.91 442.34,637.49 440.83,637.07 439.33,636.65 437.83,636.23 436.32,635.80 434.82,635.37 433.31,634.94 431.81,634.51 430.31,634.07 428.80,633.63 427.30,633.20 425.80,632.76 424.29,632.31 422.79,631.87 421.29,631.43 419.78,630.99 418.28,630.54 416.77,630.10 415.27,629.66 413.77,629.21 412.26,628.77 410.76,628.33 409.26,627.89 407.75,627.45 406.25,627.01 404.75,626.58 403.24,626.15 401.74,625.72 400.23,625.29 398.73,624.86 397.23,624.44 395.72,624.02 394.22,623.60 392.72,623.19 391.21,622.78 389.71,622.38 388.21,621.97 386.70,621.58 385.20,621.19 383.69,620.80 382.19,620.42 380.69,620.04 379.18,619.67 377.68,619.31 376.18,618.95 374.67,618.60 373.17,618.25 371.67,617.91 370.16,617.58 368.66,617.25 367.15,616.93 365.65,616.62 364.15,616.32 362.64,616.03 361.14,615.74 359.64,615.46 358.13,615.19 356.63,614.93 355.13,614.68 353.62,614.44 352.12,614.21 350.61,613.99 349.11,613.78 347.61,613.57 346.10,613.38 344.60,613.20" fill="rgba(251.9,219.6,82.7,0.65)"/><polygon points="344.60,551.31 346.11,551.38 347.62,551.44 349.13,551.51 350.63,551.57 352.14,551.63 353.65,551.69 355.16,551.76 356.67,551.82 358.18,551.88 359.69,551.94 361.20,552.00 362.70,552.06 364.21,552.12 365.72,552.18 367.23,552.24 368.74,552.30 370.25,552.36 371.76,552.42 373.26,552.48 374.77,552.54 376.28,552.59 377.79,552.65 379.30,552.71 380.81,552.77 382.32,552.82 383.82,552.88 385.33,552.94 386.84,552.99 388.35,553.05 389.86,553.10 391.37,553.16 392.88,553.21 394.39,553.27 395.89,553.33 397.40,553.38 398.91,553.44 400.42,553.49 401.93,553.54 403.44,553.60 404.95,553.65 406.45,553.71 407.96,553.76 409.47,553.82 410.98,553.87 412.49,553.93 414.00,553.98 415.51,554.03 417.01,554.09 418.52,554.14 420.03,554.20 421.54,554.25 423.05,554.30 424.56,554.36 426.07,554.41 427.58,554.47 429.08,554.52 430.59,554.58 432.10,554.63 433.61,554.68 435.12,554.74 436.63,554.79 438.14,554.85 439.64,554.90 441.15,554.96 442.66,555.01 444.17,555.07 445.68,555.12 447.19,555.18 448.70,555.24 450.20,555.29 451.71,555.35 453.22,555.41 454.73,555.46 456.24,555.52 457.75,555.58 459.26,555.63 460.77,555.69 462.27,555.75 463.78,555.81 465.29,555.87 466.80,555.93 468.31,555.99 469.82,556.04 471.33,556.10 472.83,556.16 474.34,556.23 475.85,556.29 477.36,556.35 478.87,556.41 480.38,556.47 481.89,556.53 483.40,556.60 484.90,556.66 486.41,556.72 487.92,556.79 489.43,556.85 490.94,556.92 492.45,556.98 493.96,557.05 495.46,557.11 496.97,557.18 498.48,557.25 499.99,557.32 501.50,557.38 503.01,557.45 504.52,557.52 506.02,557.59 507.53,557.66 509.04,557.73 510.55,557.81 512.06,557.88 513.57,557.95 515.08,558.02 516.59,558.10 518.09,558.17 519.60,558.25 521.11,558.32 522.62,558.40 524.13,558.48 525.64,558.56 527.15,558.63 528.65,558.71 530.16,558.79 531.67,558.87 533.18,558.96 534.69,559.04 536.20,559.12 537.71,559.20 539.21,559.29 540.72,559.37 542.23,559.46 543.74,559.55 545.25,559.63 546.76,559.72 548.27,559.81 549.78,559.90 551.28,559.99 552.79,560.08 554.30,560.17 555.81,560.27 557.32,560.36 558.83,560.46 560.34,560.55 561.84,560.65 563.35,560.75 564.86,560.84 566.37,560.94 567.88,561.04 569.39,561.14 570.90,561.25 572.40,561.35 573.91,561.45 575.42,561.56 576.93,561.67 578.44,561.77 579.95,561.88 581.46,561.99 582.97,562.10 584.47,562.21 585.98,562.32 587.49,562.44 589.00,562.55 589.00,578.93 587.49,578.86 585.98,578.78 584.47,578.71 582.97,578.64 581.46,578.56 579.95,578.49 578.44,578.42 576.93,578.34 575.42,578.27 573.91,578.20 572.40,578.13 570.90,578.05 569.39,577.98 567.88,577.91 566.37,577.84 564.86,577.77 563.35,577.70 561.84,577.63 560.34,577.56 558.83,577.49 557.32,577.42 555.81,577.35 554.30,577.28 552.79,577.21 551.28,577.14 549.78,577.07 548.27,577.00 546.76,576.94 545.25,576.87 543.74,576.80 542.23,576.73 540.72,576.67 539.21,576.60 537.71,576.54 536.20,576.47 534.69,576.41 533.18,576.34 531.67,576.28 530.16,576.21 528.65,576.15 527.15,576.09 525.64,576.03 524.13,575.96 522.62,575.90 521.11,575.84 519.60,575.78 518.09,575.72 516.59,575.66 515.08,575.60 513.57,575.55 512.06,575.49 510.55,575.43 509.04,575.37 507.53,575.32 506.02,575.26 504.52,575.21 503.01,575.15 501.50,575.10 499.99,575.04 498.48,574.99 496.97,574.94 495.46,574.89 493.96,574.84 492.45,574.79 490.94,574.74 489.43,574.69 487.92,574.64 486.41,574.59 484.90,574.55 483.40,574.50 481.89,574.45 480.38,574.41 478.87,574.36 477.36,574.32 475.85,574.28 474.34,574.24 472.83,574.19 471.33,574.15 469.82,574.11 468.31,574.07 466.80,574.04 465.29,574.00 463.78,573.96 462.27,573.93 460.77,573.89 459.26,573.86 457.75,573.82 456.24,573.79 454.73,573.76 453.22,573.73 451.71,573.70 450.20,573.67 448.70,573.64 447.19,573.61 445.68,573.58 444.17,573.56 442.66,573.53 441.15,573.51 439.64,573.49 438.14,573.46 436.63,573.44 435.12,573.42 433.61,573.40 432.10,573.38 430.59,573.37 429.08,573.35 427.58,573.34 426.07,573.32 424.56,573.31 423.05,573.30 421.54,573.28 420.03,573.27 418.52,573.26 417.01,573.26 415.51,573.25 414.00,573.24 412.49,573.24 410.98,573.23 409.47,573.23 407.96,573.23 406.45,573.23 404.95,573.23 403.44,573.23 401.93,573.23 400.42,573.24 398.91,573.24 397.40,573.25 395.89,573.25 394.39,573.26 392.88,573.27 391.37,573.28 389.86,573.30 388.35,573.31 386.84,573.32 385.33,573.34 383.82,573.35 382.32,573.37 380.81,573.39 379.30,573.41 377.79,573.43 376.28,573.46 374.77,573.48 373.26,573.51 371.76,573.53 370.25,573.56 368.74,573.59 367.23,573.62 365.72,573.66 364.21,573.69 362.70,573.72 361.20,573.76 359.69,573.80 358.18,573.84 356.67,573.88 355.16,573.92 353.65,573.96 352.14,574.01 350.63,574.05 349.13,574.10 347.62,574.15 346.11,574.20 344.60,574.25" fill="rgba(128,128,128,0.42)"/><polygon points="344.60,616.83 346.11,616.93 347.62,617.03 349.13,617.14 350.63,617.24 352.14,617.35 353.65,617.46 355.16,617.56 356.67,617.67 358.18,617.78 359.69,617.89 361.20,618.00 362.70,618.11 364.21,618.23 365.72,618.34 367.23,618.45 368.74,618.57 370.25,618.68 371.76,618.80 373.26,618.92 374.77,619.04 376.28,619.15 377.79,619.27 379.30,619.40 380.81,619.52 382.32,619.64 383.82,619.76 385.33,619.89 386.84,620.01 388.35,620.14 389.86,620.26 391.37,620.39 392.88,620.52 394.39,620.65 395.89,620.78 397.40,620.91 398.91,621.04 400.42,621.18 401.93,621.31 403.44,621.45 404.95,621.58 406.45,621.72 407.96,621.86 409.47,621.99 410.98,622.13 412.49,622.27 414.00,622.42 415.51,622.56 417.01,622.70 418.52,622.85 420.03,622.99 421.54,623.14 423.05,623.28 424.56,623.43 426.07,623.58 427.58,623.73 429.08,623.88 430.59,624.03 432.10,624.19 433.61,624.34 435.12,624.50 436.63,624.65 438.14,624.81 439.64,624.97 441.15,625.13 442.66,625.29 444.17,625.45 445.68,625.61 447.19,625.77 448.70,625.94 450.20,626.10 451.71,626.27 453.22,626.43 454.73,626.60 456.24,626.77 457.75,626.94 459.26,627.11 460.77,627.29 462.27,627.46 463.78,627.63 465.29,627.81 466.80,627.99 468.31,628.16 469.82,628.34 471.33,628.52 472.83,628.70 474.34,628.89 475.85,629.07 477.36,629.25 478.87,629.44 480.38,629.62 481.89,629.81 483.40,630.00 484.90,630.19 486.41,630.38 487.92,630.57 489.43,630.77 490.94,630.96 492.45,631.16 493.96,631.35 495.46,631.55 496.97,631.75 498.48,631.95 499.99,632.15 501.50,632.35 503.01,632.56 504.52,632.76 506.02,632.97 507.53,633.17 509.04,633.38 510.55,633.59 512.06,633.80 513.57,634.01 515.08,634.23 516.59,634.44 518.09,634.66 519.60,634.87 521.11,635.09 522.62,635.31 524.13,635.53 525.64,635.75 527.15,635.97 528.65,636.20 530.16,636.42 531.67,636.65 533.18,636.88 534.69,637.10 536.20,637.33 537.71,637.57 539.21,637.80 540.72,638.03 542.23,638.27 543.74,638.50 545.25,638.74 546.76,638.98 548.27,639.22 549.78,639.46 551.28,639.70 552.79,639.95 554.30,640.19 555.81,640.44 557.32,640.69 558.83,640.93 560.34,641.19 561.84,641.44 563.35,641.69 564.86,641.94 566.37,642.20 567.88,642.46 569.39,642.72 570.90,642.97 572.40,643.24 573.91,643.50 575.42,643.76 576.93,644.03 578.44,644.29 579.95,644.56 581.46,644.83 582.97,645.10 584.47,645.37 585.98,645.64 587.49,645.92 589.00,646.19 594.00,695.16 505.00,655.16 503.49,654.71 501.97,654.27 500.46,653.84 498.95,653.41 497.43,652.98 495.92,652.56 494.41,652.14 492.89,651.73 491.38,651.32 489.87,650.92 488.35,650.52 486.84,650.13 485.33,649.74 483.82,649.36 482.30,648.97 480.79,648.60 479.28,648.23 477.76,647.86 476.25,647.49 474.74,647.13 473.22,646.78 471.71,646.43 470.20,646.08 468.68,645.73 467.17,645.39 465.66,645.06 464.14,644.72 462.63,644.39 461.12,644.07 459.60,643.74 458.09,643.43 456.58,643.11 455.06,642.80 453.55,642.49 452.04,642.18 450.52,641.88 449.01,641.58 447.50,641.28 445.98,640.99 444.47,640.70 442.96,640.41 441.45,640.13 439.93,639.84 438.42,639.57 436.91,639.29 435.39,639.02 433.88,638.74 432.37,638.48 430.85,638.21 429.34,637.95 427.83,637.68 426.31,637.42 424.80,637.17 423.29,636.91 421.77,636.66 420.26,636.41 418.75,636.16 417.23,635.92 415.72,635.67 414.21,635.43 412.69,635.19 411.18,634.95 409.67,634.71 408.15,634.48 406.64,634.24 405.13,634.01 403.62,633.78 402.10,633.55 400.59,633.32 399.08,633.10 397.56,632.87 396.05,632.65 394.54,632.43 393.02,632.21 391.51,631.99 390.00,631.77 388.48,631.55 386.97,631.33 385.46,631.11 383.94,630.90 382.43,630.68 380.92,630.47 379.40,630.26 377.89,630.05 376.38,629.83 374.86,629.62 373.35,629.41 371.84,629.20 370.32,628.99 368.81,628.78 367.30,628.57 365.78,628.36 364.27,628.15 362.76,627.94 361.25,627.73 359.73,627.52 358.22,627.32 356.71,627.11 355.19,626.90 353.68,626.69 352.17,626.48 350.65,626.27 349.14,626.06 347.63,625.85 346.11,625.63 344.60,625.42" fill="rgba(0,0,255,0.5)"/><polyline points="344.60,594.89 346.11,595.21 347.62,595.53 349.13,595.85 350.63,596.17 352.14,596.50 353.65,596.83 355.16,597.16 356.67,597.49 358.18,597.82 359.69,598.16 361.20,598.50 362.70,598.84 364.21,599.18 365.72,599.53 367.23,599.87 368.74,600.22 370.25,600.57 371.76,600.92 373.26,601.27 374.77,601.63 376.28,601.98 377.79,602.34 379.30,602.70 380.81,603.06 382.32,603.42 383.82,603.78 385.33,604.15 386.84,604.51 388.35,604.88 389.86,605.24 391.37,605.61 392.88,605.98 394.39,606.35 395.89,606.72 397.40,607.09 398.91,607.47 400.42,607.84 401.93,608.22 403.44,608.59 404.95,608.97 406.45,609.34 407.96,609.72 409.47,610.10 410.98,610.47 412.49,610.85 414.00,611.23 415.51,611.61 417.01,611.99 418.52,612.37 420.03,612.75 421.54,613.13 423.05,613.51 424.56,613.89 426.07,614.27 427.58,614.65 429.08,615.03 430.59,615.41 432.10,615.79 433.61,616.17 435.12,616.55 436.63,616.93 438.14,617.30 439.64,617.68 441.15,618.06 442.66,618.44 444.17,618.81 445.68,619.19 447.19,619.57 448.70,619.94 450.20,620.31 451.71,620.69 453.22,621.06 454.73,621.43 456.24,621.80 457.75,622.17 459.26,622.54 460.77,622.91 462.27,623.28 463.78,623.64 465.29,624.01 466.80,624.37 468.31,624.73 469.82,625.10 471.33,625.45 472.83,625.81 474.34,626.17 475.85,626.53 477.36,626.88 478.87,627.23 480.38,627.58 481.89,627.93 483.40,628.28 484.90,628.62 486.41,628.97 487.92,629.31 489.43,629.65 490.94,629.99 492.45,630.33 493.96,630.66 495.46,630.99 496.97,631.32 498.48,631.65 499.99,631.98 501.50,632.30 503.01,632.62 504.52,632.94 506.02,633.26 507.53,633.57 509.04,633.88 510.55,634.19 512.06,634.50 513.57,634.80 515.08,635.11 516.59,635.40 518.09,635.70 519.60,635.99 521.11,636.28 522.62,636.57 524.13,636.86 525.64,637.14 527.15,637.42 528.65,637.69 530.16,637.97 531.67,638.24 533.18,638.50 534.69,638.77 536.20,639.03 537.71,639.28 539.21,639.54 540.72,639.79 542.23,640.03 543.74,640.27 545.25,640.51 546.76,640.75 548.27,640.98 549.78,641.21 551.28,641.44 552.79,641.66 554.30,641.87 555.81,642.09 557.32,642.30 558.83,642.50 560.34,642.70 561.84,642.90 563.35,643.10 564.86,643.28 566.37,643.47 567.88,643.65 569.39,643.83 570.90,644.00 572.40,644.17 573.91,644.33 575.42,644.49 576.93,644.65 578.44,644.80 579.95,644.94 581.46,645.08 582.97,645.22 584.47,645.35 585.98,645.48 587.49,645.60 589.00,645.72" fill="none" stroke="rgb(152,137,0)" stroke-width="3" stroke-linejoin="round"/><polyline points="344.60,621.40 346.11,621.51 347.62,621.62 349.13,621.74 350.63,621.85 352.14,621.97 353.65,622.09 355.16,622.22 356.67,622.35 358.18,622.48 359.69,622.61 361.20,622.74 362.70,622.88 364.21,623.02 365.72,623.17 367.23,623.31 368.74,623.46 370.25,623.61 371.76,623.76 373.26,623.91 374.77,624.07 376.28,624.23 377.79,624.39 379.30,624.55 380.81,624.71 382.32,624.88 383.82,625.05 385.33,625.22 386.84,625.39 388.35,625.57 389.86,625.74 391.37,625.92 392.88,626.10 394.39,626.28 395.89,626.46 397.40,626.64 398.91,626.83 400.42,627.02 401.93,627.21 403.44,627.40 404.95,627.59 406.45,627.78 407.96,627.97 409.47,628.17 410.98,628.36 412.49,628.56 414.00,628.76 415.51,628.96 417.01,629.16 418.52,629.36 420.03,629.56 421.54,629.77 423.05,629.97 424.56,630.18 426.07,630.38 427.58,630.59 429.08,630.80 430.59,631.01 432.10,631.22 433.61,631.42 435.12,631.63 436.63,631.85 438.14,632.06 439.64,632.27 441.15,632.48 442.66,632.69 444.17,632.90 445.68,633.12 447.19,633.33 448.70,633.54 450.20,633.76 451.71,633.97 453.22,634.18 454.73,634.40 456.24,634.61 457.75,634.82 459.26,635.04 460.77,635.25 462.27,635.46 463.78,635.68 465.29,635.89 466.80,636.10 468.31,636.31 469.82,636.53 471.33,636.74 472.83,636.95 474.34,637.16 475.85,637.37 477.36,637.58 478.87,637.78 480.38,637.99 481.89,638.20 483.40,638.41 484.90,638.61 486.41,638.82 487.92,639.02 489.43,639.22 490.94,639.43 492.45,639.63 493.96,639.83 495.46,640.03 496.97,640.22 498.48,640.42 499.99,640.62 501.50,640.81 503.01,641.01 504.52,641.20 506.02,641.39 507.53,641.58 509.04,641.76 510.55,641.95 512.06,642.14 513.57,642.32 515.08,642.50 516.59,642.68 518.09,642.86 519.60,643.04 521.11,643.21 522.62,643.38 524.13,643.55 525.64,643.72 527.15,643.89 528.65,644.06 530.16,644.22 531.67,644.38 533.18,644.54 534.69,644.70 536.20,644.85 537.71,645.01 539.21,645.16 540.72,645.31 542.23,645.45 543.74,645.60 545.25,645.74 546.76,645.88 548.27,646.01 549.78,646.15 551.28,646.28 552.79,646.41 554.30,646.53 555.81,646.66 557.32,646.78 558.83,646.90 560.34,647.01 561.84,647.12 563.35,647.23 564.86,647.34 566.37,647.44 567.88,647.54 569.39,647.64 570.90,647.74 572.40,647.83 573.91,647.92 575.42,648.00 576.93,648.08 578.44,648.16 579.95,648.24 581.46,648.31 582.97,648.38 584.47,648.44 585.98,648.50 587.49,648.56 589.00,648.62" fill="none" stroke="rgb(0,0,255)" stroke-width="3.3" stroke-linejoin="round"/></g><g clip-path="url(#cR5L)"><polygon points="66.00,687.95 67.50,688.42 69.01,688.89 70.51,689.36 72.01,689.84 73.52,690.33 75.02,690.82 76.52,691.31 78.02,691.81 79.53,692.32 81.03,692.83 82.53,693.34 84.04,693.85 85.54,694.37 87.04,694.90 88.55,695.43 90.05,695.96 91.55,696.50 93.06,697.04 94.56,697.58 96.06,698.13 97.56,698.69 99.07,699.24 100.57,699.80 102.07,700.36 103.58,700.93 105.08,701.50 106.58,702.07 108.09,702.65 109.59,703.23 111.09,703.81 112.60,704.40 114.10,704.99 115.60,705.58 117.10,706.18 118.61,706.78 120.11,707.38 121.61,707.98 123.12,708.59 124.62,709.20 126.12,709.81 127.63,710.42 129.13,711.04 130.63,711.66 132.13,712.28 133.64,712.90 135.14,713.53 136.64,714.16 138.15,714.79 139.65,715.42 141.15,716.06 142.66,716.69 144.16,717.33 145.66,717.97 147.17,718.61 148.67,719.26 150.17,719.90 151.67,720.55 153.18,721.20 154.68,721.85 156.18,722.50 157.69,723.15 159.19,723.81 160.69,724.46 162.20,725.12 163.70,725.78 165.20,726.44 166.71,727.10 168.21,727.76 169.71,728.42 171.21,729.08 172.72,729.75 174.22,730.41 175.72,731.07 177.23,731.74 178.73,732.41 180.23,733.07 181.74,733.74 183.24,734.40 184.74,735.07 186.25,735.74 187.75,736.41 189.25,737.08 190.75,737.74 192.26,738.41 193.76,739.08 195.26,739.75 196.77,740.41 198.27,741.08 199.77,741.75 201.28,742.41 202.78,743.08 204.28,743.75 205.79,744.41 207.29,745.08 208.79,745.74 210.29,746.40 211.80,747.07 213.30,747.73 214.80,748.39 216.31,749.05 217.81,749.71 219.31,750.36 220.82,751.02 222.32,751.68 223.82,752.33 225.33,752.98 226.83,753.63 228.33,754.28 229.83,754.93 231.34,755.58 232.84,756.22 234.34,756.87 235.85,757.51 237.35,758.15 238.85,758.79 240.36,759.42 241.86,760.06 243.36,760.69 244.87,761.32 246.37,761.95 247.87,762.58 249.37,763.20 250.88,763.82 252.38,764.44 253.88,765.06 255.39,765.67 256.89,766.28 258.39,766.89 259.90,767.50 261.40,768.10 262.90,768.70 264.40,769.30 265.91,769.89 267.41,770.49 268.91,771.08 270.42,771.66 271.92,772.24 273.42,772.82 274.93,773.40 276.43,773.97 277.93,774.54 279.44,775.11 280.94,775.67 282.44,776.23 283.94,776.79 285.45,777.34 286.95,777.89 288.45,778.43 289.96,778.97 291.46,779.51 292.96,780.04 294.47,780.57 295.97,781.09 297.47,781.61 298.98,782.13 300.48,782.64 301.98,783.15 303.48,783.65 304.99,784.15 306.49,784.64 307.99,785.13 309.50,785.62 311.00,786.10 316.00,854.71 246.00,814.71 244.50,814.44 243.00,814.17 241.50,813.89 240.00,813.61 238.50,813.32 237.00,813.04 235.50,812.74 234.00,812.45 232.50,812.15 231.00,811.85 229.50,811.54 228.00,811.23 226.50,810.91 225.00,810.59 223.50,810.27 222.00,809.94 220.50,809.61 219.00,809.27 217.50,808.93 216.00,808.58 214.50,808.23 213.00,807.88 211.50,807.52 210.00,807.15 208.50,806.78 207.00,806.40 205.50,806.02 204.00,805.64 202.50,805.25 201.00,804.85 199.50,804.45 198.00,804.04 196.50,803.63 195.00,803.21 193.50,802.79 192.00,802.36 190.50,801.93 189.00,801.49 187.50,801.04 186.00,800.59 184.50,800.13 183.00,799.67 181.50,799.20 180.00,798.72 178.50,798.24 177.00,797.75 175.50,797.25 174.00,796.75 172.50,796.24 171.00,795.72 169.50,795.20 168.00,794.67 166.50,794.14 165.00,793.59 163.50,793.04 162.00,792.49 160.50,791.92 159.00,791.35 157.50,790.77 156.00,790.19 154.50,789.59 153.00,788.99 151.50,788.39 150.00,787.77 148.50,787.15 147.00,786.52 145.50,785.88 144.00,785.23 142.50,784.58 141.00,783.92 139.50,783.25 138.00,782.57 136.50,781.88 135.00,781.19 133.50,780.49 132.00,779.78 130.50,779.06 129.00,778.34 127.50,777.61 126.00,776.88 124.50,776.14 123.00,775.39 121.50,774.64 120.00,773.88 118.50,773.11 117.00,772.34 115.50,771.56 114.00,770.78 112.50,770.00 111.00,769.21 109.50,768.41 108.00,767.61 106.50,766.80 105.00,766.00 103.50,765.18 102.00,764.37 100.50,763.55 99.00,762.72 97.50,761.90 96.00,761.07 94.50,760.23 93.00,759.40 91.50,758.56 90.00,757.72 88.50,756.88 87.00,756.03 85.50,755.18 84.00,754.33 82.50,753.48 81.00,752.63 79.50,751.78 78.00,750.92 76.50,750.07 75.00,749.21 73.50,748.36 72.00,747.50 70.50,746.64 69.00,745.78 67.50,744.93 66.00,744.07" fill="rgba(251.9,219.6,82.7,0.65)"/><polygon points="66.00,695.09 67.50,695.14 69.01,695.18 70.51,695.23 72.01,695.27 73.52,695.32 75.02,695.36 76.52,695.41 78.02,695.46 79.53,695.51 81.03,695.56 82.53,695.61 84.04,695.66 85.54,695.71 87.04,695.76 88.55,695.81 90.05,695.87 91.55,695.92 93.06,695.97 94.56,696.03 96.06,696.08 97.56,696.14 99.07,696.20 100.57,696.25 102.07,696.31 103.58,696.37 105.08,696.43 106.58,696.49 108.09,696.55 109.59,696.61 111.09,696.67 112.60,696.74 114.10,696.80 115.60,696.86 117.10,696.93 118.61,696.99 120.11,697.06 121.61,697.12 123.12,697.19 124.62,697.25 126.12,697.32 127.63,697.39 129.13,697.46 130.63,697.53 132.13,697.59 133.64,697.66 135.14,697.73 136.64,697.81 138.15,697.88 139.65,697.95 141.15,698.02 142.66,698.09 144.16,698.17 145.66,698.24 147.17,698.31 148.67,698.39 150.17,698.46 151.67,698.54 153.18,698.61 154.68,698.69 156.18,698.77 157.69,698.84 159.19,698.92 160.69,699.00 162.20,699.08 163.70,699.16 165.20,699.24 166.71,699.32 168.21,699.40 169.71,699.48 171.21,699.56 172.72,699.64 174.22,699.72 175.72,699.80 177.23,699.89 178.73,699.97 180.23,700.05 181.74,700.13 183.24,700.22 184.74,700.30 186.25,700.39 187.75,700.47 189.25,700.56 190.75,700.64 192.26,700.73 193.76,700.82 195.26,700.90 196.77,700.99 198.27,701.08 199.77,701.16 201.28,701.25 202.78,701.34 204.28,701.43 205.79,701.52 207.29,701.60 208.79,701.69 210.29,701.78 211.80,701.87 213.30,701.96 214.80,702.05 216.31,702.14 217.81,702.23 219.31,702.33 220.82,702.42 222.32,702.51 223.82,702.60 225.33,702.69 226.83,702.78 228.33,702.88 229.83,702.97 231.34,703.06 232.84,703.15 234.34,703.25 235.85,703.34 237.35,703.43 238.85,703.53 240.36,703.62 241.86,703.72 243.36,703.81 244.87,703.91 246.37,704.00 247.87,704.10 249.37,704.19 250.88,704.29 252.38,704.38 253.88,704.48 255.39,704.57 256.89,704.67 258.39,704.76 259.90,704.86 261.40,704.95 262.90,705.05 264.40,705.15 265.91,705.24 267.41,705.34 268.91,705.44 270.42,705.53 271.92,705.63 273.42,705.73 274.93,705.82 276.43,705.92 277.93,706.02 279.44,706.11 280.94,706.21 282.44,706.31 283.94,706.41 285.45,706.50 286.95,706.60 288.45,706.70 289.96,706.80 291.46,706.89 292.96,706.99 294.47,707.09 295.97,707.19 297.47,707.28 298.98,707.38 300.48,707.48 301.98,707.57 303.48,707.67 304.99,707.77 306.49,707.87 307.99,707.96 309.50,708.06 311.00,708.16 311.00,722.26 309.50,722.17 307.99,722.09 306.49,722.01 304.99,721.92 303.48,721.84 301.98,721.76 300.48,721.68 298.98,721.60 297.47,721.52 295.97,721.44 294.47,721.36 292.96,721.28 291.46,721.20 289.96,721.13 288.45,721.05 286.95,720.97 285.45,720.90 283.94,720.82 282.44,720.75 280.94,720.68 279.44,720.60 277.93,720.53 276.43,720.46 274.93,720.39 273.42,720.32 271.92,720.25 270.42,720.18 268.91,720.11 267.41,720.04 265.91,719.98 264.40,719.91 262.90,719.84 261.40,719.78 259.90,719.71 258.39,719.65 256.89,719.58 255.39,719.52 253.88,719.46 252.38,719.39 250.88,719.33 249.37,719.27 247.87,719.21 246.37,719.15 244.87,719.09 243.36,719.03 241.86,718.98 240.36,718.92 238.85,718.86 237.35,718.81 235.85,718.75 234.34,718.70 232.84,718.64 231.34,718.59 229.83,718.54 228.33,718.48 226.83,718.43 225.33,718.38 223.82,718.33 222.32,718.28 220.82,718.23 219.31,718.18 217.81,718.13 216.31,718.09 214.80,718.04 213.30,717.99 211.80,717.95 210.29,717.90 208.79,717.86 207.29,717.81 205.79,717.77 204.28,717.73 202.78,717.69 201.28,717.64 199.77,717.60 198.27,717.56 196.77,717.52 195.26,717.48 193.76,717.45 192.26,717.41 190.75,717.37 189.25,717.33 187.75,717.30 186.25,717.26 184.74,717.23 183.24,717.20 181.74,717.16 180.23,717.13 178.73,717.10 177.23,717.07 175.72,717.04 174.22,717.01 172.72,716.98 171.21,716.95 169.71,716.92 168.21,716.89 166.71,716.86 165.20,716.84 163.70,716.81 162.20,716.79 160.69,716.76 159.19,716.74 157.69,716.71 156.18,716.69 154.68,716.67 153.18,716.65 151.67,716.63 150.17,716.61 148.67,716.59 147.17,716.57 145.66,716.55 144.16,716.53 142.66,716.52 141.15,716.50 139.65,716.49 138.15,716.47 136.64,716.46 135.14,716.44 133.64,716.43 132.13,716.42 130.63,716.41 129.13,716.39 127.63,716.38 126.12,716.37 124.62,716.36 123.12,716.36 121.61,716.35 120.11,716.34 118.61,716.33 117.10,716.33 115.60,716.32 114.10,716.32 112.60,716.31 111.09,716.31 109.59,716.31 108.09,716.31 106.58,716.30 105.08,716.30 103.58,716.30 102.07,716.30 100.57,716.31 99.07,716.31 97.56,716.31 96.06,716.31 94.56,716.32 93.06,716.32 91.55,716.33 90.05,716.33 88.55,716.34 87.04,716.35 85.54,716.35 84.04,716.36 82.53,716.37 81.03,716.38 79.53,716.39 78.02,716.40 76.52,716.41 75.02,716.43 73.52,716.44 72.01,716.45 70.51,716.47 69.01,716.48 67.50,716.50 66.00,716.51" fill="rgba(128,128,128,0.42)"/><polygon points="66.00,747.81 67.50,748.13 69.01,748.45 70.51,748.76 72.01,749.08 73.52,749.40 75.02,749.71 76.52,750.02 78.02,750.34 79.53,750.65 81.03,750.96 82.53,751.28 84.04,751.59 85.54,751.90 87.04,752.21 88.55,752.52 90.05,752.83 91.55,753.14 93.06,753.45 94.56,753.76 96.06,754.07 97.56,754.37 99.07,754.68 100.57,754.99 102.07,755.30 103.58,755.60 105.08,755.91 106.58,756.22 108.09,756.52 109.59,756.83 111.09,757.13 112.60,757.44 114.10,757.74 115.60,758.05 117.10,758.35 118.61,758.66 120.11,758.96 121.61,759.27 123.12,759.57 124.62,759.88 126.12,760.18 127.63,760.49 129.13,760.79 130.63,761.10 132.13,761.40 133.64,761.71 135.14,762.01 136.64,762.32 138.15,762.62 139.65,762.93 141.15,763.23 142.66,763.54 144.16,763.84 145.66,764.15 147.17,764.46 148.67,764.76 150.17,765.07 151.67,765.38 153.18,765.69 154.68,765.99 156.18,766.30 157.69,766.61 159.19,766.92 160.69,767.23 162.20,767.54 163.70,767.85 165.20,768.16 166.71,768.47 168.21,768.78 169.71,769.09 171.21,769.41 172.72,769.72 174.22,770.03 175.72,770.35 177.23,770.66 178.73,770.98 180.23,771.29 181.74,771.61 183.24,771.93 184.74,772.25 186.25,772.56 187.75,772.88 189.25,773.20 190.75,773.52 192.26,773.85 193.76,774.17 195.26,774.49 196.77,774.82 198.27,775.14 199.77,775.47 201.28,775.79 202.78,776.12 204.28,776.45 205.79,776.78 207.29,777.11 208.79,777.44 210.29,777.77 211.80,778.11 213.30,778.44 214.80,778.78 216.31,779.11 217.81,779.45 219.31,779.79 220.82,780.13 222.32,780.47 223.82,780.81 225.33,781.16 226.83,781.50 228.33,781.85 229.83,782.19 231.34,782.54 232.84,782.89 234.34,783.24 235.85,783.59 237.35,783.95 238.85,784.30 240.36,784.66 241.86,785.01 243.36,785.37 244.87,785.73 246.37,786.09 247.87,786.46 249.37,786.82 250.88,787.19 252.38,787.55 253.88,787.92 255.39,788.29 256.89,788.66 258.39,789.04 259.90,789.41 261.40,789.79 262.90,790.17 264.40,790.55 265.91,790.93 267.41,791.31 268.91,791.70 270.42,792.08 271.92,792.47 273.42,792.86 274.93,793.25 276.43,793.65 277.93,794.04 279.44,794.44 280.94,794.84 282.44,795.24 283.94,795.64 285.45,796.04 286.95,796.45 288.45,796.86 289.96,797.27 291.46,797.68 292.96,798.10 294.47,798.51 295.97,798.93 297.47,799.35 298.98,799.77 300.48,800.20 301.98,800.62 303.48,801.05 304.99,801.48 306.49,801.91 307.99,802.35 309.50,802.79 311.00,803.22 316.00,852.94 225.00,812.94 223.50,812.50 222.00,812.07 220.50,811.63 219.00,811.19 217.50,810.75 216.00,810.31 214.50,809.86 213.00,809.42 211.50,808.97 210.00,808.52 208.50,808.07 207.00,807.62 205.50,807.17 204.00,806.72 202.50,806.26 201.00,805.81 199.50,805.35 198.00,804.90 196.50,804.44 195.00,803.98 193.50,803.52 192.00,803.05 190.50,802.59 189.00,802.13 187.50,801.66 186.00,801.20 184.50,800.73 183.00,800.26 181.50,799.80 180.00,799.33 178.50,798.86 177.00,798.39 175.50,797.92 174.00,797.45 172.50,796.98 171.00,796.50 169.50,796.03 168.00,795.56 166.50,795.08 165.00,794.61 163.50,794.13 162.00,793.66 160.50,793.18 159.00,792.70 157.50,792.23 156.00,791.75 154.50,791.27 153.00,790.80 151.50,790.32 150.00,789.84 148.50,789.36 147.00,788.89 145.50,788.41 144.00,787.93 142.50,787.45 141.00,786.97 139.50,786.49 138.00,786.02 136.50,785.54 135.00,785.06 133.50,784.58 132.00,784.10 130.50,783.63 129.00,783.15 127.50,782.67 126.00,782.19 124.50,781.72 123.00,781.24 121.50,780.77 120.00,780.29 118.50,779.81 117.00,779.34 115.50,778.87 114.00,778.39 112.50,777.92 111.00,777.45 109.50,776.97 108.00,776.50 106.50,776.03 105.00,775.56 103.50,775.09 102.00,774.62 100.50,774.15 99.00,773.69 97.50,773.22 96.00,772.75 94.50,772.29 93.00,771.83 91.50,771.36 90.00,770.90 88.50,770.44 87.00,769.98 85.50,769.52 84.00,769.06 82.50,768.61 81.00,768.15 79.50,767.70 78.00,767.24 76.50,766.79 75.00,766.34 73.50,765.89 72.00,765.44 70.50,764.99 69.00,764.55 67.50,764.10 66.00,763.66" fill="rgba(0,0,255,0.5)"/><polyline points="66.00,709.55 67.50,710.44 69.01,711.34 70.51,712.22 72.01,713.10 73.52,713.98 75.02,714.86 76.52,715.73 78.02,716.59 79.53,717.45 81.03,718.31 82.53,719.17 84.04,720.02 85.54,720.86 87.04,721.71 88.55,722.54 90.05,723.38 91.55,724.21 93.06,725.04 94.56,725.86 96.06,726.68 97.56,727.49 99.07,728.30 100.57,729.11 102.07,729.91 103.58,730.71 105.08,731.50 106.58,732.29 108.09,733.08 109.59,733.86 111.09,734.64 112.60,735.41 114.10,736.19 115.60,736.95 117.10,737.71 118.61,738.47 120.11,739.23 121.61,739.98 123.12,740.72 124.62,741.47 126.12,742.21 127.63,742.94 129.13,743.67 130.63,744.40 132.13,745.12 133.64,745.84 135.14,746.55 136.64,747.26 138.15,747.97 139.65,748.67 141.15,749.37 142.66,750.07 144.16,750.76 145.66,751.44 147.17,752.13 148.67,752.81 150.17,753.48 151.67,754.15 153.18,754.82 154.68,755.48 156.18,756.14 157.69,756.80 159.19,757.45 160.69,758.09 162.20,758.74 163.70,759.37 165.20,760.01 166.71,760.64 168.21,761.27 169.71,761.89 171.21,762.51 172.72,763.13 174.22,763.74 175.72,764.34 177.23,764.95 178.73,765.55 180.23,766.14 181.74,766.73 183.24,767.32 184.74,767.90 186.25,768.48 187.75,769.06 189.25,769.63 190.75,770.20 192.26,770.76 193.76,771.32 195.26,771.88 196.77,772.43 198.27,772.97 199.77,773.52 201.28,774.06 202.78,774.59 204.28,775.12 205.79,775.65 207.29,776.18 208.79,776.70 210.29,777.21 211.80,777.72 213.30,778.23 214.80,778.73 216.31,779.23 217.81,779.73 219.31,780.22 220.82,780.71 222.32,781.19 223.82,781.67 225.33,782.15 226.83,782.62 228.33,783.09 229.83,783.55 231.34,784.01 232.84,784.47 234.34,784.92 235.85,785.37 237.35,785.82 238.85,786.26 240.36,786.69 241.86,787.12 243.36,787.55 244.87,787.98 246.37,788.40 247.87,788.81 249.37,789.23 250.88,789.64 252.38,790.04 253.88,790.44 255.39,790.84 256.89,791.23 258.39,791.62 259.90,792.00 261.40,792.39 262.90,792.76 264.40,793.13 265.91,793.50 267.41,793.87 268.91,794.23 270.42,794.59 271.92,794.94 273.42,795.29 274.93,795.63 276.43,795.98 277.93,796.31 279.44,796.65 280.94,796.98 282.44,797.30 283.94,797.62 285.45,797.94 286.95,798.25 288.45,798.56 289.96,798.87 291.46,799.17 292.96,799.47 294.47,799.76 295.97,800.05 297.47,800.34 298.98,800.62 300.48,800.90 301.98,801.17 303.48,801.44 304.99,801.71 306.49,801.97 307.99,802.23 309.50,802.48 311.00,802.73" fill="none" stroke="rgb(152,137,0)" stroke-width="3" stroke-linejoin="round"/><polyline points="66.00,756.25 67.50,756.61 69.01,756.97 70.51,757.33 72.01,757.69 73.52,758.06 75.02,758.42 76.52,758.79 78.02,759.16 79.53,759.53 81.03,759.90 82.53,760.27 84.04,760.64 85.54,761.02 87.04,761.39 88.55,761.77 90.05,762.15 91.55,762.52 93.06,762.90 94.56,763.28 96.06,763.66 97.56,764.04 99.07,764.43 100.57,764.81 102.07,765.19 103.58,765.58 105.08,765.96 106.58,766.35 108.09,766.73 109.59,767.12 111.09,767.50 112.60,767.89 114.10,768.28 115.60,768.66 117.10,769.05 118.61,769.44 120.11,769.83 121.61,770.21 123.12,770.60 124.62,770.99 126.12,771.38 127.63,771.77 129.13,772.15 130.63,772.54 132.13,772.93 133.64,773.32 135.14,773.70 136.64,774.09 138.15,774.48 139.65,774.86 141.15,775.25 142.66,775.64 144.16,776.02 145.66,776.41 147.17,776.79 148.67,777.17 150.17,777.56 151.67,777.94 153.18,778.32 154.68,778.70 156.18,779.08 157.69,779.46 159.19,779.84 160.69,780.22 162.20,780.59 163.70,780.97 165.20,781.34 166.71,781.72 168.21,782.09 169.71,782.46 171.21,782.83 172.72,783.20 174.22,783.57 175.72,783.94 177.23,784.30 178.73,784.66 180.23,785.03 181.74,785.39 183.24,785.75 184.74,786.11 186.25,786.46 187.75,786.82 189.25,787.17 190.75,787.52 192.26,787.87 193.76,788.22 195.26,788.57 196.77,788.91 198.27,789.25 199.77,789.60 201.28,789.93 202.78,790.27 204.28,790.61 205.79,790.94 207.29,791.27 208.79,791.60 210.29,791.93 211.80,792.25 213.30,792.57 214.80,792.89 216.31,793.21 217.81,793.53 219.31,793.84 220.82,794.15 222.32,794.46 223.82,794.76 225.33,795.06 226.83,795.36 228.33,795.66 229.83,795.96 231.34,796.25 232.84,796.54 234.34,796.83 235.85,797.11 237.35,797.39 238.85,797.67 240.36,797.94 241.86,798.22 243.36,798.48 244.87,798.75 246.37,799.01 247.87,799.27 249.37,799.53 250.88,799.78 252.38,800.03 253.88,800.28 255.39,800.52 256.89,800.76 258.39,801.00 259.90,801.23 261.40,801.46 262.90,801.69 264.40,801.91 265.91,802.13 267.41,802.35 268.91,802.56 270.42,802.77 271.92,802.97 273.42,803.17 274.93,803.37 276.43,803.56 277.93,803.75 279.44,803.94 280.94,804.12 282.44,804.29 283.94,804.47 285.45,804.64 286.95,804.80 288.45,804.96 289.96,805.12 291.46,805.27 292.96,805.42 294.47,805.56 295.97,805.70 297.47,805.83 298.98,805.96 300.48,806.09 301.98,806.21 303.48,806.33 304.99,806.44 306.49,806.54 307.99,806.65 309.50,806.74 311.00,806.84" fill="none" stroke="rgb(0,0,255)" stroke-width="3.3" stroke-linejoin="round"/></g><g clip-path="url(#cR5R)"><polygon points="344.60,719.73 346.11,720.10 347.62,720.46 349.13,720.83 350.63,721.20 352.14,721.57 353.65,721.94 355.16,722.32 356.67,722.69 358.18,723.07 359.69,723.44 361.20,723.82 362.70,724.20 364.21,724.58 365.72,724.96 367.23,725.35 368.74,725.73 370.25,726.12 371.76,726.51 373.26,726.89 374.77,727.28 376.28,727.67 377.79,728.06 379.30,728.46 380.81,728.85 382.32,729.25 383.82,729.64 385.33,730.04 386.84,730.44 388.35,730.84 389.86,731.24 391.37,731.64 392.88,732.04 394.39,732.45 395.89,732.85 397.40,733.26 398.91,733.66 400.42,734.07 401.93,734.48 403.44,734.89 404.95,735.30 406.45,735.71 407.96,736.12 409.47,736.54 410.98,736.95 412.49,737.36 414.00,737.78 415.51,738.20 417.01,738.61 418.52,739.03 420.03,739.45 421.54,739.87 423.05,740.29 424.56,740.72 426.07,741.14 427.58,741.56 429.08,741.99 430.59,742.41 432.10,742.84 433.61,743.26 435.12,743.69 436.63,744.12 438.14,744.55 439.64,744.98 441.15,745.41 442.66,745.84 444.17,746.27 445.68,746.70 447.19,747.13 448.70,747.57 450.20,748.00 451.71,748.44 453.22,748.87 454.73,749.31 456.24,749.74 457.75,750.18 459.26,750.62 460.77,751.06 462.27,751.49 463.78,751.93 465.29,752.37 466.80,752.81 468.31,753.25 469.82,753.69 471.33,754.14 472.83,754.58 474.34,755.02 475.85,755.46 477.36,755.91 478.87,756.35 480.38,756.80 481.89,757.24 483.40,757.69 484.90,758.13 486.41,758.58 487.92,759.02 489.43,759.47 490.94,759.92 492.45,760.36 493.96,760.81 495.46,761.26 496.97,761.71 498.48,762.15 499.99,762.60 501.50,763.05 503.01,763.50 504.52,763.95 506.02,764.40 507.53,764.85 509.04,765.30 510.55,765.75 512.06,766.20 513.57,766.65 515.08,767.10 516.59,767.55 518.09,768.00 519.60,768.45 521.11,768.90 522.62,769.35 524.13,769.81 525.64,770.26 527.15,770.71 528.65,771.16 530.16,771.61 531.67,772.06 533.18,772.51 534.69,772.97 536.20,773.42 537.71,773.87 539.21,774.32 540.72,774.77 542.23,775.22 543.74,775.68 545.25,776.13 546.76,776.58 548.27,777.03 549.78,777.48 551.28,777.93 552.79,778.38 554.30,778.83 555.81,779.28 557.32,779.74 558.83,780.19 560.34,780.64 561.84,781.09 563.35,781.54 564.86,781.99 566.37,782.43 567.88,782.88 569.39,783.33 570.90,783.78 572.40,784.23 573.91,784.68 575.42,785.13 576.93,785.57 578.44,786.02 579.95,786.47 581.46,786.91 582.97,787.36 584.47,787.81 585.98,788.25 587.49,788.70 589.00,789.14 594.00,853.02 510.00,813.02 508.50,812.57 506.99,812.12 505.49,811.68 503.99,811.25 502.48,810.83 500.98,810.42 499.47,810.01 497.97,809.61 496.47,809.21 494.96,808.82 493.46,808.43 491.96,808.05 490.45,807.68 488.95,807.30 487.45,806.94 485.94,806.57 484.44,806.21 482.93,805.85 481.43,805.49 479.93,805.14 478.42,804.78 476.92,804.43 475.42,804.08 473.91,803.72 472.41,803.37 470.91,803.02 469.40,802.67 467.90,802.31 466.39,801.96 464.89,801.60 463.39,801.24 461.88,800.87 460.38,800.51 458.88,800.14 457.37,799.77 455.87,799.39 454.37,799.01 452.86,798.62 451.36,798.23 449.85,797.83 448.35,797.43 446.85,797.02 445.34,796.60 443.84,796.18 442.34,795.74 440.83,795.30 439.33,794.86 437.83,794.40 436.32,793.93 434.82,793.46 433.31,792.97 431.81,792.48 430.31,791.97 428.80,791.46 427.30,790.93 425.80,790.39 424.29,789.84 422.79,789.27 421.29,788.70 419.78,788.11 418.28,787.51 416.77,786.89 415.27,786.27 413.77,785.65 412.26,785.02 410.76,784.40 409.26,783.78 407.75,783.17 406.25,782.57 404.75,781.99 403.24,781.41 401.74,780.86 400.23,780.32 398.73,779.79 397.23,779.28 395.72,778.79 394.22,778.30 392.72,777.83 391.21,777.37 389.71,776.93 388.21,776.49 386.70,776.07 385.20,775.66 383.69,775.26 382.19,774.86 380.69,774.48 379.18,774.11 377.68,773.74 376.18,773.39 374.67,773.04 373.17,772.69 371.67,772.35 370.16,772.02 368.66,771.68 367.15,771.34 365.65,770.99 364.15,770.64 362.64,770.27 361.14,769.89 359.64,769.49 358.13,769.08 356.63,768.65 355.13,768.19 353.62,767.70 352.12,767.19 350.61,766.64 349.11,766.06 347.61,765.45 346.10,764.79 344.60,764.09" fill="rgba(251.9,219.6,82.7,0.65)"/><polygon points="344.60,697.13 346.11,697.17 347.62,697.22 349.13,697.26 350.63,697.31 352.14,697.35 353.65,697.40 355.16,697.44 356.67,697.49 358.18,697.54 359.69,697.59 361.20,697.63 362.70,697.68 364.21,697.73 365.72,697.78 367.23,697.83 368.74,697.88 370.25,697.94 371.76,697.99 373.26,698.04 374.77,698.09 376.28,698.15 377.79,698.20 379.30,698.25 380.81,698.31 382.32,698.36 383.82,698.42 385.33,698.48 386.84,698.53 388.35,698.59 389.86,698.65 391.37,698.71 392.88,698.76 394.39,698.82 395.89,698.88 397.40,698.94 398.91,699.00 400.42,699.06 401.93,699.12 403.44,699.19 404.95,699.25 406.45,699.31 407.96,699.37 409.47,699.44 410.98,699.50 412.49,699.57 414.00,699.63 415.51,699.70 417.01,699.76 418.52,699.83 420.03,699.89 421.54,699.96 423.05,700.03 424.56,700.10 426.07,700.17 427.58,700.23 429.08,700.30 430.59,700.37 432.10,700.44 433.61,700.51 435.12,700.58 436.63,700.65 438.14,700.73 439.64,700.80 441.15,700.87 442.66,700.94 444.17,701.02 445.68,701.09 447.19,701.16 448.70,701.24 450.20,701.31 451.71,701.39 453.22,701.46 454.73,701.54 456.24,701.62 457.75,701.69 459.26,701.77 460.77,701.85 462.27,701.92 463.78,702.00 465.29,702.08 466.80,702.16 468.31,702.24 469.82,702.32 471.33,702.40 472.83,702.48 474.34,702.56 475.85,702.64 477.36,702.72 478.87,702.80 480.38,702.88 481.89,702.97 483.40,703.05 484.90,703.13 486.41,703.22 487.92,703.30 489.43,703.38 490.94,703.47 492.45,703.55 493.96,703.64 495.46,703.72 496.97,703.81 498.48,703.89 499.99,703.98 501.50,704.07 503.01,704.15 504.52,704.24 506.02,704.33 507.53,704.42 509.04,704.51 510.55,704.59 512.06,704.68 513.57,704.77 515.08,704.86 516.59,704.95 518.09,705.04 519.60,705.13 521.11,705.22 522.62,705.31 524.13,705.40 525.64,705.50 527.15,705.59 528.65,705.68 530.16,705.77 531.67,705.86 533.18,705.96 534.69,706.05 536.20,706.14 537.71,706.24 539.21,706.33 540.72,706.43 542.23,706.52 543.74,706.61 545.25,706.71 546.76,706.81 548.27,706.90 549.78,707.00 551.28,707.09 552.79,707.19 554.30,707.29 555.81,707.38 557.32,707.48 558.83,707.58 560.34,707.67 561.84,707.77 563.35,707.87 564.86,707.97 566.37,708.07 567.88,708.16 569.39,708.26 570.90,708.36 572.40,708.46 573.91,708.56 575.42,708.66 576.93,708.76 578.44,708.86 579.95,708.96 581.46,709.06 582.97,709.16 584.47,709.26 585.98,709.37 587.49,709.47 589.00,709.57 589.00,723.77 587.49,723.70 585.98,723.64 584.47,723.57 582.97,723.51 581.46,723.44 579.95,723.38 578.44,723.32 576.93,723.25 575.42,723.19 573.91,723.12 572.40,723.06 570.90,722.99 569.39,722.93 567.88,722.86 566.37,722.80 564.86,722.73 563.35,722.67 561.84,722.61 560.34,722.54 558.83,722.48 557.32,722.41 555.81,722.35 554.30,722.28 552.79,722.22 551.28,722.16 549.78,722.09 548.27,722.03 546.76,721.96 545.25,721.90 543.74,721.84 542.23,721.77 540.72,721.71 539.21,721.65 537.71,721.58 536.20,721.52 534.69,721.46 533.18,721.39 531.67,721.33 530.16,721.27 528.65,721.21 527.15,721.15 525.64,721.08 524.13,721.02 522.62,720.96 521.11,720.90 519.60,720.84 518.09,720.78 516.59,720.72 515.08,720.66 513.57,720.60 512.06,720.54 510.55,720.48 509.04,720.42 507.53,720.36 506.02,720.31 504.52,720.25 503.01,720.19 501.50,720.13 499.99,720.08 498.48,720.02 496.97,719.96 495.46,719.91 493.96,719.85 492.45,719.80 490.94,719.74 489.43,719.69 487.92,719.63 486.41,719.58 484.90,719.53 483.40,719.47 481.89,719.42 480.38,719.37 478.87,719.32 477.36,719.27 475.85,719.22 474.34,719.17 472.83,719.12 471.33,719.07 469.82,719.02 468.31,718.97 466.80,718.92 465.29,718.87 463.78,718.83 462.27,718.78 460.77,718.74 459.26,718.69 457.75,718.65 456.24,718.60 454.73,718.56 453.22,718.51 451.71,718.47 450.20,718.43 448.70,718.39 447.19,718.35 445.68,718.31 444.17,718.27 442.66,718.23 441.15,718.19 439.64,718.15 438.14,718.12 436.63,718.08 435.12,718.04 433.61,718.01 432.10,717.97 430.59,717.94 429.08,717.91 427.58,717.88 426.07,717.84 424.56,717.81 423.05,717.78 421.54,717.75 420.03,717.72 418.52,717.69 417.01,717.67 415.51,717.64 414.00,717.61 412.49,717.59 410.98,717.56 409.47,717.54 407.96,717.52 406.45,717.50 404.95,717.47 403.44,717.45 401.93,717.43 400.42,717.42 398.91,717.40 397.40,717.38 395.89,717.36 394.39,717.35 392.88,717.33 391.37,717.32 389.86,717.31 388.35,717.29 386.84,717.28 385.33,717.27 383.82,717.26 382.32,717.25 380.81,717.25 379.30,717.24 377.79,717.23 376.28,717.23 374.77,717.22 373.26,717.22 371.76,717.22 370.25,717.22 368.74,717.22 367.23,717.22 365.72,717.22 364.21,717.22 362.70,717.23 361.20,717.23 359.69,717.24 358.18,717.24 356.67,717.25 355.16,717.26 353.65,717.27 352.14,717.28 350.63,717.29 349.13,717.31 347.62,717.32 346.11,717.33 344.60,717.35" fill="rgba(128,128,128,0.42)"/><polygon points="344.60,768.34 346.11,768.46 347.62,768.59 349.13,768.72 350.63,768.85 352.14,768.98 353.65,769.11 355.16,769.25 356.67,769.38 358.18,769.51 359.69,769.65 361.20,769.78 362.70,769.92 364.21,770.05 365.72,770.19 367.23,770.33 368.74,770.47 370.25,770.61 371.76,770.75 373.26,770.89 374.77,771.03 376.28,771.17 377.79,771.32 379.30,771.46 380.81,771.61 382.32,771.75 383.82,771.90 385.33,772.05 386.84,772.19 388.35,772.34 389.86,772.49 391.37,772.65 392.88,772.80 394.39,772.95 395.89,773.11 397.40,773.26 398.91,773.42 400.42,773.57 401.93,773.73 403.44,773.89 404.95,774.05 406.45,774.21 407.96,774.37 409.47,774.54 410.98,774.70 412.49,774.87 414.00,775.03 415.51,775.20 417.01,775.37 418.52,775.54 420.03,775.71 421.54,775.88 423.05,776.05 424.56,776.22 426.07,776.40 427.58,776.58 429.08,776.75 430.59,776.93 432.10,777.11 433.61,777.29 435.12,777.47 436.63,777.66 438.14,777.84 439.64,778.03 441.15,778.21 442.66,778.40 444.17,778.59 445.68,778.78 447.19,778.97 448.70,779.17 450.20,779.36 451.71,779.56 453.22,779.75 454.73,779.95 456.24,780.15 457.75,780.35 459.26,780.55 460.77,780.76 462.27,780.96 463.78,781.17 465.29,781.38 466.80,781.59 468.31,781.80 469.82,782.01 471.33,782.22 472.83,782.44 474.34,782.65 475.85,782.87 477.36,783.09 478.87,783.31 480.38,783.53 481.89,783.76 483.40,783.98 484.90,784.21 486.41,784.44 487.92,784.67 489.43,784.90 490.94,785.13 492.45,785.37 493.96,785.60 495.46,785.84 496.97,786.08 498.48,786.32 499.99,786.56 501.50,786.81 503.01,787.05 504.52,787.30 506.02,787.55 507.53,787.80 509.04,788.05 510.55,788.31 512.06,788.56 513.57,788.82 515.08,789.08 516.59,789.34 518.09,789.60 519.60,789.87 521.11,790.13 522.62,790.40 524.13,790.67 525.64,790.94 527.15,791.21 528.65,791.49 530.16,791.77 531.67,792.04 533.18,792.33 534.69,792.61 536.20,792.89 537.71,793.18 539.21,793.47 540.72,793.75 542.23,794.05 543.74,794.34 545.25,794.64 546.76,794.93 548.27,795.23 549.78,795.53 551.28,795.84 552.79,796.14 554.30,796.45 555.81,796.76 557.32,797.07 558.83,797.38 560.34,797.70 561.84,798.01 563.35,798.33 564.86,798.65 566.37,798.97 567.88,799.30 569.39,799.63 570.90,799.96 572.40,800.29 573.91,800.62 575.42,800.96 576.93,801.29 578.44,801.63 579.95,801.98 581.46,802.32 582.97,802.67 584.47,803.01 585.98,803.36 587.49,803.72 589.00,804.07 594.00,853.15 505.00,813.15 503.49,812.74 501.97,812.32 500.46,811.91 498.95,811.49 497.43,811.08 495.92,810.67 494.41,810.27 492.89,809.86 491.38,809.45 489.87,809.05 488.35,808.65 486.84,808.24 485.33,807.84 483.82,807.45 482.30,807.05 480.79,806.65 479.28,806.26 477.76,805.87 476.25,805.48 474.74,805.09 473.22,804.70 471.71,804.31 470.20,803.92 468.68,803.54 467.17,803.16 465.66,802.78 464.14,802.40 462.63,802.02 461.12,801.64 459.60,801.27 458.09,800.89 456.58,800.52 455.06,800.15 453.55,799.78 452.04,799.42 450.52,799.05 449.01,798.69 447.50,798.32 445.98,797.96 444.47,797.60 442.96,797.25 441.45,796.89 439.93,796.54 438.42,796.18 436.91,795.83 435.39,795.48 433.88,795.14 432.37,794.79 430.85,794.45 429.34,794.10 427.83,793.76 426.31,793.42 424.80,793.08 423.29,792.75 421.77,792.41 420.26,792.08 418.75,791.75 417.23,791.42 415.72,791.10 414.21,790.77 412.69,790.45 411.18,790.12 409.67,789.80 408.15,789.49 406.64,789.17 405.13,788.85 403.62,788.54 402.10,788.23 400.59,787.92 399.08,787.61 397.56,787.31 396.05,787.00 394.54,786.70 393.02,786.40 391.51,786.10 390.00,785.81 388.48,785.51 386.97,785.22 385.46,784.93 383.94,784.64 382.43,784.35 380.92,784.07 379.40,783.79 377.89,783.50 376.38,783.22 374.86,782.95 373.35,782.67 371.84,782.40 370.32,782.13 368.81,781.86 367.30,781.59 365.78,781.33 364.27,781.06 362.76,780.80 361.25,780.54 359.73,780.28 358.22,780.03 356.71,779.78 355.19,779.52 353.68,779.27 352.17,779.03 350.65,778.78 349.14,778.54 347.63,778.30 346.11,778.06 344.60,777.82" fill="rgba(0,0,255,0.5)"/><polyline points="344.60,741.82 346.11,742.21 347.62,742.61 349.13,743.01 350.63,743.41 352.14,743.81 353.65,744.22 355.16,744.63 356.67,745.04 358.18,745.45 359.69,745.86 361.20,746.28 362.70,746.70 364.21,747.12 365.72,747.54 367.23,747.96 368.74,748.38 370.25,748.81 371.76,749.23 373.26,749.66 374.77,750.09 376.28,750.52 377.79,750.96 379.30,751.39 380.81,751.82 382.32,752.26 383.82,752.70 385.33,753.14 386.84,753.58 388.35,754.02 389.86,754.46 391.37,754.90 392.88,755.34 394.39,755.79 395.89,756.23 397.40,756.68 398.91,757.12 400.42,757.57 401.93,758.02 403.44,758.47 404.95,758.91 406.45,759.36 407.96,759.81 409.47,760.26 410.98,760.71 412.49,761.16 414.00,761.61 415.51,762.06 417.01,762.51 418.52,762.97 420.03,763.42 421.54,763.87 423.05,764.32 424.56,764.77 426.07,765.22 427.58,765.67 429.08,766.12 430.59,766.57 432.10,767.02 433.61,767.47 435.12,767.92 436.63,768.37 438.14,768.82 439.64,769.26 441.15,769.71 442.66,770.16 444.17,770.60 445.68,771.05 447.19,771.49 448.70,771.94 450.20,772.38 451.71,772.82 453.22,773.26 454.73,773.70 456.24,774.14 457.75,774.58 459.26,775.02 460.77,775.45 462.27,775.89 463.78,776.32 465.29,776.75 466.80,777.18 468.31,777.61 469.82,778.04 471.33,778.46 472.83,778.89 474.34,779.31 475.85,779.73 477.36,780.15 478.87,780.57 480.38,780.99 481.89,781.40 483.40,781.82 484.90,782.23 486.41,782.63 487.92,783.04 489.43,783.45 490.94,783.85 492.45,784.25 493.96,784.65 495.46,785.05 496.97,785.44 498.48,785.83 499.99,786.22 501.50,786.61 503.01,786.99 504.52,787.38 506.02,787.76 507.53,788.13 509.04,788.51 510.55,788.88 512.06,789.25 513.57,789.62 515.08,789.98 516.59,790.34 518.09,790.70 519.60,791.05 521.11,791.41 522.62,791.76 524.13,792.10 525.64,792.44 527.15,792.78 528.65,793.12 530.16,793.45 531.67,793.79 533.18,794.11 534.69,794.44 536.20,794.76 537.71,795.07 539.21,795.39 540.72,795.70 542.23,796.00 543.74,796.30 545.25,796.60 546.76,796.90 548.27,797.19 549.78,797.48 551.28,797.76 552.79,798.04 554.30,798.32 555.81,798.59 557.32,798.86 558.83,799.12 560.34,799.38 561.84,799.63 563.35,799.88 564.86,800.13 566.37,800.37 567.88,800.61 569.39,800.85 570.90,801.08 572.40,801.30 573.91,801.52 575.42,801.74 576.93,801.95 578.44,802.15 579.95,802.36 581.46,802.55 582.97,802.74 584.47,802.93 585.98,803.11 587.49,803.29 589.00,803.46" fill="none" stroke="rgb(152,137,0)" stroke-width="3" stroke-linejoin="round"/><polyline points="344.60,773.38 346.11,773.53 347.62,773.68 349.13,773.84 350.63,774.00 352.14,774.16 353.65,774.32 355.16,774.49 356.67,774.66 358.18,774.83 359.69,775.01 361.20,775.19 362.70,775.37 364.21,775.55 365.72,775.74 367.23,775.92 368.74,776.12 370.25,776.31 371.76,776.50 373.26,776.70 374.77,776.90 376.28,777.11 377.79,777.31 379.30,777.52 380.81,777.73 382.32,777.94 383.82,778.15 385.33,778.37 386.84,778.58 388.35,778.80 389.86,779.02 391.37,779.24 392.88,779.47 394.39,779.69 395.89,779.92 397.40,780.15 398.91,780.38 400.42,780.61 401.93,780.85 403.44,781.08 404.95,781.32 406.45,781.56 407.96,781.80 409.47,782.04 410.98,782.28 412.49,782.52 414.00,782.77 415.51,783.01 417.01,783.26 418.52,783.50 420.03,783.75 421.54,784.00 423.05,784.25 424.56,784.50 426.07,784.75 427.58,785.00 429.08,785.26 430.59,785.51 432.10,785.76 433.61,786.02 435.12,786.27 436.63,786.53 438.14,786.78 439.64,787.04 441.15,787.29 442.66,787.55 444.17,787.81 445.68,788.06 447.19,788.32 448.70,788.58 450.20,788.83 451.71,789.09 453.22,789.35 454.73,789.60 456.24,789.86 457.75,790.12 459.26,790.37 460.77,790.63 462.27,790.88 463.78,791.14 465.29,791.39 466.80,791.65 468.31,791.90 469.82,792.15 471.33,792.40 472.83,792.66 474.34,792.91 475.85,793.16 477.36,793.41 478.87,793.65 480.38,793.90 481.89,794.15 483.40,794.39 484.90,794.64 486.41,794.88 487.92,795.12 489.43,795.37 490.94,795.61 492.45,795.84 493.96,796.08 495.46,796.32 496.97,796.55 498.48,796.79 499.99,797.02 501.50,797.25 503.01,797.48 504.52,797.70 506.02,797.93 507.53,798.15 509.04,798.37 510.55,798.59 512.06,798.81 513.57,799.03 515.08,799.24 516.59,799.45 518.09,799.66 519.60,799.87 521.11,800.08 522.62,800.28 524.13,800.48 525.64,800.68 527.15,800.88 528.65,801.08 530.16,801.27 531.67,801.46 533.18,801.65 534.69,801.83 536.20,802.01 537.71,802.19 539.21,802.37 540.72,802.54 542.23,802.72 543.74,802.89 545.25,803.05 546.76,803.21 548.27,803.37 549.78,803.53 551.28,803.69 552.79,803.84 554.30,803.98 555.81,804.13 557.32,804.27 558.83,804.41 560.34,804.54 561.84,804.68 563.35,804.80 564.86,804.93 566.37,805.05 567.88,805.17 569.39,805.28 570.90,805.39 572.40,805.50 573.91,805.60 575.42,805.70 576.93,805.80 578.44,805.89 579.95,805.98 581.46,806.06 582.97,806.14 584.47,806.22 585.98,806.29 587.49,806.36 589.00,806.42" fill="none" stroke="rgb(0,0,255)" stroke-width="3.3" stroke-linejoin="round"/></g><g clip-path="url(#cR6L)"><polygon points="66.00,871.48 67.50,871.76 69.01,872.04 70.51,872.32 72.01,872.60 73.52,872.89 75.02,873.17 76.52,873.46 78.02,873.76 79.53,874.05 81.03,874.35 82.53,874.65 84.04,874.95 85.54,875.25 87.04,875.55 88.55,875.86 90.05,876.17 91.55,876.48 93.06,876.79 94.56,877.11 96.06,877.43 97.56,877.75 99.07,878.07 100.57,878.39 102.07,878.72 103.58,879.05 105.08,879.38 106.58,879.71 108.09,880.04 109.59,880.38 111.09,880.71 112.60,881.05 114.10,881.40 115.60,881.74 117.10,882.09 118.61,882.43 120.11,882.78 121.61,883.14 123.12,883.49 124.62,883.85 126.12,884.21 127.63,884.57 129.13,884.93 130.63,885.29 132.13,885.66 133.64,886.03 135.14,886.40 136.64,886.77 138.15,887.14 139.65,887.52 141.15,887.89 142.66,888.27 144.16,888.66 145.66,889.04 147.17,889.43 148.67,889.81 150.17,890.20 151.67,890.59 153.18,890.99 154.68,891.38 156.18,891.78 157.69,892.18 159.19,892.58 160.69,892.98 162.20,893.39 163.70,893.79 165.20,894.20 166.71,894.61 168.21,895.02 169.71,895.44 171.21,895.85 172.72,896.27 174.22,896.69 175.72,897.11 177.23,897.54 178.73,897.96 180.23,898.39 181.74,898.82 183.24,899.25 184.74,899.68 186.25,900.12 187.75,900.55 189.25,900.99 190.75,901.43 192.26,901.87 193.76,902.32 195.26,902.76 196.77,903.21 198.27,903.66 199.77,904.11 201.28,904.56 202.78,905.01 204.28,905.47 205.79,905.93 207.29,906.39 208.79,906.85 210.29,907.31 211.80,907.78 213.30,908.24 214.80,908.71 216.31,909.18 217.81,909.65 219.31,910.13 220.82,910.60 222.32,911.08 223.82,911.56 225.33,912.04 226.83,912.52 228.33,913.01 229.83,913.49 231.34,913.98 232.84,914.47 234.34,914.96 235.85,915.45 237.35,915.94 238.85,916.44 240.36,916.94 241.86,917.44 243.36,917.94 244.87,918.44 246.37,918.94 247.87,919.45 249.37,919.96 250.88,920.47 252.38,920.98 253.88,921.49 255.39,922.00 256.89,922.52 258.39,923.04 259.90,923.56 261.40,924.08 262.90,924.60 264.40,925.12 265.91,925.65 267.41,926.17 268.91,926.70 270.42,927.23 271.92,927.76 273.42,928.30 274.93,928.83 276.43,929.37 277.93,929.91 279.44,930.45 280.94,930.99 282.44,931.53 283.94,932.07 285.45,932.62 286.95,933.17 288.45,933.72 289.96,934.27 291.46,934.82 292.96,935.37 294.47,935.93 295.97,936.48 297.47,937.04 298.98,937.60 300.48,938.16 301.98,938.72 303.48,939.29 304.99,939.85 306.49,940.42 307.99,940.99 309.50,941.56 311.00,942.13 316.00,1010.99 246.00,970.99 244.50,970.65 243.00,970.30 241.50,969.95 240.00,969.60 238.50,969.25 237.00,968.90 235.50,968.56 234.00,968.21 232.50,967.86 231.00,967.51 229.50,967.16 228.00,966.81 226.50,966.46 225.00,966.11 223.50,965.77 222.00,965.42 220.50,965.07 219.00,964.73 217.50,964.39 216.00,964.04 214.50,963.70 213.00,963.36 211.50,963.02 210.00,962.68 208.50,962.35 207.00,962.01 205.50,961.68 204.00,961.34 202.50,961.01 201.00,960.69 199.50,960.36 198.00,960.03 196.50,959.71 195.00,959.39 193.50,959.07 192.00,958.76 190.50,958.44 189.00,958.13 187.50,957.83 186.00,957.52 184.50,957.22 183.00,956.92 181.50,956.62 180.00,956.32 178.50,956.03 177.00,955.73 175.50,955.44 174.00,955.15 172.50,954.86 171.00,954.57 169.50,954.27 168.00,953.98 166.50,953.69 165.00,953.39 163.50,953.10 162.00,952.80 160.50,952.50 159.00,952.20 157.50,951.89 156.00,951.58 154.50,951.27 153.00,950.94 151.50,950.59 150.00,950.21 148.50,949.78 147.00,949.30 145.50,948.75 144.00,948.13 142.50,947.45 141.00,946.70 139.50,945.89 138.00,945.05 136.50,944.17 135.00,943.26 133.50,942.34 132.00,941.41 130.50,940.49 129.00,939.57 127.50,938.68 126.00,937.82 124.50,936.99 123.00,936.20 121.50,935.45 120.00,934.74 118.50,934.06 117.00,933.41 115.50,932.80 114.00,932.22 112.50,931.67 111.00,931.15 109.50,930.66 108.00,930.19 106.50,929.75 105.00,929.33 103.50,928.92 102.00,928.52 100.50,928.14 99.00,927.76 97.50,927.38 96.00,927.00 94.50,926.62 93.00,926.23 91.50,925.84 90.00,925.45 88.50,925.06 87.00,924.66 85.50,924.26 84.00,923.86 82.50,923.46 81.00,923.05 79.50,922.65 78.00,922.24 76.50,921.83 75.00,921.43 73.50,921.02 72.00,920.61 70.50,920.20 69.00,919.80 67.50,919.39 66.00,918.99" fill="rgba(251.9,219.6,82.7,0.65)"/><polygon points="66.00,860.14 67.50,860.17 69.01,860.21 70.51,860.24 72.01,860.27 73.52,860.31 75.02,860.34 76.52,860.38 78.02,860.42 79.53,860.46 81.03,860.50 82.53,860.54 84.04,860.58 85.54,860.63 87.04,860.67 88.55,860.72 90.05,860.77 91.55,860.82 93.06,860.87 94.56,860.92 96.06,860.97 97.56,861.02 99.07,861.08 100.57,861.13 102.07,861.19 103.58,861.24 105.08,861.30 106.58,861.36 108.09,861.42 109.59,861.48 111.09,861.54 112.60,861.60 114.10,861.67 115.60,861.73 117.10,861.80 118.61,861.86 120.11,861.93 121.61,862.00 123.12,862.07 124.62,862.14 126.12,862.21 127.63,862.28 129.13,862.35 130.63,862.43 132.13,862.50 133.64,862.58 135.14,862.65 136.64,862.73 138.15,862.81 139.65,862.88 141.15,862.96 142.66,863.04 144.16,863.12 145.66,863.20 147.17,863.29 148.67,863.37 150.17,863.45 151.67,863.54 153.18,863.62 154.68,863.71 156.18,863.79 157.69,863.88 159.19,863.97 160.69,864.06 162.20,864.15 163.70,864.23 165.20,864.32 166.71,864.42 168.21,864.51 169.71,864.60 171.21,864.69 172.72,864.78 174.22,864.88 175.72,864.97 177.23,865.07 178.73,865.16 180.23,865.26 181.74,865.36 183.24,865.45 184.74,865.55 186.25,865.65 187.75,865.75 189.25,865.85 190.75,865.95 192.26,866.05 193.76,866.15 195.26,866.25 196.77,866.35 198.27,866.45 199.77,866.55 201.28,866.66 202.78,866.76 204.28,866.86 205.79,866.97 207.29,867.07 208.79,867.17 210.29,867.28 211.80,867.38 213.30,867.49 214.80,867.60 216.31,867.70 217.81,867.81 219.31,867.92 220.82,868.02 222.32,868.13 223.82,868.24 225.33,868.35 226.83,868.46 228.33,868.56 229.83,868.67 231.34,868.78 232.84,868.89 234.34,869.00 235.85,869.11 237.35,869.22 238.85,869.33 240.36,869.44 241.86,869.55 243.36,869.66 244.87,869.77 246.37,869.88 247.87,870.00 249.37,870.11 250.88,870.22 252.38,870.33 253.88,870.44 255.39,870.55 256.89,870.66 258.39,870.78 259.90,870.89 261.40,871.00 262.90,871.11 264.40,871.22 265.91,871.34 267.41,871.45 268.91,871.56 270.42,871.67 271.92,871.79 273.42,871.90 274.93,872.01 276.43,872.12 277.93,872.23 279.44,872.35 280.94,872.46 282.44,872.57 283.94,872.68 285.45,872.79 286.95,872.90 288.45,873.02 289.96,873.13 291.46,873.24 292.96,873.35 294.47,873.46 295.97,873.57 297.47,873.68 298.98,873.79 300.48,873.90 301.98,874.01 303.48,874.12 304.99,874.23 306.49,874.34 307.99,874.45 309.50,874.56 311.00,874.67 311.00,909.76 309.50,909.63 307.99,909.50 306.49,909.37 304.99,909.24 303.48,909.11 301.98,908.98 300.48,908.85 298.98,908.73 297.47,908.60 295.97,908.48 294.47,908.36 292.96,908.24 291.46,908.12 289.96,908.01 288.45,907.89 286.95,907.78 285.45,907.66 283.94,907.55 282.44,907.44 280.94,907.33 279.44,907.22 277.93,907.11 276.43,907.01 274.93,906.90 273.42,906.80 271.92,906.70 270.42,906.60 268.91,906.50 267.41,906.40 265.91,906.30 264.40,906.20 262.90,906.11 261.40,906.01 259.90,905.92 258.39,905.83 256.89,905.74 255.39,905.65 253.88,905.56 252.38,905.47 250.88,905.39 249.37,905.30 247.87,905.22 246.37,905.14 244.87,905.05 243.36,904.97 241.86,904.89 240.36,904.82 238.85,904.74 237.35,904.66 235.85,904.59 234.34,904.51 232.84,904.44 231.34,904.37 229.83,904.30 228.33,904.23 226.83,904.16 225.33,904.09 223.82,904.02 222.32,903.96 220.82,903.89 219.31,903.83 217.81,903.77 216.31,903.70 214.80,903.64 213.30,903.58 211.80,903.53 210.29,903.47 208.79,903.41 207.29,903.36 205.79,903.30 204.28,903.25 202.78,903.19 201.28,903.14 199.77,903.09 198.27,903.04 196.77,902.99 195.26,902.94 193.76,902.90 192.26,902.85 190.75,902.80 189.25,902.76 187.75,902.72 186.25,902.67 184.74,902.63 183.24,902.59 181.74,902.55 180.23,902.51 178.73,902.47 177.23,902.44 175.72,902.40 174.22,902.36 172.72,902.33 171.21,902.30 169.71,902.26 168.21,902.23 166.71,902.20 165.20,902.17 163.70,902.14 162.20,902.11 160.69,902.08 159.19,902.05 157.69,902.03 156.18,902.00 154.68,901.98 153.18,901.95 151.67,901.93 150.17,901.91 148.67,901.88 147.17,901.86 145.66,901.84 144.16,901.82 142.66,901.80 141.15,901.79 139.65,901.77 138.15,901.75 136.64,901.74 135.14,901.72 133.64,901.71 132.13,901.69 130.63,901.68 129.13,901.67 127.63,901.66 126.12,901.65 124.62,901.64 123.12,901.63 121.61,901.62 120.11,901.61 118.61,901.60 117.10,901.59 115.60,901.59 114.10,901.58 112.60,901.58 111.09,901.57 109.59,901.57 108.09,901.57 106.58,901.56 105.08,901.56 103.58,901.56 102.07,901.56 100.57,901.56 99.07,901.56 97.56,901.56 96.06,901.57 94.56,901.57 93.06,901.57 91.55,901.57 90.05,901.58 88.55,901.58 87.04,901.59 85.54,901.59 84.04,901.60 82.53,901.61 81.03,901.62 79.53,901.62 78.02,901.63 76.52,901.64 75.02,901.65 73.52,901.66 72.01,901.67 70.51,901.68 69.01,901.69 67.50,901.71 66.00,901.72" fill="rgba(128,128,128,0.42)"/><polygon points="66.00,924.23 67.50,924.27 69.01,924.31 70.51,924.36 72.01,924.41 73.52,924.46 75.02,924.52 76.52,924.57 78.02,924.63 79.53,924.69 81.03,924.76 82.53,924.82 84.04,924.89 85.54,924.96 87.04,925.04 88.55,925.11 90.05,925.19 91.55,925.27 93.06,925.35 94.56,925.44 96.06,925.53 97.56,925.62 99.07,925.71 100.57,925.80 102.07,925.90 103.58,926.00 105.08,926.10 106.58,926.20 108.09,926.31 109.59,926.42 111.09,926.53 112.60,926.64 114.10,926.75 115.60,926.87 117.10,926.99 118.61,927.11 120.11,927.24 121.61,927.36 123.12,927.49 124.62,927.62 126.12,927.75 127.63,927.89 129.13,928.02 130.63,928.16 132.13,928.30 133.64,928.45 135.14,928.59 136.64,928.74 138.15,928.89 139.65,929.04 141.15,929.20 142.66,929.35 144.16,929.51 145.66,929.67 147.17,929.83 148.67,930.00 150.17,930.16 151.67,930.33 153.18,930.50 154.68,930.68 156.18,930.85 157.69,931.03 159.19,931.21 160.69,931.39 162.20,931.57 163.70,931.76 165.20,931.94 166.71,932.13 168.21,932.32 169.71,932.51 171.21,932.71 172.72,932.91 174.22,933.10 175.72,933.31 177.23,933.51 178.73,933.71 180.23,933.92 181.74,934.13 183.24,934.34 184.74,934.55 186.25,934.76 187.75,934.98 189.25,935.20 190.75,935.42 192.26,935.64 193.76,935.86 195.26,936.09 196.77,936.32 198.27,936.55 199.77,936.78 201.28,937.01 202.78,937.25 204.28,937.48 205.79,937.72 207.29,937.96 208.79,938.20 210.29,938.45 211.80,938.69 213.30,938.94 214.80,939.19 216.31,939.44 217.81,939.69 219.31,939.95 220.82,940.20 222.32,940.46 223.82,940.72 225.33,940.98 226.83,941.25 228.33,941.51 229.83,941.78 231.34,942.04 232.84,942.31 234.34,942.59 235.85,942.86 237.35,943.13 238.85,943.41 240.36,943.69 241.86,943.97 243.36,944.25 244.87,944.53 246.37,944.82 247.87,945.11 249.37,945.39 250.88,945.68 252.38,945.98 253.88,946.27 255.39,946.56 256.89,946.86 258.39,947.16 259.90,947.46 261.40,947.76 262.90,948.06 264.40,948.36 265.91,948.67 267.41,948.98 268.91,949.28 270.42,949.59 271.92,949.91 273.42,950.22 274.93,950.53 276.43,950.85 277.93,951.17 279.44,951.49 280.94,951.81 282.44,952.13 283.94,952.45 285.45,952.78 286.95,953.10 288.45,953.43 289.96,953.76 291.46,954.09 292.96,954.42 294.47,954.76 295.97,955.09 297.47,955.43 298.98,955.77 300.48,956.10 301.98,956.44 303.48,956.79 304.99,957.13 306.49,957.47 307.99,957.82 309.50,958.17 311.00,958.52 316.00,1010.84 225.00,970.84 223.50,970.30 222.00,969.76 220.50,969.22 219.00,968.70 217.50,968.17 216.00,967.66 214.50,967.15 213.00,966.64 211.50,966.14 210.00,965.64 208.50,965.15 207.00,964.67 205.50,964.19 204.00,963.72 202.50,963.25 201.00,962.78 199.50,962.32 198.00,961.87 196.50,961.42 195.00,960.98 193.50,960.54 192.00,960.10 190.50,959.67 189.00,959.24 187.50,958.82 186.00,958.40 184.50,957.99 183.00,957.58 181.50,957.17 180.00,956.77 178.50,956.37 177.00,955.98 175.50,955.59 174.00,955.21 172.50,954.82 171.00,954.44 169.50,954.07 168.00,953.70 166.50,953.33 165.00,952.97 163.50,952.60 162.00,952.25 160.50,951.89 159.00,951.54 157.50,951.19 156.00,950.84 154.50,950.50 153.00,950.16 151.50,949.82 150.00,949.49 148.50,949.16 147.00,948.83 145.50,948.50 144.00,948.18 142.50,947.85 141.00,947.53 139.50,947.21 138.00,946.90 136.50,946.59 135.00,946.27 133.50,945.96 132.00,945.66 130.50,945.35 129.00,945.05 127.50,944.74 126.00,944.44 124.50,944.14 123.00,943.85 121.50,943.55 120.00,943.25 118.50,942.96 117.00,942.67 115.50,942.37 114.00,942.08 112.50,941.79 111.00,941.51 109.50,941.22 108.00,940.93 106.50,940.65 105.00,940.36 103.50,940.07 102.00,939.79 100.50,939.51 99.00,939.22 97.50,938.94 96.00,938.66 94.50,938.37 93.00,938.09 91.50,937.81 90.00,937.53 88.50,937.24 87.00,936.96 85.50,936.68 84.00,936.39 82.50,936.11 81.00,935.82 79.50,935.54 78.00,935.25 76.50,934.97 75.00,934.68 73.50,934.40 72.00,934.11 70.50,933.82 69.00,933.53 67.50,933.24 66.00,932.94" fill="rgba(0,0,255,0.5)"/><polyline points="66.00,895.65 67.50,895.97 69.01,896.30 70.51,896.63 72.01,896.97 73.52,897.31 75.02,897.65 76.52,898.00 78.02,898.35 79.53,898.70 81.03,899.06 82.53,899.42 84.04,899.78 85.54,900.15 87.04,900.52 88.55,900.90 90.05,901.27 91.55,901.65 93.06,902.04 94.56,902.42 96.06,902.81 97.56,903.20 99.07,903.59 100.57,903.99 102.07,904.39 103.58,904.79 105.08,905.20 106.58,905.60 108.09,906.01 109.59,906.43 111.09,906.84 112.60,907.26 114.10,907.68 115.60,908.10 117.10,908.52 118.61,908.94 120.11,909.37 121.61,909.80 123.12,910.23 124.62,910.66 126.12,911.10 127.63,911.53 129.13,911.97 130.63,912.41 132.13,912.85 133.64,913.29 135.14,913.74 136.64,914.18 138.15,914.63 139.65,915.07 141.15,915.52 142.66,915.97 144.16,916.42 145.66,916.88 147.17,917.33 148.67,917.78 150.17,918.24 151.67,918.69 153.18,919.15 154.68,919.61 156.18,920.06 157.69,920.52 159.19,920.98 160.69,921.44 162.20,921.90 163.70,922.36 165.20,922.82 166.71,923.28 168.21,923.74 169.71,924.20 171.21,924.66 172.72,925.12 174.22,925.59 175.72,926.05 177.23,926.51 178.73,926.97 180.23,927.43 181.74,927.89 183.24,928.35 184.74,928.81 186.25,929.27 187.75,929.72 189.25,930.18 190.75,930.64 192.26,931.09 193.76,931.55 195.26,932.00 196.77,932.46 198.27,932.91 199.77,933.36 201.28,933.81 202.78,934.26 204.28,934.71 205.79,935.16 207.29,935.60 208.79,936.05 210.29,936.49 211.80,936.93 213.30,937.38 214.80,937.81 216.31,938.25 217.81,938.69 219.31,939.12 220.82,939.55 222.32,939.98 223.82,940.41 225.33,940.84 226.83,941.26 228.33,941.69 229.83,942.11 231.34,942.53 232.84,942.94 234.34,943.36 235.85,943.77 237.35,944.18 238.85,944.58 240.36,944.99 241.86,945.39 243.36,945.79 244.87,946.18 246.37,946.58 247.87,946.97 249.37,947.36 250.88,947.74 252.38,948.12 253.88,948.50 255.39,948.88 256.89,949.25 258.39,949.62 259.90,949.99 261.40,950.35 262.90,950.71 264.40,951.07 265.91,951.42 267.41,951.77 268.91,952.12 270.42,952.46 271.92,952.80 273.42,953.14 274.93,953.47 276.43,953.80 277.93,954.12 279.44,954.44 280.94,954.76 282.44,955.07 283.94,955.38 285.45,955.68 286.95,955.98 288.45,956.27 289.96,956.56 291.46,956.85 292.96,957.13 294.47,957.41 295.97,957.68 297.47,957.95 298.98,958.21 300.48,958.47 301.98,958.73 303.48,958.98 304.99,959.22 306.49,959.46 307.99,959.69 309.50,959.92 311.00,960.15" fill="none" stroke="rgb(152,137,0)" stroke-width="3" stroke-linejoin="round"/><polyline points="66.00,929.17 67.50,929.29 69.01,929.40 70.51,929.52 72.01,929.65 73.52,929.77 75.02,929.90 76.52,930.04 78.02,930.17 79.53,930.31 81.03,930.45 82.53,930.60 84.04,930.75 85.54,930.90 87.04,931.05 88.55,931.21 90.05,931.36 91.55,931.53 93.06,931.69 94.56,931.86 96.06,932.03 97.56,932.20 99.07,932.38 100.57,932.55 102.07,932.73 103.58,932.91 105.08,933.10 106.58,933.29 108.09,933.48 109.59,933.67 111.09,933.86 112.60,934.06 114.10,934.26 115.60,934.46 117.10,934.66 118.61,934.86 120.11,935.07 121.61,935.28 123.12,935.49 124.62,935.70 126.12,935.91 127.63,936.13 129.13,936.35 130.63,936.57 132.13,936.79 133.64,937.01 135.14,937.24 136.64,937.46 138.15,937.69 139.65,937.92 141.15,938.15 142.66,938.38 144.16,938.61 145.66,938.85 147.17,939.09 148.67,939.32 150.17,939.56 151.67,939.80 153.18,940.04 154.68,940.29 156.18,940.53 157.69,940.77 159.19,941.02 160.69,941.26 162.20,941.51 163.70,941.76 165.20,942.01 166.71,942.26 168.21,942.51 169.71,942.76 171.21,943.01 172.72,943.27 174.22,943.52 175.72,943.78 177.23,944.03 178.73,944.29 180.23,944.54 181.74,944.80 183.24,945.06 184.74,945.31 186.25,945.57 187.75,945.83 189.25,946.09 190.75,946.34 192.26,946.60 193.76,946.86 195.26,947.12 196.77,947.38 198.27,947.64 199.77,947.90 201.28,948.16 202.78,948.42 204.28,948.67 205.79,948.93 207.29,949.19 208.79,949.45 210.29,949.71 211.80,949.97 213.30,950.22 214.80,950.48 216.31,950.74 217.81,950.99 219.31,951.25 220.82,951.50 222.32,951.76 223.82,952.01 225.33,952.27 226.83,952.52 228.33,952.77 229.83,953.02 231.34,953.27 232.84,953.52 234.34,953.77 235.85,954.02 237.35,954.27 238.85,954.51 240.36,954.76 241.86,955.00 243.36,955.24 244.87,955.49 246.37,955.73 247.87,955.97 249.37,956.20 250.88,956.44 252.38,956.68 253.88,956.91 255.39,957.14 256.89,957.37 258.39,957.60 259.90,957.83 261.40,958.06 262.90,958.29 264.40,958.51 265.91,958.73 267.41,958.95 268.91,959.17 270.42,959.39 271.92,959.60 273.42,959.82 274.93,960.03 276.43,960.24 277.93,960.44 279.44,960.65 280.94,960.85 282.44,961.06 283.94,961.26 285.45,961.45 286.95,961.65 288.45,961.84 289.96,962.03 291.46,962.22 292.96,962.41 294.47,962.59 295.97,962.77 297.47,962.95 298.98,963.13 300.48,963.30 301.98,963.47 303.48,963.64 304.99,963.81 306.49,963.97 307.99,964.13 309.50,964.29 311.00,964.44" fill="none" stroke="rgb(0,0,255)" stroke-width="3.3" stroke-linejoin="round"/></g><g clip-path="url(#cR6R)"><polygon points="344.60,889.71 346.11,889.91 347.62,890.12 349.13,890.32 350.63,890.53 352.14,890.74 353.65,890.95 355.16,891.16 356.67,891.37 358.18,891.59 359.69,891.80 361.20,892.02 362.70,892.24 364.21,892.45 365.72,892.67 367.23,892.89 368.74,893.12 370.25,893.34 371.76,893.57 373.26,893.79 374.77,894.02 376.28,894.25 377.79,894.48 379.30,894.71 380.81,894.94 382.32,895.18 383.82,895.42 385.33,895.65 386.84,895.89 388.35,896.13 389.86,896.37 391.37,896.62 392.88,896.86 394.39,897.11 395.89,897.36 397.40,897.60 398.91,897.86 400.42,898.11 401.93,898.36 403.44,898.62 404.95,898.87 406.45,899.13 407.96,899.39 409.47,899.65 410.98,899.92 412.49,900.18 414.00,900.45 415.51,900.72 417.01,900.99 418.52,901.26 420.03,901.53 421.54,901.80 423.05,902.08 424.56,902.36 426.07,902.64 427.58,902.92 429.08,903.20 430.59,903.49 432.10,903.78 433.61,904.06 435.12,904.35 436.63,904.65 438.14,904.94 439.64,905.23 441.15,905.53 442.66,905.83 444.17,906.13 445.68,906.44 447.19,906.74 448.70,907.05 450.20,907.35 451.71,907.66 453.22,907.98 454.73,908.29 456.24,908.61 457.75,908.92 459.26,909.24 460.77,909.57 462.27,909.89 463.78,910.22 465.29,910.54 466.80,910.87 468.31,911.20 469.82,911.54 471.33,911.87 472.83,912.21 474.34,912.55 475.85,912.89 477.36,913.24 478.87,913.58 480.38,913.93 481.89,914.28 483.40,914.63 484.90,914.99 486.41,915.34 487.92,915.70 489.43,916.06 490.94,916.42 492.45,916.79 493.96,917.16 495.46,917.53 496.97,917.90 498.48,918.27 499.99,918.65 501.50,919.03 503.01,919.41 504.52,919.79 506.02,920.17 507.53,920.56 509.04,920.95 510.55,921.34 512.06,921.73 513.57,922.13 515.08,922.53 516.59,922.93 518.09,923.33 519.60,923.74 521.11,924.15 522.62,924.56 524.13,924.97 525.64,925.39 527.15,925.80 528.65,926.22 530.16,926.64 531.67,927.07 533.18,927.50 534.69,927.93 536.20,928.36 537.71,928.79 539.21,929.23 540.72,929.67 542.23,930.11 543.74,930.56 545.25,931.00 546.76,931.45 548.27,931.90 549.78,932.36 551.28,932.82 552.79,933.28 554.30,933.74 555.81,934.20 557.32,934.67 558.83,935.14 560.34,935.61 561.84,936.09 563.35,936.57 564.86,937.05 566.37,937.53 567.88,938.02 569.39,938.51 570.90,939.00 572.40,939.49 573.91,939.99 575.42,940.49 576.93,940.99 578.44,941.50 579.95,942.01 581.46,942.52 582.97,943.03 584.47,943.55 585.98,944.07 587.49,944.59 589.00,945.11 594.00,1012.01 525.00,972.01 523.50,971.65 521.99,971.30 520.49,970.96 518.99,970.63 517.48,970.30 515.98,969.98 514.48,969.66 512.97,969.35 511.47,969.05 509.97,968.74 508.46,968.45 506.96,968.15 505.46,967.86 503.95,967.57 502.45,967.29 500.95,967.00 499.44,966.72 497.94,966.44 496.44,966.16 494.93,965.89 493.43,965.61 491.93,965.33 490.42,965.06 488.92,964.78 487.42,964.51 485.91,964.23 484.41,963.95 482.91,963.67 481.40,963.39 479.90,963.10 478.40,962.81 476.89,962.52 475.39,962.23 473.89,961.93 472.38,961.63 470.88,961.33 469.38,961.02 467.87,960.70 466.37,960.38 464.87,960.06 463.36,959.72 461.86,959.39 460.36,959.04 458.85,958.69 457.35,958.34 455.85,957.97 454.34,957.60 452.84,957.23 451.34,956.85 449.83,956.46 448.33,956.06 446.83,955.66 445.32,955.25 443.82,954.83 442.32,954.41 440.81,953.97 439.31,953.53 437.81,953.09 436.30,952.63 434.80,952.17 433.30,951.70 431.79,951.22 430.29,950.74 428.79,950.25 427.28,949.76 425.78,949.26 424.28,948.77 422.77,948.27 421.27,947.77 419.77,947.28 418.26,946.79 416.76,946.30 415.26,945.81 413.75,945.33 412.25,944.86 410.75,944.39 409.24,943.93 407.74,943.48 406.24,943.05 404.73,942.62 403.23,942.20 401.73,941.80 400.22,941.41 398.72,941.03 397.22,940.66 395.71,940.30 394.21,939.95 392.71,939.61 391.20,939.27 389.70,938.95 388.20,938.63 386.69,938.33 385.19,938.03 383.69,937.74 382.18,937.45 380.68,937.17 379.18,936.90 377.67,936.63 376.17,936.37 374.67,936.11 373.16,935.86 371.66,935.61 370.16,935.36 368.65,935.11 367.15,934.86 365.65,934.60 364.14,934.34 362.64,934.08 361.14,933.81 359.63,933.53 358.13,933.24 356.63,932.94 355.12,932.62 353.62,932.29 352.12,931.95 350.61,931.59 349.11,931.20 347.61,930.80 346.10,930.38 344.60,929.93" fill="rgba(251.9,219.6,82.7,0.65)"/><polygon points="344.60,860.85 346.11,860.88 347.62,860.92 349.13,860.96 350.63,861.00 352.14,861.04 353.65,861.08 355.16,861.13 356.67,861.17 358.18,861.22 359.69,861.26 361.20,861.31 362.70,861.36 364.21,861.41 365.72,861.46 367.23,861.51 368.74,861.56 370.25,861.61 371.76,861.66 373.26,861.72 374.77,861.77 376.28,861.83 377.79,861.89 379.30,861.94 380.81,862.00 382.32,862.06 383.82,862.12 385.33,862.18 386.84,862.25 388.35,862.31 389.86,862.37 391.37,862.44 392.88,862.50 394.39,862.57 395.89,862.64 397.40,862.70 398.91,862.77 400.42,862.84 401.93,862.91 403.44,862.98 404.95,863.06 406.45,863.13 407.96,863.20 409.47,863.27 410.98,863.35 412.49,863.42 414.00,863.50 415.51,863.58 417.01,863.66 418.52,863.73 420.03,863.81 421.54,863.89 423.05,863.97 424.56,864.05 426.07,864.13 427.58,864.22 429.08,864.30 430.59,864.38 432.10,864.47 433.61,864.55 435.12,864.64 436.63,864.72 438.14,864.81 439.64,864.90 441.15,864.99 442.66,865.07 444.17,865.16 445.68,865.25 447.19,865.34 448.70,865.43 450.20,865.52 451.71,865.62 453.22,865.71 454.73,865.80 456.24,865.89 457.75,865.99 459.26,866.08 460.77,866.18 462.27,866.27 463.78,866.37 465.29,866.46 466.80,866.56 468.31,866.66 469.82,866.76 471.33,866.85 472.83,866.95 474.34,867.05 475.85,867.15 477.36,867.25 478.87,867.35 480.38,867.45 481.89,867.55 483.40,867.66 484.90,867.76 486.41,867.86 487.92,867.96 489.43,868.07 490.94,868.17 492.45,868.27 493.96,868.38 495.46,868.48 496.97,868.59 498.48,868.69 499.99,868.80 501.50,868.90 503.01,869.01 504.52,869.11 506.02,869.22 507.53,869.33 509.04,869.44 510.55,869.54 512.06,869.65 513.57,869.76 515.08,869.87 516.59,869.97 518.09,870.08 519.60,870.19 521.11,870.30 522.62,870.41 524.13,870.52 525.64,870.63 527.15,870.74 528.65,870.85 530.16,870.96 531.67,871.07 533.18,871.18 534.69,871.29 536.20,871.40 537.71,871.52 539.21,871.63 540.72,871.74 542.23,871.85 543.74,871.96 545.25,872.07 546.76,872.19 548.27,872.30 549.78,872.41 551.28,872.52 552.79,872.63 554.30,872.75 555.81,872.86 557.32,872.97 558.83,873.08 560.34,873.20 561.84,873.31 563.35,873.42 564.86,873.53 566.37,873.65 567.88,873.76 569.39,873.87 570.90,873.98 572.40,874.10 573.91,874.21 575.42,874.32 576.93,874.43 578.44,874.55 579.95,874.66 581.46,874.77 582.97,874.88 584.47,875.00 585.98,875.11 587.49,875.22 589.00,875.33 589.00,909.54 587.49,909.44 585.98,909.34 584.47,909.25 582.97,909.15 581.46,909.05 579.95,908.95 578.44,908.86 576.93,908.76 575.42,908.66 573.91,908.57 572.40,908.48 570.90,908.38 569.39,908.29 567.88,908.20 566.37,908.11 564.86,908.02 563.35,907.93 561.84,907.84 560.34,907.75 558.83,907.66 557.32,907.58 555.81,907.49 554.30,907.40 552.79,907.32 551.28,907.24 549.78,907.15 548.27,907.07 546.76,906.99 545.25,906.90 543.74,906.82 542.23,906.74 540.72,906.66 539.21,906.59 537.71,906.51 536.20,906.43 534.69,906.35 533.18,906.28 531.67,906.20 530.16,906.13 528.65,906.05 527.15,905.98 525.64,905.91 524.13,905.83 522.62,905.76 521.11,905.69 519.60,905.62 518.09,905.55 516.59,905.48 515.08,905.41 513.57,905.35 512.06,905.28 510.55,905.21 509.04,905.15 507.53,905.08 506.02,905.02 504.52,904.96 503.01,904.89 501.50,904.83 499.99,904.77 498.48,904.71 496.97,904.65 495.46,904.59 493.96,904.53 492.45,904.48 490.94,904.42 489.43,904.36 487.92,904.31 486.41,904.25 484.90,904.20 483.40,904.14 481.89,904.09 480.38,904.04 478.87,903.99 477.36,903.94 475.85,903.89 474.34,903.84 472.83,903.79 471.33,903.74 469.82,903.69 468.31,903.64 466.80,903.60 465.29,903.55 463.78,903.51 462.27,903.46 460.77,903.42 459.26,903.38 457.75,903.34 456.24,903.30 454.73,903.26 453.22,903.22 451.71,903.18 450.20,903.14 448.70,903.10 447.19,903.06 445.68,903.03 444.17,902.99 442.66,902.96 441.15,902.92 439.64,902.89 438.14,902.86 436.63,902.82 435.12,902.79 433.61,902.76 432.10,902.73 430.59,902.70 429.08,902.67 427.58,902.65 426.07,902.62 424.56,902.59 423.05,902.57 421.54,902.54 420.03,902.52 418.52,902.49 417.01,902.47 415.51,902.45 414.00,902.43 412.49,902.41 410.98,902.39 409.47,902.37 407.96,902.35 406.45,902.33 404.95,902.31 403.44,902.30 401.93,902.28 400.42,902.27 398.91,902.25 397.40,902.24 395.89,902.22 394.39,902.21 392.88,902.20 391.37,902.19 389.86,902.18 388.35,902.17 386.84,902.16 385.33,902.15 383.82,902.15 382.32,902.14 380.81,902.13 379.30,902.13 377.79,902.12 376.28,902.12 374.77,902.12 373.26,902.12 371.76,902.11 370.25,902.11 368.74,902.11 367.23,902.11 365.72,902.11 364.21,902.12 362.70,902.12 361.20,902.12 359.69,902.13 358.18,902.13 356.67,902.14 355.16,902.14 353.65,902.15 352.14,902.16 350.63,902.17 349.13,902.18 347.62,902.19 346.11,902.20 344.60,902.21" fill="rgba(128,128,128,0.42)"/><polygon points="344.60,932.17 346.11,932.20 347.62,932.22 349.13,932.25 350.63,932.28 352.14,932.32 353.65,932.35 355.16,932.38 356.67,932.42 358.18,932.46 359.69,932.50 361.20,932.54 362.70,932.59 364.21,932.63 365.72,932.68 367.23,932.73 368.74,932.78 370.25,932.83 371.76,932.88 373.26,932.94 374.77,933.00 376.28,933.06 377.79,933.12 379.30,933.18 380.81,933.24 382.32,933.31 383.82,933.38 385.33,933.45 386.84,933.52 388.35,933.59 389.86,933.67 391.37,933.74 392.88,933.82 394.39,933.90 395.89,933.98 397.40,934.07 398.91,934.15 400.42,934.24 401.93,934.33 403.44,934.42 404.95,934.51 406.45,934.61 407.96,934.70 409.47,934.80 410.98,934.90 412.49,935.00 414.00,935.11 415.51,935.22 417.01,935.32 418.52,935.43 420.03,935.54 421.54,935.66 423.05,935.77 424.56,935.89 426.07,936.01 427.58,936.13 429.08,936.25 430.59,936.38 432.10,936.51 433.61,936.64 435.12,936.77 436.63,936.90 438.14,937.03 439.64,937.17 441.15,937.31 442.66,937.45 444.17,937.59 445.68,937.74 447.19,937.89 448.70,938.04 450.20,938.19 451.71,938.34 453.22,938.49 454.73,938.65 456.24,938.81 457.75,938.97 459.26,939.13 460.77,939.30 462.27,939.47 463.78,939.64 465.29,939.81 466.80,939.98 468.31,940.16 469.82,940.33 471.33,940.51 472.83,940.70 474.34,940.88 475.85,941.07 477.36,941.25 478.87,941.44 480.38,941.64 481.89,941.83 483.40,942.03 484.90,942.23 486.41,942.43 487.92,942.63 489.43,942.84 490.94,943.04 492.45,943.25 493.96,943.47 495.46,943.68 496.97,943.90 498.48,944.12 499.99,944.34 501.50,944.56 503.01,944.78 504.52,945.01 506.02,945.24 507.53,945.47 509.04,945.71 510.55,945.94 512.06,946.18 513.57,946.42 515.08,946.67 516.59,946.91 518.09,947.16 519.60,947.41 521.11,947.66 522.62,947.92 524.13,948.17 525.64,948.43 527.15,948.69 528.65,948.96 530.16,949.22 531.67,949.49 533.18,949.76 534.69,950.04 536.20,950.31 537.71,950.59 539.21,950.87 540.72,951.15 542.23,951.44 543.74,951.73 545.25,952.02 546.76,952.31 548.27,952.60 549.78,952.90 551.28,953.20 552.79,953.50 554.30,953.81 555.81,954.11 557.32,954.42 558.83,954.73 560.34,955.05 561.84,955.36 563.35,955.68 564.86,956.00 566.37,956.33 567.88,956.65 569.39,956.98 570.90,957.31 572.40,957.65 573.91,957.98 575.42,958.32 576.93,958.66 578.44,959.01 579.95,959.35 581.46,959.70 582.97,960.05 584.47,960.41 585.98,960.76 587.49,961.12 589.00,961.49 594.00,1011.15 505.00,971.15 503.49,970.73 501.97,970.31 500.46,969.90 498.95,969.49 497.43,969.07 495.92,968.66 494.41,968.26 492.89,967.85 491.38,967.44 489.87,967.04 488.35,966.64 486.84,966.23 485.33,965.84 483.82,965.44 482.30,965.04 480.79,964.65 479.28,964.26 477.76,963.87 476.25,963.48 474.74,963.09 473.22,962.71 471.71,962.32 470.20,961.94 468.68,961.56 467.17,961.19 465.66,960.81 464.14,960.44 462.63,960.07 461.12,959.70 459.60,959.34 458.09,958.97 456.58,958.61 455.06,958.25 453.55,957.89 452.04,957.54 450.52,957.19 449.01,956.84 447.50,956.49 445.98,956.15 444.47,955.80 442.96,955.46 441.45,955.13 439.93,954.79 438.42,954.46 436.91,954.13 435.39,953.80 433.88,953.48 432.37,953.16 430.85,952.84 429.34,952.52 427.83,952.21 426.31,951.90 424.80,951.59 423.29,951.29 421.77,950.99 420.26,950.69 418.75,950.40 417.23,950.10 415.72,949.81 414.21,949.53 412.69,949.24 411.18,948.96 409.67,948.69 408.15,948.41 406.64,948.14 405.13,947.88 403.62,947.61 402.10,947.35 400.59,947.10 399.08,946.84 397.56,946.59 396.05,946.35 394.54,946.10 393.02,945.87 391.51,945.63 390.00,945.40 388.48,945.17 386.97,944.94 385.46,944.72 383.94,944.50 382.43,944.29 380.92,944.08 379.40,943.87 377.89,943.67 376.38,943.47 374.86,943.28 373.35,943.09 371.84,942.90 370.32,942.72 368.81,942.54 367.30,942.36 365.78,942.19 364.27,942.02 362.76,941.86 361.25,941.70 359.73,941.55 358.22,941.40 356.71,941.25 355.19,941.11 353.68,940.97 352.17,940.84 350.65,940.71 349.14,940.59 347.63,940.47 346.11,940.35 344.60,940.24" fill="rgba(0,0,255,0.5)"/><polyline points="344.60,908.93 346.11,909.17 347.62,909.41 349.13,909.66 350.63,909.91 352.14,910.16 353.65,910.42 355.16,910.68 356.67,910.95 358.18,911.21 359.69,911.48 361.20,911.76 362.70,912.03 364.21,912.31 365.72,912.60 367.23,912.88 368.74,913.17 370.25,913.46 371.76,913.76 373.26,914.06 374.77,914.36 376.28,914.66 377.79,914.96 379.30,915.27 380.81,915.58 382.32,915.89 383.82,916.21 385.33,916.53 386.84,916.85 388.35,917.17 389.86,917.49 391.37,917.82 392.88,918.15 394.39,918.48 395.89,918.81 397.40,919.15 398.91,919.48 400.42,919.82 401.93,920.16 403.44,920.50 404.95,920.85 406.45,921.19 407.96,921.54 409.47,921.89 410.98,922.24 412.49,922.59 414.00,922.95 415.51,923.30 417.01,923.66 418.52,924.01 420.03,924.37 421.54,924.73 423.05,925.09 424.56,925.45 426.07,925.82 427.58,926.18 429.08,926.55 430.59,926.91 432.10,927.28 433.61,927.65 435.12,928.02 436.63,928.38 438.14,928.75 439.64,929.12 441.15,929.50 442.66,929.87 444.17,930.24 445.68,930.61 447.19,930.98 448.70,931.36 450.20,931.73 451.71,932.10 453.22,932.48 454.73,932.85 456.24,933.23 457.75,933.60 459.26,933.97 460.77,934.35 462.27,934.72 463.78,935.09 465.29,935.47 466.80,935.84 468.31,936.21 469.82,936.58 471.33,936.96 472.83,937.33 474.34,937.70 475.85,938.07 477.36,938.44 478.87,938.81 480.38,939.18 481.89,939.54 483.40,939.91 484.90,940.28 486.41,940.64 487.92,941.01 489.43,941.37 490.94,941.73 492.45,942.09 493.96,942.45 495.46,942.81 496.97,943.17 498.48,943.52 499.99,943.88 501.50,944.23 503.01,944.58 504.52,944.93 506.02,945.28 507.53,945.63 509.04,945.97 510.55,946.32 512.06,946.66 513.57,947.00 515.08,947.34 516.59,947.68 518.09,948.01 519.60,948.34 521.11,948.67 522.62,949.00 524.13,949.33 525.64,949.65 527.15,949.97 528.65,950.29 530.16,950.61 531.67,950.93 533.18,951.24 534.69,951.55 536.20,951.86 537.71,952.16 539.21,952.46 540.72,952.76 542.23,953.06 543.74,953.35 545.25,953.65 546.76,953.93 548.27,954.22 549.78,954.50 551.28,954.78 552.79,955.06 554.30,955.33 555.81,955.60 557.32,955.87 558.83,956.13 560.34,956.39 561.84,956.65 563.35,956.90 564.86,957.16 566.37,957.40 567.88,957.65 569.39,957.88 570.90,958.12 572.40,958.35 573.91,958.58 575.42,958.81 576.93,959.03 578.44,959.24 579.95,959.46 581.46,959.67 582.97,959.87 584.47,960.07 585.98,960.27 587.49,960.46 589.00,960.65" fill="none" stroke="rgb(152,137,0)" stroke-width="3" stroke-linejoin="round"/><polyline points="344.60,936.64 346.11,936.68 347.62,936.73 349.13,936.78 350.63,936.84 352.14,936.90 353.65,936.96 355.16,937.03 356.67,937.10 358.18,937.18 359.69,937.26 361.20,937.34 362.70,937.43 364.21,937.52 365.72,937.61 367.23,937.71 368.74,937.81 370.25,937.92 371.76,938.02 373.26,938.14 374.77,938.25 376.28,938.37 377.79,938.49 379.30,938.61 380.81,938.74 382.32,938.87 383.82,939.01 385.33,939.14 386.84,939.28 388.35,939.42 389.86,939.57 391.37,939.72 392.88,939.87 394.39,940.02 395.89,940.18 397.40,940.34 398.91,940.50 400.42,940.66 401.93,940.83 403.44,941.00 404.95,941.17 406.45,941.34 407.96,941.51 409.47,941.69 410.98,941.87 412.49,942.05 414.00,942.24 415.51,942.42 417.01,942.61 418.52,942.80 420.03,942.99 421.54,943.18 423.05,943.38 424.56,943.58 426.07,943.77 427.58,943.97 429.08,944.18 430.59,944.38 432.10,944.58 433.61,944.79 435.12,944.99 436.63,945.20 438.14,945.41 439.64,945.62 441.15,945.84 442.66,946.05 444.17,946.26 445.68,946.48 447.19,946.69 448.70,946.91 450.20,947.13 451.71,947.35 453.22,947.57 454.73,947.79 456.24,948.01 457.75,948.23 459.26,948.45 460.77,948.67 462.27,948.90 463.78,949.12 465.29,949.34 466.80,949.57 468.31,949.79 469.82,950.02 471.33,950.24 472.83,950.47 474.34,950.69 475.85,950.92 477.36,951.14 478.87,951.37 480.38,951.59 481.89,951.82 483.40,952.04 484.90,952.27 486.41,952.49 487.92,952.71 489.43,952.94 490.94,953.16 492.45,953.38 493.96,953.60 495.46,953.82 496.97,954.04 498.48,954.26 499.99,954.48 501.50,954.70 503.01,954.92 504.52,955.13 506.02,955.35 507.53,955.56 509.04,955.78 510.55,955.99 512.06,956.20 513.57,956.41 515.08,956.62 516.59,956.83 518.09,957.03 519.60,957.24 521.11,957.44 522.62,957.64 524.13,957.84 525.64,958.04 527.15,958.24 528.65,958.43 530.16,958.63 531.67,958.82 533.18,959.01 534.69,959.20 536.20,959.38 537.71,959.57 539.21,959.75 540.72,959.93 542.23,960.11 543.74,960.28 545.25,960.46 546.76,960.63 548.27,960.80 549.78,960.96 551.28,961.13 552.79,961.29 554.30,961.45 555.81,961.61 557.32,961.76 558.83,961.91 560.34,962.06 561.84,962.21 563.35,962.35 564.86,962.49 566.37,962.63 567.88,962.76 569.39,962.89 570.90,963.02 572.40,963.15 573.91,963.27 575.42,963.39 576.93,963.50 578.44,963.62 579.95,963.72 581.46,963.83 582.97,963.93 584.47,964.03 585.98,964.13 587.49,964.22 589.00,964.31" fill="none" stroke="rgb(0,0,255)" stroke-width="3.3" stroke-linejoin="round"/></g><path d="M66.00 44.77L66.00 36.77 M66.00 169.72L66.00 177.72 M78.28 44.77L78.28 40.77 M78.28 169.72L78.28 173.72 M90.55 44.77L90.55 40.77 M90.55 169.72L90.55 173.72 M102.83 44.77L102.83 40.77 M102.83 169.72L102.83 173.72 M115.10 44.77L115.10 40.77 M115.10 169.72L115.10 173.72 M127.38 44.77L127.38 36.77 M127.38 169.72L127.38 177.72 M139.65 44.77L139.65 40.77 M139.65 169.72L139.65 173.72 M151.93 44.77L151.93 40.77 M151.93 169.72L151.93 173.72 M164.20 44.77L164.20 40.77 M164.20 169.72L164.20 173.72 M176.47 44.77L176.47 40.77 M176.47 169.72L176.47 173.72 M188.75 44.77L188.75 36.77 M188.75 169.72L188.75 177.72 M201.03 44.77L201.03 40.77 M201.03 169.72L201.03 173.72 M213.30 44.77L213.30 40.77 M213.30 169.72L213.30 173.72 M225.57 44.77L225.57 40.77 M225.57 169.72L225.57 173.72 M237.85 44.77L237.85 40.77 M237.85 169.72L237.85 173.72 M250.12 44.77L250.12 36.77 M250.12 169.72L250.12 177.72 M262.40 44.77L262.40 40.77 M262.40 169.72L262.40 173.72 M274.68 44.77L274.68 40.77 M274.68 169.72L274.68 173.72 M286.95 44.77L286.95 40.77 M286.95 169.72L286.95 173.72 M299.23 44.77L299.23 40.77 M299.23 169.72L299.23 173.72 M311.50 44.77L311.50 36.77 M311.50 169.72L311.50 177.72 M64.78 168.50L56.78 168.50 M64.78 156.25L60.78 156.25 M64.78 144.00L56.78 144.00 M64.78 131.75L60.78 131.75 M64.78 119.50L56.78 119.50 M64.78 107.25L60.78 107.25 M64.78 95.00L56.78 95.00 M64.78 82.75L60.78 82.75 M64.78 70.50L56.78 70.50 M64.78 58.25L60.78 58.25 M64.78 46.00L56.78 46.00 M312.73 168.50L320.73 168.50 M312.73 156.25L316.73 156.25 M312.73 144.00L320.73 144.00 M312.73 131.75L316.73 131.75 M312.73 119.50L320.73 119.50 M312.73 107.25L316.73 107.25 M312.73 95.00L320.73 95.00 M312.73 82.75L316.73 82.75 M312.73 70.50L320.73 70.50 M312.73 58.25L316.73 58.25 M312.73 46.00L320.73 46.00 M344.50 44.77L344.50 36.77 M344.50 169.72L344.50 177.72 M356.76 44.77L356.76 40.77 M356.76 169.72L356.76 173.72 M369.03 44.77L369.03 40.77 M369.03 169.72L369.03 173.72 M381.30 44.77L381.30 40.77 M381.30 169.72L381.30 173.72 M393.56 44.77L393.56 40.77 M393.56 169.72L393.56 173.72 M405.82 44.77L405.82 36.77 M405.82 169.72L405.82 177.72 M418.09 44.77L418.09 40.77 M418.09 169.72L418.09 173.72 M430.36 44.77L430.36 40.77 M430.36 169.72L430.36 173.72 M442.62 44.77L442.62 40.77 M442.62 169.72L442.62 173.72 M454.88 44.77L454.88 40.77 M454.88 169.72L454.88 173.72 M467.15 44.77L467.15 36.77 M467.15 169.72L467.15 177.72 M479.41 44.77L479.41 40.77 M479.41 169.72L479.41 173.72 M491.68 44.77L491.68 40.77 M491.68 169.72L491.68 173.72 M503.94 44.77L503.94 40.77 M503.94 169.72L503.94 173.72 M516.21 44.77L516.21 40.77 M516.21 169.72L516.21 173.72 M528.47 44.77L528.47 36.77 M528.47 169.72L528.47 177.72 M540.74 44.77L540.74 40.77 M540.74 169.72L540.74 173.72 M553.00 44.77L553.00 40.77 M553.00 169.72L553.00 173.72 M565.27 44.77L565.27 40.77 M565.27 169.72L565.27 173.72 M577.53 44.77L577.53 40.77 M577.53 169.72L577.53 173.72 M589.80 44.77L589.80 36.77 M589.80 169.72L589.80 177.72 M343.27 168.50L335.27 168.50 M343.27 156.25L339.27 156.25 M343.27 144.00L335.27 144.00 M343.27 131.75L339.27 131.75 M343.27 119.50L335.27 119.50 M343.27 107.25L339.27 107.25 M343.27 95.00L335.27 95.00 M343.27 82.75L339.27 82.75 M343.27 70.50L335.27 70.50 M343.27 58.25L339.27 58.25 M343.27 46.00L335.27 46.00 M591.02 168.50L599.02 168.50 M591.02 156.25L595.02 156.25 M591.02 144.00L599.02 144.00 M591.02 131.75L595.02 131.75 M591.02 119.50L599.02 119.50 M591.02 107.25L595.02 107.25 M591.02 95.00L599.02 95.00 M591.02 82.75L595.02 82.75 M591.02 70.50L599.02 70.50 M591.02 58.25L595.02 58.25 M591.02 46.00L599.02 46.00 M66.00 202.28L66.00 194.28 M66.00 327.23L66.00 335.23 M78.28 202.28L78.28 198.28 M78.28 327.23L78.28 331.23 M90.55 202.28L90.55 198.28 M90.55 327.23L90.55 331.23 M102.83 202.28L102.83 198.28 M102.83 327.23L102.83 331.23 M115.10 202.28L115.10 198.28 M115.10 327.23L115.10 331.23 M127.38 202.28L127.38 194.28 M127.38 327.23L127.38 335.23 M139.65 202.28L139.65 198.28 M139.65 327.23L139.65 331.23 M151.93 202.28L151.93 198.28 M151.93 327.23L151.93 331.23 M164.20 202.28L164.20 198.28 M164.20 327.23L164.20 331.23 M176.47 202.28L176.47 198.28 M176.47 327.23L176.47 331.23 M188.75 202.28L188.75 194.28 M188.75 327.23L188.75 335.23 M201.03 202.28L201.03 198.28 M201.03 327.23L201.03 331.23 M213.30 202.28L213.30 198.28 M213.30 327.23L213.30 331.23 M225.57 202.28L225.57 198.28 M225.57 327.23L225.57 331.23 M237.85 202.28L237.85 198.28 M237.85 327.23L237.85 331.23 M250.12 202.28L250.12 194.28 M250.12 327.23L250.12 335.23 M262.40 202.28L262.40 198.28 M262.40 327.23L262.40 331.23 M274.68 202.28L274.68 198.28 M274.68 327.23L274.68 331.23 M286.95 202.28L286.95 198.28 M286.95 327.23L286.95 331.23 M299.23 202.28L299.23 198.28 M299.23 327.23L299.23 331.23 M311.50 202.28L311.50 194.28 M311.50 327.23L311.50 335.23 M64.78 326.00L56.78 326.00 M64.78 317.83L60.78 317.83 M64.78 309.67L56.78 309.67 M64.78 301.50L60.78 301.50 M64.78 293.33L56.78 293.33 M64.78 285.17L60.78 285.17 M64.78 277.00L56.78 277.00 M64.78 268.83L60.78 268.83 M64.78 260.67L56.78 260.67 M64.78 252.50L60.78 252.50 M64.78 244.33L56.78 244.33 M64.78 236.17L60.78 236.17 M64.78 228.00L56.78 228.00 M64.78 219.83L60.78 219.83 M64.78 211.67L56.78 211.67 M64.78 203.50L60.78 203.50 M312.73 326.00L320.73 326.00 M312.73 313.75L316.73 313.75 M312.73 301.50L320.73 301.50 M312.73 289.25L316.73 289.25 M312.73 277.00L320.73 277.00 M312.73 264.75L316.73 264.75 M312.73 252.50L320.73 252.50 M312.73 240.25L316.73 240.25 M312.73 228.00L320.73 228.00 M312.73 215.75L316.73 215.75 M312.73 203.50L320.73 203.50 M344.50 202.28L344.50 194.28 M344.50 327.23L344.50 335.23 M356.76 202.28L356.76 198.28 M356.76 327.23L356.76 331.23 M369.03 202.28L369.03 198.28 M369.03 327.23L369.03 331.23 M381.30 202.28L381.30 198.28 M381.30 327.23L381.30 331.23 M393.56 202.28L393.56 198.28 M393.56 327.23L393.56 331.23 M405.82 202.28L405.82 194.28 M405.82 327.23L405.82 335.23 M418.09 202.28L418.09 198.28 M418.09 327.23L418.09 331.23 M430.36 202.28L430.36 198.28 M430.36 327.23L430.36 331.23 M442.62 202.28L442.62 198.28 M442.62 327.23L442.62 331.23 M454.88 202.28L454.88 198.28 M454.88 327.23L454.88 331.23 M467.15 202.28L467.15 194.28 M467.15 327.23L467.15 335.23 M479.41 202.28L479.41 198.28 M479.41 327.23L479.41 331.23 M491.68 202.28L491.68 198.28 M491.68 327.23L491.68 331.23 M503.94 202.28L503.94 198.28 M503.94 327.23L503.94 331.23 M516.21 202.28L516.21 198.28 M516.21 327.23L516.21 331.23 M528.47 202.28L528.47 194.28 M528.47 327.23L528.47 335.23 M540.74 202.28L540.74 198.28 M540.74 327.23L540.74 331.23 M553.00 202.28L553.00 198.28 M553.00 327.23L553.00 331.23 M565.27 202.28L565.27 198.28 M565.27 327.23L565.27 331.23 M577.53 202.28L577.53 198.28 M577.53 327.23L577.53 331.23 M589.80 202.28L589.80 194.28 M589.80 327.23L589.80 335.23 M343.27 326.00L335.27 326.00 M343.27 317.83L339.27 317.83 M343.27 309.67L335.27 309.67 M343.27 301.50L339.27 301.50 M343.27 293.33L335.27 293.33 M343.27 285.17L339.27 285.17 M343.27 277.00L335.27 277.00 M343.27 268.83L339.27 268.83 M343.27 260.67L335.27 260.67 M343.27 252.50L339.27 252.50 M343.27 244.33L335.27 244.33 M343.27 236.17L339.27 236.17 M343.27 228.00L335.27 228.00 M343.27 219.83L339.27 219.83 M343.27 211.67L335.27 211.67 M343.27 203.50L339.27 203.50 M591.02 326.00L599.02 326.00 M591.02 313.75L595.02 313.75 M591.02 301.50L599.02 301.50 M591.02 289.25L595.02 289.25 M591.02 277.00L599.02 277.00 M591.02 264.75L595.02 264.75 M591.02 252.50L599.02 252.50 M591.02 240.25L595.02 240.25 M591.02 228.00L599.02 228.00 M591.02 215.75L595.02 215.75 M591.02 203.50L599.02 203.50 M66.00 366.77L66.00 358.77 M66.00 491.93L66.00 499.93 M78.28 366.77L78.28 362.77 M78.28 491.93L78.28 495.93 M90.55 366.77L90.55 362.77 M90.55 491.93L90.55 495.93 M102.83 366.77L102.83 362.77 M102.83 491.93L102.83 495.93 M115.10 366.77L115.10 362.77 M115.10 491.93L115.10 495.93 M127.38 366.77L127.38 358.77 M127.38 491.93L127.38 499.93 M139.65 366.77L139.65 362.77 M139.65 491.93L139.65 495.93 M151.93 366.77L151.93 362.77 M151.93 491.93L151.93 495.93 M164.20 366.77L164.20 362.77 M164.20 491.93L164.20 495.93 M176.47 366.77L176.47 362.77 M176.47 491.93L176.47 495.93 M188.75 366.77L188.75 358.77 M188.75 491.93L188.75 499.93 M201.03 366.77L201.03 362.77 M201.03 491.93L201.03 495.93 M213.30 366.77L213.30 362.77 M213.30 491.93L213.30 495.93 M225.57 366.77L225.57 362.77 M225.57 491.93L225.57 495.93 M237.85 366.77L237.85 362.77 M237.85 491.93L237.85 495.93 M250.12 366.77L250.12 358.77 M250.12 491.93L250.12 499.93 M262.40 366.77L262.40 362.77 M262.40 491.93L262.40 495.93 M274.68 366.77L274.68 362.77 M274.68 491.93L274.68 495.93 M286.95 366.77L286.95 362.77 M286.95 491.93L286.95 495.93 M299.23 366.77L299.23 362.77 M299.23 491.93L299.23 495.93 M311.50 366.77L311.50 358.77 M311.50 491.93L311.50 499.93 M64.78 490.70L56.78 490.70 M64.78 482.52L60.78 482.52 M64.78 474.34L56.78 474.34 M64.78 466.16L60.78 466.16 M64.78 457.98L56.78 457.98 M64.78 449.80L60.78 449.80 M64.78 441.62L56.78 441.62 M64.78 433.44L60.78 433.44 M64.78 425.26L56.78 425.26 M64.78 417.08L60.78 417.08 M64.78 408.90L56.78 408.90 M64.78 400.72L60.78 400.72 M64.78 392.54L56.78 392.54 M64.78 384.36L60.78 384.36 M64.78 376.18L56.78 376.18 M64.78 368.00L60.78 368.00 M312.73 490.70L320.73 490.70 M312.73 478.43L316.73 478.43 M312.73 466.16L320.73 466.16 M312.73 453.89L316.73 453.89 M312.73 441.62L320.73 441.62 M312.73 429.35L316.73 429.35 M312.73 417.08L320.73 417.08 M312.73 404.81L316.73 404.81 M312.73 392.54L320.73 392.54 M312.73 380.27L316.73 380.27 M312.73 368.00L320.73 368.00 M344.50 366.77L344.50 358.77 M344.50 491.93L344.50 499.93 M356.76 366.77L356.76 362.77 M356.76 491.93L356.76 495.93 M369.03 366.77L369.03 362.77 M369.03 491.93L369.03 495.93 M381.30 366.77L381.30 362.77 M381.30 491.93L381.30 495.93 M393.56 366.77L393.56 362.77 M393.56 491.93L393.56 495.93 M405.82 366.77L405.82 358.77 M405.82 491.93L405.82 499.93 M418.09 366.77L418.09 362.77 M418.09 491.93L418.09 495.93 M430.36 366.77L430.36 362.77 M430.36 491.93L430.36 495.93 M442.62 366.77L442.62 362.77 M442.62 491.93L442.62 495.93 M454.88 366.77L454.88 362.77 M454.88 491.93L454.88 495.93 M467.15 366.77L467.15 358.77 M467.15 491.93L467.15 499.93 M479.41 366.77L479.41 362.77 M479.41 491.93L479.41 495.93 M491.68 366.77L491.68 362.77 M491.68 491.93L491.68 495.93 M503.94 366.77L503.94 362.77 M503.94 491.93L503.94 495.93 M516.21 366.77L516.21 362.77 M516.21 491.93L516.21 495.93 M528.47 366.77L528.47 358.77 M528.47 491.93L528.47 499.93 M540.74 366.77L540.74 362.77 M540.74 491.93L540.74 495.93 M553.00 366.77L553.00 362.77 M553.00 491.93L553.00 495.93 M565.27 366.77L565.27 362.77 M565.27 491.93L565.27 495.93 M577.53 366.77L577.53 362.77 M577.53 491.93L577.53 495.93 M589.80 366.77L589.80 358.77 M589.80 491.93L589.80 499.93 M343.27 490.70L335.27 490.70 M343.27 482.52L339.27 482.52 M343.27 474.34L335.27 474.34 M343.27 466.16L339.27 466.16 M343.27 457.98L335.27 457.98 M343.27 449.80L339.27 449.80 M343.27 441.62L335.27 441.62 M343.27 433.44L339.27 433.44 M343.27 425.26L335.27 425.26 M343.27 417.08L339.27 417.08 M343.27 408.90L335.27 408.90 M343.27 400.72L339.27 400.72 M343.27 392.54L335.27 392.54 M343.27 384.36L339.27 384.36 M343.27 376.18L335.27 376.18 M343.27 368.00L339.27 368.00 M591.02 490.70L599.02 490.70 M591.02 478.43L595.02 478.43 M591.02 466.16L599.02 466.16 M591.02 453.89L595.02 453.89 M591.02 441.62L599.02 441.62 M591.02 429.35L595.02 429.35 M591.02 417.08L599.02 417.08 M591.02 404.81L595.02 404.81 M591.02 392.54L599.02 392.54 M591.02 380.27L595.02 380.27 M591.02 368.00L599.02 368.00 M66.00 527.98L66.00 519.98 M66.00 653.12L66.00 661.12 M78.28 527.98L78.28 523.98 M78.28 653.12L78.28 657.12 M90.55 527.98L90.55 523.98 M90.55 653.12L90.55 657.12 M102.83 527.98L102.83 523.98 M102.83 653.12L102.83 657.12 M115.10 527.98L115.10 523.98 M115.10 653.12L115.10 657.12 M127.38 527.98L127.38 519.98 M127.38 653.12L127.38 661.12 M139.65 527.98L139.65 523.98 M139.65 653.12L139.65 657.12 M151.93 527.98L151.93 523.98 M151.93 653.12L151.93 657.12 M164.20 527.98L164.20 523.98 M164.20 653.12L164.20 657.12 M176.47 527.98L176.47 523.98 M176.47 653.12L176.47 657.12 M188.75 527.98L188.75 519.98 M188.75 653.12L188.75 661.12 M201.03 527.98L201.03 523.98 M201.03 653.12L201.03 657.12 M213.30 527.98L213.30 523.98 M213.30 653.12L213.30 657.12 M225.57 527.98L225.57 523.98 M225.57 653.12L225.57 657.12 M237.85 527.98L237.85 523.98 M237.85 653.12L237.85 657.12 M250.12 527.98L250.12 519.98 M250.12 653.12L250.12 661.12 M262.40 527.98L262.40 523.98 M262.40 653.12L262.40 657.12 M274.68 527.98L274.68 523.98 M274.68 653.12L274.68 657.12 M286.95 527.98L286.95 523.98 M286.95 653.12L286.95 657.12 M299.23 527.98L299.23 523.98 M299.23 653.12L299.23 657.12 M311.50 527.98L311.50 519.98 M311.50 653.12L311.50 661.12 M64.78 651.90L56.78 651.90 M64.78 643.72L60.78 643.72 M64.78 635.54L56.78 635.54 M64.78 627.36L60.78 627.36 M64.78 619.18L56.78 619.18 M64.78 611.00L60.78 611.00 M64.78 602.82L56.78 602.82 M64.78 594.64L60.78 594.64 M64.78 586.46L56.78 586.46 M64.78 578.28L60.78 578.28 M64.78 570.10L56.78 570.10 M64.78 561.92L60.78 561.92 M64.78 553.74L56.78 553.74 M64.78 545.56L60.78 545.56 M64.78 537.38L56.78 537.38 M64.78 529.20L60.78 529.20 M312.73 651.90L320.73 651.90 M312.73 624.63L316.73 624.63 M312.73 597.37L320.73 597.37 M312.73 570.10L316.73 570.10 M312.73 542.83L320.73 542.83 M344.50 527.98L344.50 519.98 M344.50 653.12L344.50 661.12 M356.76 527.98L356.76 523.98 M356.76 653.12L356.76 657.12 M369.03 527.98L369.03 523.98 M369.03 653.12L369.03 657.12 M381.30 527.98L381.30 523.98 M381.30 653.12L381.30 657.12 M393.56 527.98L393.56 523.98 M393.56 653.12L393.56 657.12 M405.82 527.98L405.82 519.98 M405.82 653.12L405.82 661.12 M418.09 527.98L418.09 523.98 M418.09 653.12L418.09 657.12 M430.36 527.98L430.36 523.98 M430.36 653.12L430.36 657.12 M442.62 527.98L442.62 523.98 M442.62 653.12L442.62 657.12 M454.88 527.98L454.88 523.98 M454.88 653.12L454.88 657.12 M467.15 527.98L467.15 519.98 M467.15 653.12L467.15 661.12 M479.41 527.98L479.41 523.98 M479.41 653.12L479.41 657.12 M491.68 527.98L491.68 523.98 M491.68 653.12L491.68 657.12 M503.94 527.98L503.94 523.98 M503.94 653.12L503.94 657.12 M516.21 527.98L516.21 523.98 M516.21 653.12L516.21 657.12 M528.47 527.98L528.47 519.98 M528.47 653.12L528.47 661.12 M540.74 527.98L540.74 523.98 M540.74 653.12L540.74 657.12 M553.00 527.98L553.00 523.98 M553.00 653.12L553.00 657.12 M565.27 527.98L565.27 523.98 M565.27 653.12L565.27 657.12 M577.53 527.98L577.53 523.98 M577.53 653.12L577.53 657.12 M589.80 527.98L589.80 519.98 M589.80 653.12L589.80 661.12 M343.27 651.90L335.27 651.90 M343.27 643.72L339.27 643.72 M343.27 635.54L335.27 635.54 M343.27 627.36L339.27 627.36 M343.27 619.18L335.27 619.18 M343.27 611.00L339.27 611.00 M343.27 602.82L335.27 602.82 M343.27 594.64L339.27 594.64 M343.27 586.46L335.27 586.46 M343.27 578.28L339.27 578.28 M343.27 570.10L335.27 570.10 M343.27 561.92L339.27 561.92 M343.27 553.74L335.27 553.74 M343.27 545.56L339.27 545.56 M343.27 537.38L335.27 537.38 M343.27 529.20L339.27 529.20 M591.02 651.90L599.02 651.90 M591.02 624.63L595.02 624.63 M591.02 597.37L599.02 597.37 M591.02 570.10L595.02 570.10 M591.02 542.83L599.02 542.83 M66.00 685.98L66.00 677.98 M66.00 811.02L66.00 819.02 M78.28 685.98L78.28 681.98 M78.28 811.02L78.28 815.02 M90.55 685.98L90.55 681.98 M90.55 811.02L90.55 815.02 M102.83 685.98L102.83 681.98 M102.83 811.02L102.83 815.02 M115.10 685.98L115.10 681.98 M115.10 811.02L115.10 815.02 M127.38 685.98L127.38 677.98 M127.38 811.02L127.38 819.02 M139.65 685.98L139.65 681.98 M139.65 811.02L139.65 815.02 M151.93 685.98L151.93 681.98 M151.93 811.02L151.93 815.02 M164.20 685.98L164.20 681.98 M164.20 811.02L164.20 815.02 M176.47 685.98L176.47 681.98 M176.47 811.02L176.47 815.02 M188.75 685.98L188.75 677.98 M188.75 811.02L188.75 819.02 M201.03 685.98L201.03 681.98 M201.03 811.02L201.03 815.02 M213.30 685.98L213.30 681.98 M213.30 811.02L213.30 815.02 M225.57 685.98L225.57 681.98 M225.57 811.02L225.57 815.02 M237.85 685.98L237.85 681.98 M237.85 811.02L237.85 815.02 M250.12 685.98L250.12 677.98 M250.12 811.02L250.12 819.02 M262.40 685.98L262.40 681.98 M262.40 811.02L262.40 815.02 M274.68 685.98L274.68 681.98 M274.68 811.02L274.68 815.02 M286.95 685.98L286.95 681.98 M286.95 811.02L286.95 815.02 M299.23 685.98L299.23 681.98 M299.23 811.02L299.23 815.02 M311.50 685.98L311.50 677.98 M311.50 811.02L311.50 819.02 M64.78 809.80L56.78 809.80 M64.78 801.63L60.78 801.63 M64.78 793.45L56.78 793.45 M64.78 785.28L60.78 785.28 M64.78 777.11L56.78 777.11 M64.78 768.93L60.78 768.93 M64.78 760.76L56.78 760.76 M64.78 752.59L60.78 752.59 M64.78 744.41L56.78 744.41 M64.78 736.24L60.78 736.24 M64.78 728.07L56.78 728.07 M64.78 719.89L60.78 719.89 M64.78 711.72L56.78 711.72 M64.78 703.55L60.78 703.55 M64.78 695.37L56.78 695.37 M64.78 687.20L60.78 687.20 M312.73 809.80L320.73 809.80 M312.73 782.56L316.73 782.56 M312.73 755.31L320.73 755.31 M312.73 728.07L316.73 728.07 M312.73 700.82L320.73 700.82 M344.50 685.98L344.50 677.98 M344.50 811.02L344.50 819.02 M356.76 685.98L356.76 681.98 M356.76 811.02L356.76 815.02 M369.03 685.98L369.03 681.98 M369.03 811.02L369.03 815.02 M381.30 685.98L381.30 681.98 M381.30 811.02L381.30 815.02 M393.56 685.98L393.56 681.98 M393.56 811.02L393.56 815.02 M405.82 685.98L405.82 677.98 M405.82 811.02L405.82 819.02 M418.09 685.98L418.09 681.98 M418.09 811.02L418.09 815.02 M430.36 685.98L430.36 681.98 M430.36 811.02L430.36 815.02 M442.62 685.98L442.62 681.98 M442.62 811.02L442.62 815.02 M454.88 685.98L454.88 681.98 M454.88 811.02L454.88 815.02 M467.15 685.98L467.15 677.98 M467.15 811.02L467.15 819.02 M479.41 685.98L479.41 681.98 M479.41 811.02L479.41 815.02 M491.68 685.98L491.68 681.98 M491.68 811.02L491.68 815.02 M503.94 685.98L503.94 681.98 M503.94 811.02L503.94 815.02 M516.21 685.98L516.21 681.98 M516.21 811.02L516.21 815.02 M528.47 685.98L528.47 677.98 M528.47 811.02L528.47 819.02 M540.74 685.98L540.74 681.98 M540.74 811.02L540.74 815.02 M553.00 685.98L553.00 681.98 M553.00 811.02L553.00 815.02 M565.27 685.98L565.27 681.98 M565.27 811.02L565.27 815.02 M577.53 685.98L577.53 681.98 M577.53 811.02L577.53 815.02 M589.80 685.98L589.80 677.98 M589.80 811.02L589.80 819.02 M343.27 809.80L335.27 809.80 M343.27 801.63L339.27 801.63 M343.27 793.45L335.27 793.45 M343.27 785.28L339.27 785.28 M343.27 777.11L335.27 777.11 M343.27 768.93L339.27 768.93 M343.27 760.76L335.27 760.76 M343.27 752.59L339.27 752.59 M343.27 744.41L335.27 744.41 M343.27 736.24L339.27 736.24 M343.27 728.07L335.27 728.07 M343.27 719.89L339.27 719.89 M343.27 711.72L335.27 711.72 M343.27 703.55L339.27 703.55 M343.27 695.37L335.27 695.37 M343.27 687.20L339.27 687.20 M591.02 809.80L599.02 809.80 M591.02 782.56L595.02 782.56 M591.02 755.31L599.02 755.31 M591.02 728.07L595.02 728.07 M591.02 700.82L599.02 700.82 M66.00 843.98L66.00 835.98 M66.00 968.93L66.00 976.93 M78.28 843.98L78.28 839.98 M78.28 968.93L78.28 972.93 M90.55 843.98L90.55 839.98 M90.55 968.93L90.55 972.93 M102.83 843.98L102.83 839.98 M102.83 968.93L102.83 972.93 M115.10 843.98L115.10 839.98 M115.10 968.93L115.10 972.93 M127.38 843.98L127.38 835.98 M127.38 968.93L127.38 976.93 M139.65 843.98L139.65 839.98 M139.65 968.93L139.65 972.93 M151.93 843.98L151.93 839.98 M151.93 968.93L151.93 972.93 M164.20 843.98L164.20 839.98 M164.20 968.93L164.20 972.93 M176.47 843.98L176.47 839.98 M176.47 968.93L176.47 972.93 M188.75 843.98L188.75 835.98 M188.75 968.93L188.75 976.93 M201.03 843.98L201.03 839.98 M201.03 968.93L201.03 972.93 M213.30 843.98L213.30 839.98 M213.30 968.93L213.30 972.93 M225.57 843.98L225.57 839.98 M225.57 968.93L225.57 972.93 M237.85 843.98L237.85 839.98 M237.85 968.93L237.85 972.93 M250.12 843.98L250.12 835.98 M250.12 968.93L250.12 976.93 M262.40 843.98L262.40 839.98 M262.40 968.93L262.40 972.93 M274.68 843.98L274.68 839.98 M274.68 968.93L274.68 972.93 M286.95 843.98L286.95 839.98 M286.95 968.93L286.95 972.93 M299.23 843.98L299.23 839.98 M299.23 968.93L299.23 972.93 M311.50 843.98L311.50 835.98 M311.50 968.93L311.50 976.93 M64.78 967.70L56.78 967.70 M64.78 943.20L60.78 943.20 M64.78 918.70L56.78 918.70 M64.78 894.20L60.78 894.20 M64.78 869.70L56.78 869.70 M64.78 845.20L60.78 845.20 M312.73 967.70L320.73 967.70 M312.73 926.87L316.73 926.87 M312.73 886.03L320.73 886.03 M312.73 845.20L316.73 845.20 M344.50 843.98L344.50 835.98 M344.50 968.93L344.50 976.93 M356.76 843.98L356.76 839.98 M356.76 968.93L356.76 972.93 M369.03 843.98L369.03 839.98 M369.03 968.93L369.03 972.93 M381.30 843.98L381.30 839.98 M381.30 968.93L381.30 972.93 M393.56 843.98L393.56 839.98 M393.56 968.93L393.56 972.93 M405.82 843.98L405.82 835.98 M405.82 968.93L405.82 976.93 M418.09 843.98L418.09 839.98 M418.09 968.93L418.09 972.93 M430.36 843.98L430.36 839.98 M430.36 968.93L430.36 972.93 M442.62 843.98L442.62 839.98 M442.62 968.93L442.62 972.93 M454.88 843.98L454.88 839.98 M454.88 968.93L454.88 972.93 M467.15 843.98L467.15 835.98 M467.15 968.93L467.15 976.93 M479.41 843.98L479.41 839.98 M479.41 968.93L479.41 972.93 M491.68 843.98L491.68 839.98 M491.68 968.93L491.68 972.93 M503.94 843.98L503.94 839.98 M503.94 968.93L503.94 972.93 M516.21 843.98L516.21 839.98 M516.21 968.93L516.21 972.93 M528.47 843.98L528.47 835.98 M528.47 968.93L528.47 976.93 M540.74 843.98L540.74 839.98 M540.74 968.93L540.74 972.93 M553.00 843.98L553.00 839.98 M553.00 968.93L553.00 972.93 M565.27 843.98L565.27 839.98 M565.27 968.93L565.27 972.93 M577.53 843.98L577.53 839.98 M577.53 968.93L577.53 972.93 M589.80 843.98L589.80 835.98 M589.80 968.93L589.80 976.93 M343.27 967.70L335.27 967.70 M343.27 943.20L339.27 943.20 M343.27 918.70L335.27 918.70 M343.27 894.20L339.27 894.20 M343.27 869.70L335.27 869.70 M343.27 845.20L339.27 845.20 M591.02 967.70L599.02 967.70 M591.02 926.87L595.02 926.87 M591.02 886.03L599.02 886.03 M591.02 845.20L595.02 845.20" stroke="#000" stroke-width="1.15" fill="none"/><rect x="66.0" y="46.0" width="245.50" height="122.50" fill="none" stroke="#000" stroke-width="2.45"/><rect x="344.5" y="46.0" width="245.30" height="122.50" fill="none" stroke="#000" stroke-width="2.45"/><rect x="66.0" y="203.5" width="245.50" height="122.50" fill="none" stroke="#000" stroke-width="2.45"/><rect x="344.5" y="203.5" width="245.30" height="122.50" fill="none" stroke="#000" stroke-width="2.45"/><rect x="66.0" y="368.0" width="245.50" height="122.70" fill="none" stroke="#000" stroke-width="2.45"/><rect x="344.5" y="368.0" width="245.30" height="122.70" fill="none" stroke="#000" stroke-width="2.45"/><rect x="66.0" y="529.2" width="245.50" height="122.70" fill="none" stroke="#000" stroke-width="2.45"/><rect x="344.5" y="529.2" width="245.30" height="122.70" fill="none" stroke="#000" stroke-width="2.45"/><rect x="66.0" y="687.2" width="245.50" height="122.60" fill="none" stroke="#000" stroke-width="2.45"/><rect x="344.5" y="687.2" width="245.30" height="122.60" fill="none" stroke="#000" stroke-width="2.45"/><rect x="66.0" y="845.2" width="245.50" height="122.50" fill="none" stroke="#000" stroke-width="2.45"/><rect x="344.5" y="845.2" width="245.30" height="122.50" fill="none" stroke="#000" stroke-width="2.45"/><line x1="165.2" y1="1004" x2="192.9" y2="1004" stroke="rgb(152,137,0)" stroke-width="3.0"/><line x1="293.7" y1="1004" x2="320.9" y2="1004" stroke="rgb(0,0,255)" stroke-width="3.0"/><line x1="418.1" y1="1004" x2="445.3" y2="1004" stroke="rgb(205,205,205)" stroke-width="3.0"/><g font-family='"Liberation Sans", sans-serif' fill="#000"><text transform="translate(66.60,35.10) scale(1,1.03)" font-size="17.0" text-anchor="middle" >0</text><text transform="translate(127.97,35.10) scale(1,1.03)" font-size="17.0" text-anchor="middle" >1</text><text transform="translate(189.35,35.10) scale(1,1.03)" font-size="17.0" text-anchor="middle" >2</text><text transform="translate(250.72,35.10) scale(1,1.03)" font-size="17.0" text-anchor="middle" >3</text><text transform="translate(312.10,35.10) scale(1,1.03)" font-size="17.0" text-anchor="middle" >4</text><text transform="translate(345.10,35.10) scale(1,1.03)" font-size="17.0" text-anchor="middle" >0</text><text transform="translate(406.43,35.10) scale(1,1.03)" font-size="17.0" text-anchor="middle" >1</text><text transform="translate(467.75,35.10) scale(1,1.03)" font-size="17.0" text-anchor="middle" >2</text><text transform="translate(529.07,35.10) scale(1,1.03)" font-size="17.0" text-anchor="middle" >3</text><text transform="translate(590.40,35.10) scale(1,1.03)" font-size="17.0" text-anchor="middle" >4</text><text transform="translate(193.75,13.90) scale(1,1.03)" font-size="17.1" text-anchor="middle" >Depth [km]</text><text transform="translate(472.35,13.90) scale(1,1.03)" font-size="17.1" text-anchor="middle" >Depth [km]</text><text transform="translate(48.90,174.80) scale(1,1.03)" font-size="17.0" text-anchor="end" >0</text><text transform="translate(48.90,150.30) scale(1,1.03)" font-size="17.0" text-anchor="end" >4</text><text transform="translate(48.90,125.80) scale(1,1.03)" font-size="17.0" text-anchor="end" >8</text><text transform="translate(48.90,101.30) scale(1,1.03)" font-size="17.0" text-anchor="end" >12</text><text transform="translate(48.90,76.80) scale(1,1.03)" font-size="17.0" text-anchor="end" >16</text><text transform="translate(48.90,52.30) scale(1,1.03)" font-size="17.0" text-anchor="end" >20</text><text transform="translate(48.90,332.30) scale(1,1.03)" font-size="17.0" text-anchor="end" >0</text><text transform="translate(48.90,315.97) scale(1,1.03)" font-size="17.0" text-anchor="end" >2</text><text transform="translate(48.90,299.63) scale(1,1.03)" font-size="17.0" text-anchor="end" >4</text><text transform="translate(48.90,283.30) scale(1,1.03)" font-size="17.0" text-anchor="end" >6</text><text transform="translate(48.90,266.97) scale(1,1.03)" font-size="17.0" text-anchor="end" >8</text><text transform="translate(48.90,250.63) scale(1,1.03)" font-size="17.0" text-anchor="end" >10</text><text transform="translate(48.90,234.30) scale(1,1.03)" font-size="17.0" text-anchor="end" >12</text><text transform="translate(48.90,217.97) scale(1,1.03)" font-size="17.0" text-anchor="end" >14</text><text transform="translate(48.90,497.00) scale(1,1.03)" font-size="17.0" text-anchor="end" >0</text><text transform="translate(48.90,480.64) scale(1,1.03)" font-size="17.0" text-anchor="end" >2</text><text transform="translate(48.90,464.28) scale(1,1.03)" font-size="17.0" text-anchor="end" >4</text><text transform="translate(48.90,447.92) scale(1,1.03)" font-size="17.0" text-anchor="end" >6</text><text transform="translate(48.90,431.56) scale(1,1.03)" font-size="17.0" text-anchor="end" >8</text><text transform="translate(48.90,415.20) scale(1,1.03)" font-size="17.0" text-anchor="end" >10</text><text transform="translate(48.90,398.84) scale(1,1.03)" font-size="17.0" text-anchor="end" >12</text><text transform="translate(48.90,382.48) scale(1,1.03)" font-size="17.0" text-anchor="end" >14</text><text transform="translate(48.90,658.20) scale(1,1.03)" font-size="17.0" text-anchor="end" >0</text><text transform="translate(48.90,641.84) scale(1,1.03)" font-size="17.0" text-anchor="end" >2</text><text transform="translate(48.90,625.48) scale(1,1.03)" font-size="17.0" text-anchor="end" >4</text><text transform="translate(48.90,609.12) scale(1,1.03)" font-size="17.0" text-anchor="end" >6</text><text transform="translate(48.90,592.76) scale(1,1.03)" font-size="17.0" text-anchor="end" >8</text><text transform="translate(48.90,576.40) scale(1,1.03)" font-size="17.0" text-anchor="end" >10</text><text transform="translate(48.90,560.04) scale(1,1.03)" font-size="17.0" text-anchor="end" >12</text><text transform="translate(48.90,543.68) scale(1,1.03)" font-size="17.0" text-anchor="end" >14</text><text transform="translate(48.90,816.10) scale(1,1.03)" font-size="17.0" text-anchor="end" >0</text><text transform="translate(48.90,799.75) scale(1,1.03)" font-size="17.0" text-anchor="end" >2</text><text transform="translate(48.90,783.41) scale(1,1.03)" font-size="17.0" text-anchor="end" >4</text><text transform="translate(48.90,767.06) scale(1,1.03)" font-size="17.0" text-anchor="end" >6</text><text transform="translate(48.90,750.71) scale(1,1.03)" font-size="17.0" text-anchor="end" >8</text><text transform="translate(48.90,734.37) scale(1,1.03)" font-size="17.0" text-anchor="end" >10</text><text transform="translate(48.90,718.02) scale(1,1.03)" font-size="17.0" text-anchor="end" >12</text><text transform="translate(48.90,701.67) scale(1,1.03)" font-size="17.0" text-anchor="end" >14</text><text transform="translate(48.90,974.00) scale(1,1.03)" font-size="17.0" text-anchor="end" >0</text><text transform="translate(48.90,925.00) scale(1,1.03)" font-size="17.0" text-anchor="end" >2</text><text transform="translate(48.90,876.00) scale(1,1.03)" font-size="17.0" text-anchor="end" >4</text><text transform="translate(653.70,174.80) scale(1,1.03)" font-size="17.0" text-anchor="end" >0</text><text transform="translate(653.70,150.30) scale(1,1.03)" font-size="17.0" text-anchor="end" >2000</text><text transform="translate(653.70,125.80) scale(1,1.03)" font-size="17.0" text-anchor="end" >4000</text><text transform="translate(653.70,101.30) scale(1,1.03)" font-size="17.0" text-anchor="end" >6000</text><text transform="translate(653.70,76.80) scale(1,1.03)" font-size="17.0" text-anchor="end" >8000</text><text transform="translate(653.70,52.30) scale(1,1.03)" font-size="17.0" text-anchor="end" >10000</text><text transform="translate(653.70,332.30) scale(1,1.03)" font-size="17.0" text-anchor="end" >0</text><text transform="translate(653.70,307.80) scale(1,1.03)" font-size="17.0" text-anchor="end" >2000</text><text transform="translate(653.70,283.30) scale(1,1.03)" font-size="17.0" text-anchor="end" >4000</text><text transform="translate(653.70,258.80) scale(1,1.03)" font-size="17.0" text-anchor="end" >6000</text><text transform="translate(653.70,234.30) scale(1,1.03)" font-size="17.0" text-anchor="end" >8000</text><text transform="translate(653.70,209.80) scale(1,1.03)" font-size="17.0" text-anchor="end" >10000</text><text transform="translate(653.70,497.00) scale(1,1.03)" font-size="17.0" text-anchor="end" >0</text><text transform="translate(653.70,472.46) scale(1,1.03)" font-size="17.0" text-anchor="end" >2000</text><text transform="translate(653.70,447.92) scale(1,1.03)" font-size="17.0" text-anchor="end" >4000</text><text transform="translate(653.70,423.38) scale(1,1.03)" font-size="17.0" text-anchor="end" >6000</text><text transform="translate(653.70,398.84) scale(1,1.03)" font-size="17.0" text-anchor="end" >8000</text><text transform="translate(653.70,374.30) scale(1,1.03)" font-size="17.0" text-anchor="end" >10000</text><text transform="translate(644.10,658.20) scale(1,1.03)" font-size="17.0" text-anchor="end" >0</text><text transform="translate(644.10,603.67) scale(1,1.03)" font-size="17.0" text-anchor="end" >2000</text><text transform="translate(644.10,549.13) scale(1,1.03)" font-size="17.0" text-anchor="end" >4000</text><text transform="translate(644.10,816.10) scale(1,1.03)" font-size="17.0" text-anchor="end" >0</text><text transform="translate(644.10,761.61) scale(1,1.03)" font-size="17.0" text-anchor="end" >2000</text><text transform="translate(644.10,707.12) scale(1,1.03)" font-size="17.0" text-anchor="end" >4000</text><text transform="translate(644.10,974.00) scale(1,1.03)" font-size="17.0" text-anchor="end" >0</text><text transform="translate(644.10,933.17) scale(1,1.03)" font-size="17.0" text-anchor="end" >1000</text><text transform="translate(644.10,892.33) scale(1,1.03)" font-size="17.0" text-anchor="end" >2000</text><text transform="translate(644.10,851.50) scale(1,1.03)" font-size="17.0" text-anchor="end" >3000</text><text transform="translate(17.1,110.50) rotate(-90) scale(1,1.03)" font-size="17.1" text-anchor="middle">Mobility [x10<tspan font-size="11.97" dy="-6.5">-12</tspan><tspan dy="6.5">]</tspan></text><text transform="translate(17.1,264.30) rotate(-90) scale(1,1.03)" font-size="17.1" text-anchor="middle">Mobility [x10<tspan font-size="11.97" dy="-6.5">-12</tspan><tspan dy="6.5">]</tspan></text><text transform="translate(17.1,428.20) rotate(-90) scale(1,1.03)" font-size="17.1" text-anchor="middle">Mobility [x10<tspan font-size="11.97" dy="-6.5">-12</tspan><tspan dy="6.5">]</tspan></text><text transform="translate(17.1,590.40) rotate(-90) scale(1,1.03)" font-size="17.1" text-anchor="middle">Mobility [x10<tspan font-size="11.97" dy="-6.5">-13</tspan><tspan dy="6.5">]</tspan></text><text transform="translate(17.1,748.50) rotate(-90) scale(1,1.03)" font-size="17.1" text-anchor="middle">Mobility [x10<tspan font-size="11.97" dy="-6.5">-13</tspan><tspan dy="6.5">]</tspan></text><text transform="translate(17.1,914.25) rotate(-90) scale(1,1.03)" font-size="17.1" text-anchor="middle">Mobility [x10<tspan font-size="11.97" dy="-6.5">-13</tspan><tspan dy="6.5">]</tspan></text><text transform="translate(680.2,106.60) rotate(-90) scale(1,1.03)" font-size="17.1" text-anchor="middle">Buoyancy</text><text transform="translate(680.2,264.30) rotate(-90) scale(1,1.03)" font-size="17.1" text-anchor="middle">Buoyancy</text><text transform="translate(680.2,429.20) rotate(-90) scale(1,1.03)" font-size="17.1" text-anchor="middle">Buoyancy</text><text transform="translate(670.7,590.30) rotate(-90) scale(1,1.03)" font-size="17.1" text-anchor="middle">Buoyancy</text><text transform="translate(670.7,748.10) rotate(-90) scale(1,1.03)" font-size="17.1" text-anchor="middle">Buoyancy</text><text transform="translate(670.7,905.90) rotate(-90) scale(1,1.03)" font-size="17.1" text-anchor="middle">Buoyancy</text><text transform="translate(68.90,157.50) scale(1,1.08)" font-size="20.7" text-anchor="start" >H<tspan font-size="14.8" dy="5.2">2</tspan></text><text transform="translate(346.90,159.50) scale(1,1.08)" font-size="20.7" text-anchor="start" >H<tspan font-size="14.8" dy="5.2">2</tspan></text><text transform="translate(306.40,219.50) scale(1,1.07)" font-size="20.7" text-anchor="end" >Dry gas</text><text transform="translate(587.20,219.70) scale(1,1.07)" font-size="20.7" text-anchor="end" >Dry gas</text><text transform="translate(307.80,386.40) scale(1,1.07)" font-size="20.7" text-anchor="end" >Wet gas</text><text transform="translate(585.90,386.40) scale(1,1.07)" font-size="20.7" text-anchor="end" >Wet gas</text><text transform="translate(307.20,548.70) scale(1,1.07)" font-size="20.7" text-anchor="end" >Volatile oil</text><text transform="translate(586.10,547.90) scale(1,1.07)" font-size="20.7" text-anchor="end" >Volatile oil</text><text transform="translate(305.90,704.40) scale(1,1.07)" font-size="20.7" text-anchor="end" >Light oil</text><text transform="translate(585.90,704.40) scale(1,1.07)" font-size="20.7" text-anchor="end" >Light oil</text><text transform="translate(308.70,865.40) scale(1,1.07)" font-size="20.7" text-anchor="end" >Black oil</text><text transform="translate(586.50,865.00) scale(1,1.07)" font-size="20.7" text-anchor="end" >Black oil</text><text transform="translate(197.20,1009.00) scale(1,1.03)" font-size="17.1" text-anchor="start" >Sandstone</text><text transform="translate(325.10,1009.00) scale(1,1.03)" font-size="17.1" text-anchor="start" >Carbonate</text><text transform="translate(450.10,1009.00) scale(1,1.03)" font-size="17.1" text-anchor="start" >Buoyancy</text></g></svg>
</body></html>
